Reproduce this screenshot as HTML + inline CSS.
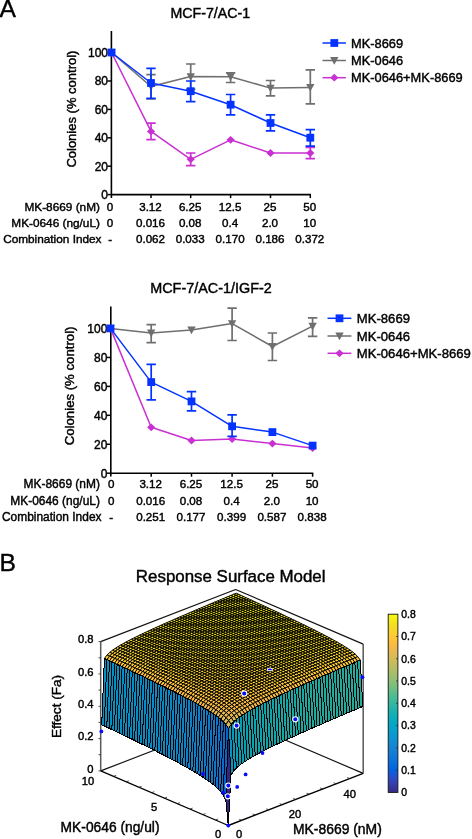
<!DOCTYPE html>
<html lang="en"><head><meta charset="utf-8"><title>Figure</title>
<style>
html,body{margin:0;padding:0;background:#fff}
svg{display:block}
text{font-family:'Liberation Sans', sans-serif;fill:#000;stroke:#000;stroke-width:0.42px}
</style></head>
<body>
<svg width="472" height="839" viewBox="0 0 472 839">
<rect width="472" height="839" fill="#fff"/>
<text x="-0.6" y="17.2" font-size="24.6">A</text>
<text x="-0.6" y="571" font-size="24.6">B</text>
<g id="chart1">
<path d="M111.4 31V198.0M110.9 194.6H311.0" fill="none" stroke="#000" stroke-width="1.6"/>
<path d="M107.4 194.60H111.4" stroke="#000" stroke-width="1.5"/>
<text x="108.0" y="198.90" text-anchor="end" font-size="12">0</text>
<path d="M107.4 166.20H111.4" stroke="#000" stroke-width="1.5"/>
<text x="108.0" y="170.50" text-anchor="end" font-size="12">20</text>
<path d="M107.4 137.80H111.4" stroke="#000" stroke-width="1.5"/>
<text x="108.0" y="142.10" text-anchor="end" font-size="12">40</text>
<path d="M107.4 109.40H111.4" stroke="#000" stroke-width="1.5"/>
<text x="108.0" y="113.70" text-anchor="end" font-size="12">60</text>
<path d="M107.4 81.00H111.4" stroke="#000" stroke-width="1.5"/>
<text x="108.0" y="85.30" text-anchor="end" font-size="12">80</text>
<path d="M107.4 52.60H111.4" stroke="#000" stroke-width="1.5"/>
<text x="108.0" y="56.90" text-anchor="end" font-size="12">100</text>
<path d="M151 194.6v3.5" stroke="#000" stroke-width="1.5"/>
<path d="M190.7 194.6v3.5" stroke="#000" stroke-width="1.5"/>
<path d="M230.6 194.6v3.5" stroke="#000" stroke-width="1.5"/>
<path d="M270.5 194.6v3.5" stroke="#000" stroke-width="1.5"/>
<path d="M310.3 194.6v3.5" stroke="#000" stroke-width="1.5"/>
<path d="M111.5 52.5 L151.0 131.4 L190.7 159.3 L230.6 139.8 L270.5 153.0 L310.3 153.0" fill="none" stroke="#c930d2" stroke-width="1.5" stroke-linejoin="round"/>
<path d="M107.4 52.5L111.5 48.6L115.6 52.5L111.5 56.4z" fill="#c930d2"/>
<path d="M151 123.2V139.7M146.3 123.2h9.4M146.3 139.7h9.4" fill="none" stroke="#c930d2" stroke-width="1.7"/>
<path d="M146.9 131.4L151.0 127.5L155.1 131.4L151.0 135.3z" fill="#c930d2"/>
<path d="M190.7 153.0V165.7M186.0 153.0h9.4M186.0 165.7h9.4" fill="none" stroke="#c930d2" stroke-width="1.7"/>
<path d="M186.6 159.3L190.7 155.4L194.8 159.3L190.7 163.2z" fill="#c930d2"/>
<path d="M226.5 139.8L230.6 135.9L234.7 139.8L230.6 143.7z" fill="#c930d2"/>
<path d="M266.4 153.0L270.5 149.1L274.6 153.0L270.5 156.9z" fill="#c930d2"/>
<path d="M310.3 147.4V158.6M305.6 147.4h9.4M305.6 158.6h9.4" fill="none" stroke="#c930d2" stroke-width="1.7"/>
<path d="M306.2 153.0L310.3 149.1L314.4 153.0L310.3 156.9z" fill="#c930d2"/>
<path d="M111.5 52.5 L151.0 86.5 L190.7 76.6 L230.6 76.7 L270.5 88.1 L310.3 87.4" fill="none" stroke="#6f6f6f" stroke-width="1.5" stroke-linejoin="round"/>
<path d="M107.3 49.1h8.4L111.5 56.7z" fill="#6f6f6f"/>
<path d="M151 74.7V99.0M146.3 74.7h9.4M146.3 99.0h9.4" fill="none" stroke="#6f6f6f" stroke-width="1.7"/>
<path d="M146.8 83.1h8.4L151.0 90.7z" fill="#6f6f6f"/>
<path d="M190.7 64.0V89.2M186.0 64.0h9.4M186.0 89.2h9.4" fill="none" stroke="#6f6f6f" stroke-width="1.7"/>
<path d="M186.5 73.2h8.4L190.7 80.8z" fill="#6f6f6f"/>
<path d="M230.6 72.8V82.5M225.9 72.8h9.4M225.9 82.5h9.4" fill="none" stroke="#6f6f6f" stroke-width="1.7"/>
<path d="M226.4 73.3h8.4L230.6 80.9z" fill="#6f6f6f"/>
<path d="M270.5 80.5V95.8M265.8 80.5h9.4M265.8 95.8h9.4" fill="none" stroke="#6f6f6f" stroke-width="1.7"/>
<path d="M266.3 84.7h8.4L270.5 92.3z" fill="#6f6f6f"/>
<path d="M310.3 69.8V103.9M305.6 69.8h9.4M305.6 103.9h9.4" fill="none" stroke="#6f6f6f" stroke-width="1.7"/>
<path d="M306.1 84.0h8.4L310.3 91.6z" fill="#6f6f6f"/>
<path d="M111.5 52.5 L151.0 83.0 L190.7 91.2 L230.6 104.7 L270.5 123.0 L310.3 137.7" fill="none" stroke="#0433ff" stroke-width="1.5" stroke-linejoin="round"/>
<rect x="107.6" y="48.6" width="7.8" height="7.8" fill="#0433ff"/>
<path d="M151 68.3V98.3M146.3 68.3h9.4M146.3 98.3h9.4" fill="none" stroke="#0433ff" stroke-width="1.7"/>
<rect x="147.1" y="79.1" width="7.8" height="7.8" fill="#0433ff"/>
<path d="M190.7 81.0V101.6M186.0 81.0h9.4M186.0 101.6h9.4" fill="none" stroke="#0433ff" stroke-width="1.7"/>
<rect x="186.8" y="87.3" width="7.8" height="7.8" fill="#0433ff"/>
<path d="M230.6 94.5V114.8M225.9 94.5h9.4M225.9 114.8h9.4" fill="none" stroke="#0433ff" stroke-width="1.7"/>
<rect x="226.7" y="100.8" width="7.8" height="7.8" fill="#0433ff"/>
<path d="M270.5 114.8V130.9M265.8 114.8h9.4M265.8 130.9h9.4" fill="none" stroke="#0433ff" stroke-width="1.7"/>
<rect x="266.6" y="119.1" width="7.8" height="7.8" fill="#0433ff"/>
<path d="M310.3 129.6V146.1M305.6 129.6h9.4M305.6 146.1h9.4" fill="none" stroke="#0433ff" stroke-width="1.7"/>
<rect x="306.4" y="133.8" width="7.8" height="7.8" fill="#0433ff"/>
<text x="210.3" y="17.8" text-anchor="middle" font-size="14.2">MCF-7/AC-1</text>
<path d="M322.5 43.0h23.4" stroke="#0433ff" stroke-width="1.5"/>
<rect x="330.4" y="39.1" width="7.8" height="7.8" fill="#0433ff"/>
<text x="351.0" y="47.6" font-size="12.85">MK-8669</text>
<path d="M322.5 60.5h23.4" stroke="#6f6f6f" stroke-width="1.5"/>
<path d="M330.1 57.1h8.4L334.3 64.7z" fill="#6f6f6f"/>
<text x="351.0" y="65.1" font-size="12.85">MK-0646</text>
<path d="M322.5 77.7h23.4" stroke="#c930d2" stroke-width="1.5"/>
<path d="M330.2 77.7L334.3 73.8L338.4 77.7L334.3 81.6z" fill="#c930d2"/>
<text x="351.0" y="82.3" font-size="12.85">MK-0646+MK-8669</text>
<text x="99.9" y="210.5" text-anchor="end" font-size="11.80">MK-8669 (nM)</text>
<text x="110.1" y="210.5" text-anchor="middle" font-size="11.6">0</text>
<text x="150.5" y="210.5" text-anchor="middle" font-size="11.6">3.12</text>
<text x="190.2" y="210.5" text-anchor="middle" font-size="11.6">6.25</text>
<text x="230.1" y="210.5" text-anchor="middle" font-size="11.6">12.5</text>
<text x="270.0" y="210.5" text-anchor="middle" font-size="11.6">25</text>
<text x="309.8" y="210.5" text-anchor="middle" font-size="11.6">50</text>
<text x="99.9" y="227" text-anchor="end" font-size="11.80">MK-0646 (ng/uL)</text>
<text x="110.1" y="227" text-anchor="middle" font-size="11.6">0</text>
<text x="150.5" y="227" text-anchor="middle" font-size="11.6">0.016</text>
<text x="190.2" y="227" text-anchor="middle" font-size="11.6">0.08</text>
<text x="230.1" y="227" text-anchor="middle" font-size="11.6">0.4</text>
<text x="270.0" y="227" text-anchor="middle" font-size="11.6">2.0</text>
<text x="309.8" y="227" text-anchor="middle" font-size="11.6">10</text>
<text x="101.5" y="242.6" text-anchor="end" font-size="11.80">Combination Index</text>
<text x="110.1" y="242.6" text-anchor="middle" font-size="11.6">-</text>
<text x="150.5" y="242.6" text-anchor="middle" font-size="11.6">0.062</text>
<text x="190.2" y="242.6" text-anchor="middle" font-size="11.6">0.033</text>
<text x="230.1" y="242.6" text-anchor="middle" font-size="11.6">0.170</text>
<text x="270.0" y="242.6" text-anchor="middle" font-size="11.6">0.186</text>
<text x="309.8" y="242.6" text-anchor="middle" font-size="11.6">0.372</text>
<text transform="translate(75.5 109.1) rotate(-90)" text-anchor="middle" font-size="13">Colonies (% control)</text>
</g>
<g id="chart2">
<path d="M110.8 306.5V476.6M110.3 473.2H313.3" fill="none" stroke="#000" stroke-width="1.6"/>
<path d="M106.8 473.20H110.8" stroke="#000" stroke-width="1.5"/>
<text x="107.4" y="477.50" text-anchor="end" font-size="12">0</text>
<path d="M106.8 444.26H110.8" stroke="#000" stroke-width="1.5"/>
<text x="107.4" y="448.56" text-anchor="end" font-size="12">20</text>
<path d="M106.8 415.32H110.8" stroke="#000" stroke-width="1.5"/>
<text x="107.4" y="419.62" text-anchor="end" font-size="12">40</text>
<path d="M106.8 386.38H110.8" stroke="#000" stroke-width="1.5"/>
<text x="107.4" y="390.68" text-anchor="end" font-size="12">60</text>
<path d="M106.8 357.44H110.8" stroke="#000" stroke-width="1.5"/>
<text x="107.4" y="361.74" text-anchor="end" font-size="12">80</text>
<path d="M106.8 328.50H110.8" stroke="#000" stroke-width="1.5"/>
<text x="107.4" y="332.80" text-anchor="end" font-size="12">100</text>
<path d="M151.2 473.2v3.5" stroke="#000" stroke-width="1.5"/>
<path d="M191.5 473.2v3.5" stroke="#000" stroke-width="1.5"/>
<path d="M232.1 473.2v3.5" stroke="#000" stroke-width="1.5"/>
<path d="M272.4 473.2v3.5" stroke="#000" stroke-width="1.5"/>
<path d="M312.6 473.2v3.5" stroke="#000" stroke-width="1.5"/>
<path d="M110.5 328.4 L151.2 333.0 L191.5 330.0 L232.1 323.6 L272.4 346.5 L312.6 326.2" fill="none" stroke="#6f6f6f" stroke-width="1.5" stroke-linejoin="round"/>
<path d="M106.3 325.0h8.4L110.5 332.6z" fill="#6f6f6f"/>
<path d="M151.2 324.7V342.7M146.5 324.7h9.4M146.5 342.7h9.4" fill="none" stroke="#6f6f6f" stroke-width="1.7"/>
<path d="M147.0 329.6h8.4L151.2 337.2z" fill="#6f6f6f"/>
<path d="M187.3 326.6h8.4L191.5 334.2z" fill="#6f6f6f"/>
<path d="M232.1 308.1V340.5M227.4 308.1h9.4M227.4 340.5h9.4" fill="none" stroke="#6f6f6f" stroke-width="1.7"/>
<path d="M227.9 320.2h8.4L232.1 327.8z" fill="#6f6f6f"/>
<path d="M272.4 333.0V360.5M267.7 333.0h9.4M267.7 360.5h9.4" fill="none" stroke="#6f6f6f" stroke-width="1.7"/>
<path d="M268.2 343.1h8.4L272.4 350.7z" fill="#6f6f6f"/>
<path d="M312.6 317.8V336.4M307.9 317.8h9.4M307.9 336.4h9.4" fill="none" stroke="#6f6f6f" stroke-width="1.7"/>
<path d="M308.4 322.8h8.4L312.6 330.4z" fill="#6f6f6f"/>
<path d="M110.5 328.4 L151.2 427.3 L191.5 440.5 L232.1 439.0 L272.4 443.6 L312.6 448.1" fill="none" stroke="#c930d2" stroke-width="1.5" stroke-linejoin="round"/>
<path d="M106.4 328.4L110.5 324.5L114.6 328.4L110.5 332.3z" fill="#c930d2"/>
<path d="M147.1 427.3L151.2 423.4L155.3 427.3L151.2 431.2z" fill="#c930d2"/>
<path d="M187.4 440.5L191.5 436.6L195.6 440.5L191.5 444.4z" fill="#c930d2"/>
<path d="M228.0 439.0L232.1 435.1L236.2 439.0L232.1 442.9z" fill="#c930d2"/>
<path d="M268.3 443.6L272.4 439.7L276.5 443.6L272.4 447.5z" fill="#c930d2"/>
<path d="M308.5 448.1L312.6 444.2L316.7 448.1L312.6 452.0z" fill="#c930d2"/>
<path d="M110.5 328.4 L151.2 382.1 L191.5 401.4 L232.1 426.3 L272.4 432.1 L312.6 445.6" fill="none" stroke="#0433ff" stroke-width="1.5" stroke-linejoin="round"/>
<rect x="106.6" y="324.5" width="7.8" height="7.8" fill="#0433ff"/>
<path d="M151.2 364.3V399.9M146.5 364.3h9.4M146.5 399.9h9.4" fill="none" stroke="#0433ff" stroke-width="1.7"/>
<rect x="147.3" y="378.2" width="7.8" height="7.8" fill="#0433ff"/>
<path d="M191.5 391.6V410.8M186.8 391.6h9.4M186.8 410.8h9.4" fill="none" stroke="#0433ff" stroke-width="1.7"/>
<rect x="187.6" y="397.5" width="7.8" height="7.8" fill="#0433ff"/>
<path d="M232.1 414.9V436.4M227.4 414.9h9.4M227.4 436.4h9.4" fill="none" stroke="#0433ff" stroke-width="1.7"/>
<rect x="228.2" y="422.4" width="7.8" height="7.8" fill="#0433ff"/>
<rect x="268.5" y="428.2" width="7.8" height="7.8" fill="#0433ff"/>
<rect x="308.7" y="441.7" width="7.8" height="7.8" fill="#0433ff"/>
<text x="211" y="292.6" text-anchor="middle" font-size="14.4">MCF-7/AC-1/IGF-2</text>
<path d="M327.5 318.3h23.9" stroke="#0433ff" stroke-width="1.5"/>
<rect x="335.6" y="314.4" width="7.8" height="7.8" fill="#0433ff"/>
<text x="356.8" y="322.9" font-size="13.11">MK-8669</text>
<path d="M327.5 336.0h23.9" stroke="#6f6f6f" stroke-width="1.5"/>
<path d="M335.3 332.6h8.4L339.5 340.2z" fill="#6f6f6f"/>
<text x="356.8" y="340.6" font-size="13.11">MK-0646</text>
<path d="M327.5 353.3h23.9" stroke="#c930d2" stroke-width="1.5"/>
<path d="M335.4 353.3L339.5 349.4L343.6 353.3L339.5 357.2z" fill="#c930d2"/>
<text x="356.8" y="357.9" font-size="13.11">MK-0646+MK-8669</text>
<text x="99.9" y="488.3" text-anchor="end" font-size="11.94">MK-8669 (nM)</text>
<text x="111.3" y="488.3" text-anchor="middle" font-size="11.6">0</text>
<text x="150.7" y="488.3" text-anchor="middle" font-size="11.6">3.12</text>
<text x="191.0" y="488.3" text-anchor="middle" font-size="11.6">6.25</text>
<text x="231.6" y="488.3" text-anchor="middle" font-size="11.6">12.5</text>
<text x="271.9" y="488.3" text-anchor="middle" font-size="11.6">25</text>
<text x="312.1" y="488.3" text-anchor="middle" font-size="11.6">50</text>
<text x="99.9" y="505" text-anchor="end" font-size="11.94">MK-0646 (ng/uL)</text>
<text x="111.3" y="505" text-anchor="middle" font-size="11.6">0</text>
<text x="150.7" y="505" text-anchor="middle" font-size="11.6">0.016</text>
<text x="191.0" y="505" text-anchor="middle" font-size="11.6">0.08</text>
<text x="231.6" y="505" text-anchor="middle" font-size="11.6">0.4</text>
<text x="271.9" y="505" text-anchor="middle" font-size="11.6">2.0</text>
<text x="312.1" y="505" text-anchor="middle" font-size="11.6">10</text>
<text x="101.5" y="520.6" text-anchor="end" font-size="11.94">Combination Index</text>
<text x="111.3" y="520.6" text-anchor="middle" font-size="11.6">-</text>
<text x="150.7" y="520.6" text-anchor="middle" font-size="11.6">0.251</text>
<text x="191.0" y="520.6" text-anchor="middle" font-size="11.6">0.177</text>
<text x="231.6" y="520.6" text-anchor="middle" font-size="11.6">0.399</text>
<text x="271.9" y="520.6" text-anchor="middle" font-size="11.6">0.587</text>
<text x="312.1" y="520.6" text-anchor="middle" font-size="11.6">0.838</text>
<text transform="translate(73.7 385.9) rotate(-90)" text-anchor="middle" font-size="13.2">Colonies (% control)</text>
</g>
<g id="panelB">
<path d="M100.7 770.9L235.6 718.8M235.6 718.8L363.2 773.4M100.7 641.6L235.6 589.5M235.6 589.5L363.2 644.1" fill="none" stroke="#111" stroke-width="1.15"/>
<path d="M100.7 770.9L100.7 641.6M363.2 773.4L363.2 644.1" fill="none" stroke="#5a5a5a" stroke-width="1.5"/>
<path d="M228.3 825.5L100.7 770.9M228.3 825.5L363.2 773.4" fill="none" stroke="#000" stroke-width="1.35"/>
<path d="M241.8 820.3l-2.6 -1.1M215.5 820.0l2.6 -1M255.3 815.1l-2.6 -1.1M202.8 814.6l2.6 -1M268.8 809.9l-2.6 -1.1M190.0 809.1l2.6 -1M282.3 804.7l-2.6 -1.1M177.3 803.7l2.6 -1M295.8 799.5l-2.6 -1.1M164.5 798.2l2.6 -1M309.2 794.2l-2.6 -1.1M151.7 792.7l2.6 -1M322.7 789.0l-2.6 -1.1M139.0 787.3l2.6 -1M336.2 783.8l-2.6 -1.1M126.2 781.8l2.6 -1M349.7 778.6l-2.6 -1.1M113.5 776.4l2.6 -1M100.7 770.9h-2.2M100.7 754.7h-2.2M100.7 738.6h-2.2M100.7 722.4h-2.2M100.7 706.3h-2.2M100.7 690.1h-2.2M100.7 673.9h-2.2M100.7 657.8h-2.2M100.7 641.6h-2.2" fill="none" stroke="#222" stroke-width="0.8"/>
<g stroke="#000" stroke-width="0.98" stroke-linejoin="round"><path d="M236.06 595.45l2.69-1.11l-2.53-1.16l-2.69 1.11z" fill="#f5ee16"/><path d="M233.37 596.57l2.69-1.11l-2.53-1.16l-2.69 1.11z" fill="#f5ee16"/><path d="M238.59 596.61l2.69-1.11l-2.53-1.16l-2.69 1.11z" fill="#f5ee16"/><path d="M230.68 597.68l2.69-1.12l-2.53-1.16l-2.69 1.12z" fill="#f5ee16"/><path d="M235.9 597.72l2.69-1.11l-2.53-1.16l-2.69 1.11z" fill="#f5ee16"/><path d="M241.12 597.77l2.69-1.11l-2.53-1.16l-2.69 1.11z" fill="#f5ee16"/><path d="M227.99 598.8l2.69-1.12l-2.53-1.16l-2.69 1.12z" fill="#f5ed17"/><path d="M233.21 598.84l2.69-1.12l-2.53-1.16l-2.69 1.12z" fill="#f5ed17"/><path d="M238.43 598.88l2.69-1.11l-2.53-1.16l-2.69 1.11z" fill="#f5ed17"/><path d="M243.65 598.93l2.69-1.11l-2.53-1.16l-2.69 1.11z" fill="#f5ed17"/><path d="M225.3 599.92l2.69-1.12l-2.53-1.16l-2.69 1.12z" fill="#f5ed17"/><path d="M230.52 599.96l2.69-1.12l-2.53-1.16l-2.69 1.12z" fill="#f5ed17"/><path d="M235.74 600l2.69-1.12l-2.53-1.16l-2.69 1.12z" fill="#f5ed17"/><path d="M240.96 600.04l2.69-1.12l-2.53-1.16l-2.69 1.11z" fill="#f5ed17"/><path d="M246.18 600.09l2.69-1.11l-2.53-1.16l-2.69 1.11z" fill="#f5ed17"/><path d="M222.61 601.04l2.69-1.12l-2.53-1.16l-2.69 1.12z" fill="#f5ed17"/><path d="M227.83 601.08l2.69-1.12l-2.53-1.16l-2.69 1.12z" fill="#f5ed17"/><path d="M233.05 601.12l2.69-1.12l-2.53-1.16l-2.69 1.12z" fill="#f5ed17"/><path d="M238.27 601.16l2.69-1.12l-2.53-1.16l-2.69 1.12z" fill="#f5ed17"/><path d="M243.49 601.2l2.69-1.12l-2.53-1.16l-2.69 1.12z" fill="#f5ed17"/><path d="M248.72 601.25l2.69-1.11l-2.53-1.16l-2.69 1.11z" fill="#f5ed17"/><path d="M219.92 602.17l2.69-1.12l-2.53-1.16l-2.69 1.12z" fill="#f5ed17"/><path d="M225.14 602.2l2.69-1.12l-2.53-1.16l-2.69 1.12z" fill="#f5ed17"/><path d="M230.36 602.24l2.69-1.12l-2.53-1.16l-2.69 1.12z" fill="#f5ed17"/><path d="M235.58 602.28l2.69-1.12l-2.53-1.16l-2.69 1.12z" fill="#f5ed17"/><path d="M240.8 602.32l2.69-1.12l-2.53-1.16l-2.69 1.12z" fill="#f5ed17"/><path d="M246.03 602.37l2.69-1.12l-2.53-1.16l-2.69 1.12z" fill="#f5ed17"/><path d="M251.25 602.42l2.69-1.11l-2.53-1.16l-2.69 1.11z" fill="#f5ed17"/><path d="M217.23 603.29l2.69-1.13l-2.53-1.16l-2.69 1.13z" fill="#f5ec17"/><path d="M222.45 603.32l2.69-1.12l-2.53-1.16l-2.69 1.12z" fill="#f5ec17"/><path d="M227.67 603.36l2.69-1.12l-2.53-1.16l-2.69 1.12z" fill="#f5ec17"/><path d="M232.89 603.4l2.69-1.12l-2.53-1.16l-2.69 1.12z" fill="#f5ec17"/><path d="M238.11 603.44l2.69-1.12l-2.53-1.16l-2.69 1.12z" fill="#f5ec17"/><path d="M243.34 603.48l2.69-1.12l-2.53-1.16l-2.69 1.12z" fill="#f5ec17"/><path d="M248.56 603.53l2.69-1.12l-2.53-1.17l-2.69 1.12z" fill="#f5ec17"/><path d="M253.78 603.58l2.69-1.11l-2.53-1.17l-2.69 1.11z" fill="#f5ec17"/><path d="M214.54 604.42l2.69-1.13l-2.53-1.16l-2.69 1.13z" fill="#f5ec18"/><path d="M219.76 604.45l2.69-1.13l-2.53-1.16l-2.69 1.13z" fill="#f5ec18"/><path d="M224.98 604.48l2.69-1.12l-2.53-1.16l-2.69 1.12z" fill="#f5ec18"/><path d="M230.2 604.52l2.69-1.12l-2.53-1.16l-2.69 1.12z" fill="#f5ec18"/><path d="M235.42 604.56l2.69-1.12l-2.53-1.16l-2.69 1.12z" fill="#f5ec18"/><path d="M240.65 604.6l2.69-1.12l-2.53-1.16l-2.69 1.12z" fill="#f5ec18"/><path d="M245.87 604.65l2.69-1.12l-2.53-1.17l-2.69 1.12z" fill="#f5ec18"/><path d="M251.09 604.7l2.69-1.12l-2.53-1.17l-2.69 1.12z" fill="#f5ec18"/><path d="M256.31 604.75l2.69-1.11l-2.53-1.17l-2.69 1.11z" fill="#f5ec18"/><path d="M211.85 605.55l2.69-1.13l-2.53-1.16l-2.69 1.13z" fill="#f5ec18"/><path d="M217.07 605.58l2.69-1.13l-2.53-1.16l-2.69 1.13z" fill="#f5ec18"/><path d="M222.29 605.61l2.69-1.13l-2.53-1.16l-2.69 1.13z" fill="#f5ec18"/><path d="M227.51 605.64l2.69-1.12l-2.53-1.16l-2.69 1.12z" fill="#f5ec18"/><path d="M232.73 605.68l2.69-1.12l-2.53-1.16l-2.69 1.12z" fill="#f5ec18"/><path d="M237.96 605.72l2.69-1.12l-2.53-1.16l-2.69 1.12z" fill="#f5ec18"/><path d="M243.18 605.77l2.69-1.12l-2.53-1.17l-2.69 1.12z" fill="#f5ec18"/><path d="M248.4 605.82l2.69-1.12l-2.53-1.17l-2.69 1.12z" fill="#f5ec18"/><path d="M253.62 605.87l2.69-1.12l-2.53-1.17l-2.69 1.12z" fill="#f5ec18"/><path d="M258.84 605.92l2.69-1.11l-2.53-1.17l-2.69 1.11z" fill="#f5ec18"/><path d="M209.16 606.68l2.69-1.13l-2.53-1.16l-2.69 1.13z" fill="#f5eb18"/><path d="M214.38 606.71l2.69-1.13l-2.53-1.16l-2.69 1.13z" fill="#f5eb18"/><path d="M219.6 606.74l2.69-1.13l-2.53-1.16l-2.69 1.13z" fill="#f5eb18"/><path d="M224.82 606.77l2.69-1.13l-2.53-1.16l-2.69 1.13z" fill="#f5eb18"/><path d="M230.04 606.8l2.69-1.12l-2.53-1.16l-2.69 1.12z" fill="#f5eb18"/><path d="M235.27 606.84l2.69-1.12l-2.53-1.16l-2.69 1.12z" fill="#f5eb18"/><path d="M240.49 606.89l2.69-1.12l-2.53-1.17l-2.69 1.12z" fill="#f5eb18"/><path d="M245.71 606.93l2.69-1.12l-2.53-1.17l-2.69 1.12z" fill="#f5eb18"/><path d="M250.93 606.99l2.69-1.12l-2.53-1.17l-2.69 1.12z" fill="#f5eb18"/><path d="M256.15 607.04l2.69-1.12l-2.53-1.17l-2.69 1.12z" fill="#f5eb18"/><path d="M261.37 607.1l2.69-1.11l-2.53-1.17l-2.69 1.11z" fill="#f5eb18"/><path d="M206.47 607.82l2.69-1.13l-2.53-1.16l-2.69 1.13z" fill="#f5eb18"/><path d="M211.69 607.84l2.69-1.13l-2.53-1.16l-2.69 1.13z" fill="#f5eb18"/><path d="M216.91 607.87l2.69-1.13l-2.53-1.16l-2.69 1.13z" fill="#f5eb18"/><path d="M222.13 607.9l2.69-1.13l-2.53-1.16l-2.69 1.13z" fill="#f5eb18"/><path d="M227.35 607.93l2.69-1.13l-2.53-1.16l-2.69 1.13z" fill="#f5eb18"/><path d="M232.58 607.97l2.69-1.12l-2.53-1.16l-2.69 1.12z" fill="#f5eb18"/><path d="M237.8 608.01l2.69-1.12l-2.53-1.17l-2.69 1.12z" fill="#f5eb18"/><path d="M243.02 608.06l2.69-1.12l-2.53-1.17l-2.69 1.12z" fill="#f5eb18"/><path d="M248.24 608.1l2.69-1.12l-2.53-1.17l-2.69 1.12z" fill="#f5eb18"/><path d="M253.46 608.16l2.69-1.12l-2.53-1.17l-2.69 1.12z" fill="#f5eb18"/><path d="M258.68 608.21l2.69-1.12l-2.53-1.17l-2.69 1.12z" fill="#f5eb18"/><path d="M263.91 608.27l2.69-1.11l-2.53-1.18l-2.69 1.11z" fill="#f5eb18"/><path d="M203.78 608.95l2.69-1.14l-2.53-1.16l-2.69 1.14z" fill="#f5eb19"/><path d="M209 608.97l2.69-1.13l-2.53-1.16l-2.69 1.13z" fill="#f5eb18"/><path d="M214.22 609l2.69-1.13l-2.53-1.16l-2.69 1.13z" fill="#f5eb18"/><path d="M219.44 609.03l2.69-1.13l-2.53-1.16l-2.69 1.13z" fill="#f5eb18"/><path d="M224.66 609.06l2.69-1.13l-2.53-1.16l-2.69 1.13z" fill="#f5eb18"/><path d="M229.89 609.09l2.69-1.13l-2.53-1.16l-2.69 1.13z" fill="#f5eb18"/><path d="M235.11 609.13l2.69-1.12l-2.53-1.17l-2.69 1.12z" fill="#f5eb18"/><path d="M240.33 609.18l2.69-1.12l-2.53-1.17l-2.69 1.12z" fill="#f5eb18"/><path d="M245.55 609.22l2.69-1.12l-2.53-1.17l-2.69 1.12z" fill="#f5eb18"/><path d="M250.77 609.28l2.69-1.12l-2.53-1.17l-2.69 1.12z" fill="#f5eb18"/><path d="M255.99 609.33l2.69-1.12l-2.53-1.17l-2.69 1.12z" fill="#f5eb18"/><path d="M261.22 609.39l2.69-1.12l-2.53-1.18l-2.69 1.12z" fill="#f5eb18"/><path d="M266.44 609.45l2.69-1.11l-2.53-1.18l-2.69 1.11z" fill="#f5eb18"/><path d="M201.09 610.09l2.69-1.14l-2.53-1.16l-2.69 1.14z" fill="#f5ea19"/><path d="M206.31 610.11l2.69-1.14l-2.53-1.16l-2.69 1.14z" fill="#f5ea19"/><path d="M211.53 610.13l2.69-1.13l-2.53-1.16l-2.69 1.13z" fill="#f5ea19"/><path d="M216.75 610.16l2.69-1.13l-2.53-1.16l-2.69 1.13z" fill="#f5ea19"/><path d="M221.97 610.19l2.69-1.13l-2.53-1.16l-2.69 1.13z" fill="#f5eb19"/><path d="M227.2 610.22l2.69-1.13l-2.53-1.16l-2.69 1.13z" fill="#f5eb19"/><path d="M232.42 610.26l2.69-1.13l-2.53-1.17l-2.69 1.13z" fill="#f5eb19"/><path d="M237.64 610.3l2.69-1.12l-2.53-1.17l-2.69 1.12z" fill="#f5eb19"/><path d="M242.86 610.35l2.69-1.12l-2.53-1.17l-2.69 1.12z" fill="#f5eb19"/><path d="M248.08 610.4l2.69-1.12l-2.53-1.17l-2.69 1.12z" fill="#f5eb19"/><path d="M253.3 610.45l2.69-1.12l-2.53-1.17l-2.69 1.12z" fill="#f5eb19"/><path d="M258.53 610.51l2.69-1.12l-2.53-1.18l-2.69 1.12z" fill="#f5ea19"/><path d="M263.75 610.57l2.69-1.12l-2.53-1.18l-2.69 1.12z" fill="#f5ea19"/><path d="M268.97 610.63l2.69-1.11l-2.53-1.18l-2.69 1.11z" fill="#f5ea19"/><path d="M198.4 611.23l2.69-1.14l-2.53-1.16l-2.69 1.14z" fill="#f5ea19"/><path d="M203.62 611.25l2.69-1.14l-2.53-1.16l-2.69 1.14z" fill="#f5ea19"/><path d="M208.84 611.27l2.69-1.14l-2.53-1.16l-2.69 1.14z" fill="#f5ea19"/><path d="M214.06 611.29l2.69-1.13l-2.53-1.16l-2.69 1.13z" fill="#f5ea19"/><path d="M219.29 611.32l2.69-1.13l-2.53-1.16l-2.69 1.13z" fill="#f5ea19"/><path d="M224.51 611.35l2.69-1.13l-2.53-1.16l-2.69 1.13z" fill="#f5ea19"/><path d="M229.73 611.39l2.69-1.13l-2.53-1.17l-2.69 1.13z" fill="#f5ea19"/><path d="M234.95 611.43l2.69-1.13l-2.53-1.17l-2.69 1.13z" fill="#f5ea19"/><path d="M240.17 611.47l2.69-1.12l-2.53-1.17l-2.69 1.12z" fill="#f5ea19"/><path d="M245.39 611.52l2.69-1.12l-2.53-1.17l-2.69 1.12z" fill="#f5ea19"/><path d="M250.61 611.57l2.69-1.12l-2.53-1.17l-2.69 1.12z" fill="#f5ea19"/><path d="M255.84 611.63l2.69-1.12l-2.53-1.18l-2.69 1.12z" fill="#f5ea19"/><path d="M261.06 611.68l2.69-1.12l-2.53-1.18l-2.69 1.12z" fill="#f5ea19"/><path d="M266.28 611.75l2.69-1.12l-2.53-1.18l-2.69 1.12z" fill="#f5ea19"/><path d="M271.5 611.82l2.69-1.11l-2.53-1.18l-2.69 1.11z" fill="#f5ea19"/><path d="M195.71 612.38l2.69-1.15l-2.53-1.16l-2.69 1.15z" fill="#f5ea19"/><path d="M200.93 612.39l2.69-1.14l-2.53-1.16l-2.69 1.14z" fill="#f5ea19"/><path d="M206.15 612.41l2.69-1.14l-2.53-1.16l-2.69 1.14z" fill="#f5ea19"/><path d="M211.37 612.43l2.69-1.14l-2.53-1.16l-2.69 1.14z" fill="#f5ea19"/><path d="M216.6 612.46l2.69-1.13l-2.53-1.16l-2.69 1.13z" fill="#f5ea19"/><path d="M221.82 612.49l2.69-1.13l-2.53-1.16l-2.69 1.13z" fill="#f5ea19"/><path d="M227.04 612.52l2.69-1.13l-2.53-1.17l-2.69 1.13z" fill="#f5ea19"/><path d="M232.26 612.56l2.69-1.13l-2.53-1.17l-2.69 1.13z" fill="#f5ea19"/><path d="M237.48 612.6l2.69-1.13l-2.53-1.17l-2.69 1.13z" fill="#f5ea19"/><path d="M242.7 612.64l2.69-1.12l-2.53-1.17l-2.69 1.12z" fill="#f5ea19"/><path d="M247.92 612.69l2.69-1.12l-2.53-1.17l-2.69 1.12z" fill="#f5ea19"/><path d="M253.15 612.75l2.69-1.12l-2.53-1.18l-2.69 1.12z" fill="#f5ea19"/><path d="M258.37 612.8l2.69-1.12l-2.53-1.18l-2.69 1.12z" fill="#f5ea19"/><path d="M263.59 612.87l2.69-1.12l-2.53-1.18l-2.69 1.12z" fill="#f5ea19"/><path d="M268.81 612.93l2.69-1.12l-2.53-1.18l-2.69 1.12z" fill="#f5ea19"/><path d="M274.03 613l2.69-1.11l-2.53-1.19l-2.69 1.11z" fill="#f5ea19"/><path d="M193.02 613.53l2.69-1.15l-2.53-1.16l-2.69 1.15z" fill="#f5e919"/><path d="M198.24 613.54l2.69-1.15l-2.53-1.16l-2.69 1.15z" fill="#f5e919"/><path d="M203.46 613.55l2.69-1.14l-2.53-1.16l-2.69 1.14z" fill="#f5e919"/><path d="M208.68 613.57l2.69-1.14l-2.53-1.16l-2.69 1.14z" fill="#f5e919"/><path d="M213.91 613.59l2.69-1.14l-2.53-1.16l-2.69 1.14z" fill="#f5ea19"/><path d="M219.13 613.62l2.69-1.14l-2.53-1.16l-2.69 1.13z" fill="#f5ea19"/><path d="M224.35 613.65l2.69-1.13l-2.53-1.17l-2.69 1.13z" fill="#f5ea19"/><path d="M229.57 613.69l2.69-1.13l-2.53-1.17l-2.69 1.13z" fill="#f5ea19"/><path d="M234.79 613.73l2.69-1.13l-2.53-1.17l-2.69 1.13z" fill="#f5ea19"/><path d="M240.01 613.77l2.69-1.13l-2.53-1.17l-2.69 1.13z" fill="#f5ea19"/><path d="M245.23 613.82l2.69-1.12l-2.53-1.17l-2.69 1.12z" fill="#f5ea19"/><path d="M250.46 613.87l2.69-1.12l-2.53-1.18l-2.69 1.12z" fill="#f5ea19"/><path d="M255.68 613.92l2.69-1.12l-2.53-1.18l-2.69 1.12z" fill="#f5ea19"/><path d="M260.9 613.98l2.69-1.12l-2.53-1.18l-2.69 1.12z" fill="#f5ea19"/><path d="M266.12 614.05l2.69-1.12l-2.53-1.18l-2.69 1.12z" fill="#f5e919"/><path d="M271.34 614.12l2.69-1.12l-2.53-1.19l-2.69 1.12z" fill="#f5e919"/><path d="M276.56 614.19l2.69-1.11l-2.53-1.19l-2.69 1.11z" fill="#f5e919"/><path d="M190.33 614.68l2.69-1.15l-2.53-1.16l-2.69 1.15z" fill="#f5e91a"/><path d="M195.55 614.69l2.69-1.15l-2.53-1.16l-2.69 1.15z" fill="#f5e91a"/><path d="M200.77 614.7l2.69-1.15l-2.53-1.16l-2.69 1.15z" fill="#f5e91a"/><path d="M205.99 614.71l2.69-1.14l-2.53-1.16l-2.69 1.14z" fill="#f5e91a"/><path d="M211.22 614.73l2.69-1.14l-2.53-1.16l-2.69 1.14z" fill="#f5e919"/><path d="M216.44 614.76l2.69-1.14l-2.53-1.16l-2.69 1.14z" fill="#f5e919"/><path d="M221.66 614.79l2.69-1.14l-2.53-1.17l-2.69 1.14z" fill="#f5e919"/><path d="M226.88 614.82l2.69-1.13l-2.53-1.17l-2.69 1.13z" fill="#f5e919"/><path d="M232.1 614.86l2.69-1.13l-2.53-1.17l-2.69 1.13z" fill="#f5e919"/><path d="M237.32 614.9l2.69-1.13l-2.53-1.17l-2.69 1.13z" fill="#f5e919"/><path d="M242.54 614.94l2.69-1.13l-2.53-1.17l-2.69 1.13z" fill="#f5e919"/><path d="M247.77 614.99l2.69-1.12l-2.53-1.18l-2.69 1.12z" fill="#f5e919"/><path d="M252.99 615.05l2.69-1.12l-2.53-1.18l-2.69 1.12z" fill="#f5e919"/><path d="M258.21 615.11l2.69-1.12l-2.53-1.18l-2.69 1.12z" fill="#f5e919"/><path d="M263.43 615.17l2.69-1.12l-2.53-1.18l-2.69 1.12z" fill="#f5e919"/><path d="M268.65 615.24l2.69-1.12l-2.53-1.19l-2.69 1.12z" fill="#f5e919"/><path d="M273.87 615.31l2.69-1.12l-2.53-1.19l-2.69 1.12z" fill="#f5e91a"/><path d="M279.09 615.38l2.69-1.12l-2.53-1.19l-2.69 1.11z" fill="#f5e91a"/><path d="M187.64 615.84l2.69-1.16l-2.53-1.16l-2.69 1.16z" fill="#f5e81a"/><path d="M192.86 615.84l2.69-1.15l-2.53-1.16l-2.69 1.15z" fill="#f5e91a"/><path d="M198.08 615.85l2.69-1.15l-2.53-1.16l-2.69 1.15z" fill="#f5e91a"/><path d="M203.3 615.86l2.69-1.15l-2.53-1.16l-2.69 1.15z" fill="#f5e91a"/><path d="M208.53 615.88l2.69-1.14l-2.53-1.16l-2.69 1.14z" fill="#f5e91a"/><path d="M213.75 615.9l2.69-1.14l-2.53-1.16l-2.69 1.14z" fill="#f5e91a"/><path d="M218.97 615.92l2.69-1.14l-2.53-1.17l-2.69 1.14z" fill="#f5e91a"/><path d="M224.19 615.95l2.69-1.14l-2.53-1.17l-2.69 1.14z" fill="#f5e91a"/><path d="M229.41 615.99l2.69-1.13l-2.53-1.17l-2.69 1.13z" fill="#f5e91a"/><path d="M234.63 616.03l2.69-1.13l-2.53-1.17l-2.69 1.13z" fill="#f5e91a"/><path d="M239.85 616.07l2.69-1.13l-2.53-1.17l-2.69 1.13z" fill="#f5e91a"/><path d="M245.08 616.12l2.69-1.13l-2.53-1.18l-2.69 1.13z" fill="#f5e91a"/><path d="M250.3 616.17l2.69-1.12l-2.53-1.18l-2.69 1.12z" fill="#f5e91a"/><path d="M255.52 616.23l2.69-1.12l-2.53-1.18l-2.69 1.12z" fill="#f5e91a"/><path d="M260.74 616.29l2.69-1.12l-2.53-1.18l-2.69 1.12z" fill="#f5e91a"/><path d="M265.96 616.36l2.69-1.12l-2.53-1.19l-2.69 1.12z" fill="#f5e91a"/><path d="M271.18 616.43l2.69-1.12l-2.53-1.19l-2.69 1.12z" fill="#f5e91a"/><path d="M276.4 616.5l2.69-1.12l-2.53-1.19l-2.69 1.12z" fill="#f5e91a"/><path d="M281.63 616.58l2.69-1.12l-2.53-1.2l-2.69 1.12z" fill="#f5e91a"/><path d="M184.95 617l2.69-1.16l-2.53-1.16l-2.69 1.16z" fill="#f5e81a"/><path d="M190.17 617l2.69-1.16l-2.53-1.16l-2.69 1.16z" fill="#f5e81a"/><path d="M195.39 617l2.69-1.15l-2.53-1.16l-2.69 1.15z" fill="#f5e81a"/><path d="M200.61 617.01l2.69-1.15l-2.53-1.16l-2.69 1.15z" fill="#f5e81a"/><path d="M205.84 617.02l2.69-1.15l-2.53-1.16l-2.69 1.15z" fill="#f5e81a"/><path d="M211.06 617.04l2.69-1.14l-2.53-1.16l-2.69 1.14z" fill="#f5e91a"/><path d="M216.28 617.06l2.69-1.14l-2.53-1.17l-2.69 1.14z" fill="#f5e91a"/><path d="M221.5 617.09l2.69-1.14l-2.53-1.17l-2.69 1.14z" fill="#f5e91a"/><path d="M226.72 617.13l2.69-1.14l-2.53-1.17l-2.69 1.14z" fill="#f5e91a"/><path d="M231.94 617.16l2.69-1.13l-2.53-1.17l-2.69 1.13z" fill="#f5e91a"/><path d="M237.16 617.2l2.69-1.13l-2.53-1.17l-2.69 1.13z" fill="#f5e91a"/><path d="M242.39 617.25l2.69-1.13l-2.53-1.18l-2.69 1.13z" fill="#f5e91a"/><path d="M247.61 617.3l2.69-1.13l-2.53-1.18l-2.69 1.13z" fill="#f5e91a"/><path d="M252.83 617.35l2.69-1.12l-2.53-1.18l-2.69 1.12z" fill="#f5e91a"/><path d="M258.05 617.41l2.69-1.12l-2.53-1.18l-2.69 1.12z" fill="#f5e91a"/><path d="M263.27 617.48l2.69-1.12l-2.53-1.19l-2.69 1.12z" fill="#f5e91a"/><path d="M268.49 617.55l2.69-1.12l-2.53-1.19l-2.69 1.12z" fill="#f5e91a"/><path d="M273.71 617.62l2.69-1.12l-2.53-1.19l-2.69 1.12z" fill="#f5e81a"/><path d="M278.94 617.7l2.69-1.12l-2.53-1.2l-2.69 1.12z" fill="#f5e81a"/><path d="M284.16 617.78l2.69-1.12l-2.53-1.2l-2.69 1.12z" fill="#f5e81a"/><path d="M182.26 618.16l2.69-1.16l-2.53-1.16l-2.69 1.16z" fill="#f5e81b"/><path d="M187.48 618.16l2.69-1.16l-2.53-1.16l-2.69 1.16z" fill="#f5e81a"/><path d="M192.7 618.16l2.69-1.16l-2.53-1.16l-2.69 1.16z" fill="#f5e81a"/><path d="M197.92 618.16l2.69-1.15l-2.53-1.16l-2.69 1.15z" fill="#f5e81a"/><path d="M203.15 618.17l2.69-1.15l-2.53-1.16l-2.69 1.15z" fill="#f5e81a"/><path d="M208.37 618.19l2.69-1.15l-2.53-1.16l-2.69 1.15z" fill="#f5e81a"/><path d="M213.59 618.21l2.69-1.14l-2.53-1.17l-2.69 1.14z" fill="#f5e81a"/><path d="M218.81 618.23l2.69-1.14l-2.53-1.17l-2.69 1.14z" fill="#f5e81a"/><path d="M224.03 618.26l2.69-1.14l-2.53-1.17l-2.69 1.14z" fill="#f5e81a"/><path d="M229.25 618.3l2.69-1.14l-2.53-1.17l-2.69 1.14z" fill="#f5e81a"/><path d="M234.47 618.34l2.69-1.13l-2.53-1.17l-2.69 1.13z" fill="#f5e81a"/><path d="M239.7 618.38l2.69-1.13l-2.53-1.18l-2.69 1.13z" fill="#f5e81a"/><path d="M244.92 618.43l2.69-1.13l-2.53-1.18l-2.69 1.13z" fill="#f5e81a"/><path d="M250.14 618.48l2.69-1.13l-2.53-1.18l-2.69 1.13z" fill="#f5e81a"/><path d="M255.36 618.54l2.69-1.13l-2.53-1.18l-2.69 1.12z" fill="#f5e81a"/><path d="M260.58 618.6l2.69-1.12l-2.53-1.19l-2.69 1.12z" fill="#f5e81a"/><path d="M265.8 618.67l2.69-1.12l-2.53-1.19l-2.69 1.12z" fill="#f5e81a"/><path d="M271.02 618.74l2.69-1.12l-2.53-1.19l-2.69 1.12z" fill="#f5e81a"/><path d="M276.25 618.82l2.69-1.12l-2.53-1.2l-2.69 1.12z" fill="#f5e81a"/><path d="M281.47 618.9l2.69-1.12l-2.53-1.2l-2.69 1.12z" fill="#f5e81a"/><path d="M286.69 618.98l2.69-1.12l-2.53-1.2l-2.69 1.12z" fill="#f5e81a"/><path d="M179.57 619.33l2.69-1.17l-2.53-1.16l-2.69 1.17z" fill="#f5e71b"/><path d="M184.79 619.32l2.69-1.16l-2.53-1.16l-2.69 1.16z" fill="#f5e71b"/><path d="M190.01 619.32l2.69-1.16l-2.53-1.16l-2.69 1.16z" fill="#f5e71b"/><path d="M195.23 619.32l2.69-1.16l-2.53-1.16l-2.69 1.16z" fill="#f5e81b"/><path d="M200.46 619.32l2.69-1.15l-2.53-1.16l-2.69 1.15z" fill="#f5e81a"/><path d="M205.68 619.34l2.69-1.15l-2.53-1.16l-2.69 1.15z" fill="#f5e81a"/><path d="M210.9 619.35l2.69-1.15l-2.53-1.17l-2.69 1.15z" fill="#f5e81a"/><path d="M216.12 619.38l2.69-1.14l-2.53-1.17l-2.69 1.14z" fill="#f5e81a"/><path d="M221.34 619.4l2.69-1.14l-2.53-1.17l-2.69 1.14z" fill="#f5e81a"/><path d="M226.56 619.44l2.69-1.14l-2.53-1.17l-2.69 1.14z" fill="#f5e81a"/><path d="M231.78 619.47l2.69-1.14l-2.53-1.17l-2.69 1.14z" fill="#f5e81a"/><path d="M237.01 619.51l2.69-1.13l-2.53-1.18l-2.69 1.13z" fill="#f5e81a"/><path d="M242.23 619.56l2.69-1.13l-2.53-1.18l-2.69 1.13z" fill="#f5e81a"/><path d="M247.45 619.61l2.69-1.13l-2.53-1.18l-2.69 1.13z" fill="#f5e81a"/><path d="M252.67 619.67l2.69-1.13l-2.53-1.18l-2.69 1.13z" fill="#f5e81a"/><path d="M257.89 619.73l2.69-1.13l-2.53-1.19l-2.69 1.13z" fill="#f5e81a"/><path d="M263.11 619.79l2.69-1.12l-2.53-1.19l-2.69 1.12z" fill="#f5e81a"/><path d="M268.34 619.86l2.69-1.12l-2.53-1.19l-2.69 1.12z" fill="#f5e81a"/><path d="M273.56 619.94l2.69-1.12l-2.53-1.2l-2.69 1.12z" fill="#f5e81a"/><path d="M278.78 620.02l2.69-1.12l-2.53-1.2l-2.69 1.12z" fill="#f5e81a"/><path d="M284 620.1l2.69-1.12l-2.53-1.2l-2.69 1.12z" fill="#f5e81b"/><path d="M289.22 620.19l2.69-1.12l-2.53-1.21l-2.69 1.12z" fill="#f5e71b"/><path d="M176.88 620.5l2.69-1.17l-2.53-1.16l-2.69 1.17z" fill="#f5e71b"/><path d="M182.1 620.49l2.69-1.17l-2.53-1.16l-2.69 1.17z" fill="#f5e71b"/><path d="M187.32 620.48l2.69-1.16l-2.53-1.16l-2.69 1.16z" fill="#f5e71b"/><path d="M192.54 620.48l2.69-1.16l-2.53-1.16l-2.69 1.16z" fill="#f5e71b"/><path d="M197.77 620.48l2.69-1.16l-2.53-1.16l-2.69 1.16z" fill="#f5e71b"/><path d="M202.99 620.49l2.69-1.15l-2.53-1.17l-2.69 1.15z" fill="#f5e71b"/><path d="M208.21 620.5l2.69-1.15l-2.53-1.17l-2.69 1.15z" fill="#f5e81b"/><path d="M213.43 620.52l2.69-1.15l-2.53-1.17l-2.69 1.15z" fill="#f5e81b"/><path d="M218.65 620.55l2.69-1.14l-2.53-1.17l-2.69 1.14z" fill="#f5e81a"/><path d="M223.87 620.58l2.69-1.14l-2.53-1.17l-2.69 1.14z" fill="#f5e81a"/><path d="M229.09 620.61l2.69-1.14l-2.53-1.17l-2.69 1.14z" fill="#f5e81a"/><path d="M234.32 620.65l2.69-1.14l-2.53-1.18l-2.69 1.14z" fill="#f5e81a"/><path d="M239.54 620.69l2.69-1.13l-2.53-1.18l-2.69 1.13z" fill="#f5e81a"/><path d="M244.76 620.74l2.69-1.13l-2.53-1.18l-2.69 1.13z" fill="#f5e81a"/><path d="M249.98 620.79l2.69-1.13l-2.53-1.18l-2.69 1.13z" fill="#f5e81a"/><path d="M255.2 620.85l2.69-1.13l-2.53-1.19l-2.69 1.13z" fill="#f5e81a"/><path d="M260.42 620.92l2.69-1.13l-2.53-1.19l-2.69 1.13z" fill="#f5e81a"/><path d="M265.65 620.98l2.69-1.12l-2.53-1.19l-2.69 1.12z" fill="#f5e81b"/><path d="M270.87 621.06l2.69-1.12l-2.53-1.2l-2.69 1.12z" fill="#f5e81b"/><path d="M276.09 621.14l2.69-1.12l-2.53-1.2l-2.69 1.12z" fill="#f5e71b"/><path d="M281.31 621.22l2.69-1.12l-2.53-1.2l-2.69 1.12z" fill="#f5e71b"/><path d="M286.53 621.31l2.69-1.12l-2.53-1.21l-2.69 1.12z" fill="#f5e71b"/><path d="M291.75 621.4l2.69-1.12l-2.53-1.21l-2.69 1.12z" fill="#f5e71b"/><path d="M174.19 621.68l2.69-1.18l-2.53-1.16l-2.69 1.18z" fill="#f5e61b"/><path d="M179.41 621.66l2.69-1.17l-2.53-1.16l-2.69 1.17z" fill="#f5e61b"/><path d="M184.63 621.65l2.69-1.17l-2.53-1.16l-2.69 1.17z" fill="#f5e71b"/><path d="M189.85 621.64l2.69-1.16l-2.53-1.16l-2.69 1.16z" fill="#f5e71b"/><path d="M195.08 621.64l2.69-1.16l-2.53-1.16l-2.69 1.16z" fill="#f5e71b"/><path d="M200.3 621.65l2.69-1.16l-2.53-1.17l-2.69 1.16z" fill="#f5e71b"/><path d="M205.52 621.66l2.69-1.15l-2.53-1.17l-2.69 1.15z" fill="#f5e71b"/><path d="M210.74 621.67l2.69-1.15l-2.53-1.17l-2.69 1.15z" fill="#f5e71b"/><path d="M215.96 621.69l2.69-1.15l-2.53-1.17l-2.69 1.15z" fill="#f5e71b"/><path d="M221.18 621.72l2.69-1.14l-2.53-1.17l-2.69 1.14z" fill="#f5e71b"/><path d="M226.4 621.75l2.69-1.14l-2.53-1.17l-2.69 1.14z" fill="#f5e71b"/><path d="M231.63 621.79l2.69-1.14l-2.53-1.18l-2.69 1.14z" fill="#f5e71b"/><path d="M236.85 621.83l2.69-1.14l-2.53-1.18l-2.69 1.14z" fill="#f5e81b"/><path d="M242.07 621.88l2.69-1.13l-2.53-1.18l-2.69 1.13z" fill="#f5e71b"/><path d="M247.29 621.93l2.69-1.13l-2.53-1.18l-2.69 1.13z" fill="#f5e71b"/><path d="M252.51 621.98l2.69-1.13l-2.53-1.19l-2.69 1.13z" fill="#f5e71b"/><path d="M257.73 622.04l2.69-1.13l-2.53-1.19l-2.69 1.13z" fill="#f5e71b"/><path d="M262.96 622.11l2.69-1.13l-2.53-1.19l-2.69 1.13z" fill="#f5e71b"/><path d="M268.18 622.18l2.69-1.12l-2.53-1.2l-2.69 1.12z" fill="#f5e71b"/><path d="M273.4 622.26l2.69-1.12l-2.53-1.2l-2.69 1.12z" fill="#f5e71b"/><path d="M278.62 622.34l2.69-1.12l-2.53-1.2l-2.69 1.12z" fill="#f5e71b"/><path d="M283.84 622.43l2.69-1.12l-2.53-1.21l-2.69 1.12z" fill="#f5e71b"/><path d="M289.06 622.52l2.69-1.12l-2.53-1.21l-2.69 1.12z" fill="#f5e71b"/><path d="M294.28 622.62l2.69-1.12l-2.53-1.22l-2.69 1.12z" fill="#f5e61b"/><path d="M171.5 622.86l2.69-1.18l-2.53-1.16l-2.69 1.18z" fill="#f5e61c"/><path d="M176.72 622.84l2.69-1.18l-2.53-1.16l-2.69 1.18z" fill="#f5e61c"/><path d="M181.94 622.82l2.69-1.17l-2.53-1.16l-2.69 1.17z" fill="#f5e61c"/><path d="M187.16 622.81l2.69-1.17l-2.53-1.16l-2.69 1.17z" fill="#f5e61b"/><path d="M192.39 622.81l2.69-1.16l-2.53-1.16l-2.69 1.16z" fill="#f5e71b"/><path d="M197.61 622.81l2.69-1.16l-2.53-1.17l-2.69 1.16z" fill="#f5e71b"/><path d="M202.83 622.81l2.69-1.16l-2.53-1.17l-2.69 1.16z" fill="#f5e71b"/><path d="M208.05 622.83l2.69-1.15l-2.53-1.17l-2.69 1.15z" fill="#f5e71b"/><path d="M213.27 622.84l2.69-1.15l-2.53-1.17l-2.69 1.15z" fill="#f5e71b"/><path d="M218.49 622.87l2.69-1.15l-2.53-1.17l-2.69 1.15z" fill="#f5e71b"/><path d="M223.71 622.9l2.69-1.14l-2.53-1.18l-2.69 1.14z" fill="#f5e71b"/><path d="M228.94 622.93l2.69-1.14l-2.53-1.18l-2.69 1.14z" fill="#f5e71b"/><path d="M234.16 622.97l2.69-1.14l-2.53-1.18l-2.69 1.14z" fill="#f5e71b"/><path d="M239.38 623.01l2.69-1.14l-2.53-1.18l-2.69 1.14z" fill="#f5e71b"/><path d="M244.6 623.06l2.69-1.13l-2.53-1.18l-2.69 1.13z" fill="#f5e71b"/><path d="M249.82 623.11l2.69-1.13l-2.53-1.19l-2.69 1.13z" fill="#f5e71b"/><path d="M255.04 623.17l2.69-1.13l-2.53-1.19l-2.69 1.13z" fill="#f5e71b"/><path d="M260.27 623.24l2.69-1.13l-2.53-1.19l-2.69 1.13z" fill="#f5e71b"/><path d="M265.49 623.31l2.69-1.13l-2.53-1.2l-2.69 1.13z" fill="#f5e71b"/><path d="M270.71 623.38l2.69-1.12l-2.53-1.2l-2.69 1.12z" fill="#f5e71b"/><path d="M275.93 623.46l2.69-1.12l-2.53-1.2l-2.69 1.12z" fill="#f5e71b"/><path d="M281.15 623.55l2.69-1.12l-2.53-1.21l-2.69 1.12z" fill="#f5e71b"/><path d="M286.37 623.64l2.69-1.12l-2.53-1.21l-2.69 1.12z" fill="#f5e61b"/><path d="M291.59 623.74l2.69-1.12l-2.53-1.22l-2.69 1.12z" fill="#f5e61b"/><path d="M296.82 623.85l2.69-1.12l-2.53-1.22l-2.69 1.12z" fill="#f5e61c"/><path d="M168.81 624.05l2.69-1.19l-2.53-1.16l-2.69 1.19z" fill="#f5e51c"/><path d="M174.03 624.02l2.69-1.18l-2.53-1.16l-2.69 1.18z" fill="#f5e51c"/><path d="M179.25 624l2.69-1.18l-2.53-1.16l-2.69 1.18z" fill="#f5e61c"/><path d="M184.47 623.98l2.69-1.17l-2.53-1.16l-2.69 1.17z" fill="#f5e61c"/><path d="M189.7 623.97l2.69-1.17l-2.53-1.16l-2.69 1.17z" fill="#f5e61c"/><path d="M194.92 623.97l2.69-1.16l-2.53-1.17l-2.69 1.16z" fill="#f5e61b"/><path d="M200.14 623.97l2.69-1.16l-2.53-1.17l-2.69 1.16z" fill="#f5e61b"/><path d="M205.36 623.98l2.69-1.16l-2.53-1.17l-2.69 1.16z" fill="#f5e71b"/><path d="M210.58 624l2.69-1.15l-2.53-1.17l-2.69 1.15z" fill="#f5e71b"/><path d="M215.8 624.02l2.69-1.15l-2.53-1.17l-2.69 1.15z" fill="#f5e71b"/><path d="M221.03 624.04l2.69-1.15l-2.53-1.18l-2.69 1.15z" fill="#f5e71b"/><path d="M226.25 624.07l2.69-1.14l-2.53-1.18l-2.69 1.14z" fill="#f5e71b"/><path d="M231.47 624.11l2.69-1.14l-2.53-1.18l-2.69 1.14z" fill="#f5e71b"/><path d="M236.69 624.15l2.69-1.14l-2.53-1.18l-2.69 1.14z" fill="#f5e71b"/><path d="M241.91 624.2l2.69-1.14l-2.53-1.18l-2.69 1.14z" fill="#f5e71b"/><path d="M247.13 624.25l2.69-1.13l-2.53-1.19l-2.69 1.13z" fill="#f5e71b"/><path d="M252.35 624.3l2.69-1.13l-2.53-1.19l-2.69 1.13z" fill="#f5e71b"/><path d="M257.58 624.37l2.69-1.13l-2.53-1.19l-2.69 1.13z" fill="#f5e71b"/><path d="M262.8 624.43l2.69-1.13l-2.53-1.2l-2.69 1.13z" fill="#f5e71b"/><path d="M268.02 624.51l2.69-1.13l-2.53-1.2l-2.69 1.13z" fill="#f5e71b"/><path d="M273.24 624.59l2.69-1.12l-2.53-1.2l-2.69 1.12z" fill="#f5e61b"/><path d="M278.46 624.67l2.69-1.12l-2.53-1.21l-2.69 1.12z" fill="#f5e61b"/><path d="M283.68 624.76l2.69-1.12l-2.53-1.21l-2.69 1.12z" fill="#f5e61c"/><path d="M288.9 624.86l2.69-1.12l-2.53-1.22l-2.69 1.12z" fill="#f5e61c"/><path d="M294.13 624.96l2.69-1.12l-2.53-1.22l-2.69 1.12z" fill="#f5e61c"/><path d="M299.35 625.07l2.69-1.12l-2.53-1.23l-2.69 1.12z" fill="#f5e61c"/><path d="M166.12 625.25l2.69-1.2l-2.53-1.16l-2.69 1.2z" fill="#f5e51d"/><path d="M171.34 625.21l2.69-1.19l-2.53-1.16l-2.69 1.19z" fill="#f5e51c"/><path d="M176.56 625.18l2.69-1.18l-2.53-1.16l-2.69 1.18z" fill="#f5e51c"/><path d="M181.78 625.16l2.69-1.18l-2.53-1.16l-2.69 1.18z" fill="#f5e51c"/><path d="M187.01 625.15l2.69-1.17l-2.53-1.16l-2.69 1.17z" fill="#f5e61c"/><path d="M192.23 625.14l2.69-1.17l-2.53-1.17l-2.69 1.17z" fill="#f5e61c"/><path d="M197.45 625.14l2.69-1.16l-2.53-1.17l-2.69 1.16z" fill="#f5e61c"/><path d="M202.67 625.14l2.69-1.16l-2.53-1.17l-2.69 1.16z" fill="#f5e61c"/><path d="M207.89 625.15l2.69-1.16l-2.53-1.17l-2.69 1.16z" fill="#f5e61b"/><path d="M213.11 625.17l2.69-1.15l-2.53-1.17l-2.69 1.15z" fill="#f5e61b"/><path d="M218.34 625.19l2.69-1.15l-2.53-1.18l-2.69 1.15z" fill="#f5e61b"/><path d="M223.56 625.22l2.69-1.15l-2.53-1.18l-2.69 1.15z" fill="#f5e61b"/><path d="M228.78 625.25l2.69-1.14l-2.53-1.18l-2.69 1.14z" fill="#f5e61b"/><path d="M234 625.29l2.69-1.14l-2.53-1.18l-2.69 1.14z" fill="#f5e61b"/><path d="M239.22 625.34l2.69-1.14l-2.53-1.19l-2.69 1.14z" fill="#f5e61b"/><path d="M244.44 625.38l2.69-1.14l-2.53-1.19l-2.69 1.14z" fill="#f5e61b"/><path d="M249.66 625.44l2.69-1.13l-2.53-1.19l-2.69 1.13z" fill="#f5e61b"/><path d="M254.89 625.5l2.69-1.13l-2.53-1.19l-2.69 1.13z" fill="#f5e61b"/><path d="M260.11 625.56l2.69-1.13l-2.53-1.2l-2.69 1.13z" fill="#f5e61b"/><path d="M265.33 625.64l2.69-1.13l-2.53-1.2l-2.69 1.13z" fill="#f5e61b"/><path d="M270.55 625.71l2.69-1.13l-2.53-1.2l-2.69 1.13z" fill="#f5e61c"/><path d="M275.77 625.8l2.69-1.12l-2.53-1.21l-2.69 1.12z" fill="#f5e61c"/><path d="M280.99 625.88l2.69-1.12l-2.53-1.21l-2.69 1.12z" fill="#f5e61c"/><path d="M286.21 625.98l2.69-1.12l-2.53-1.22l-2.69 1.12z" fill="#f5e61c"/><path d="M291.44 626.08l2.69-1.12l-2.53-1.22l-2.69 1.12z" fill="#f5e51c"/><path d="M296.66 626.19l2.69-1.12l-2.53-1.23l-2.69 1.12z" fill="#f5e51c"/><path d="M301.88 626.31l2.69-1.12l-2.53-1.23l-2.69 1.12z" fill="#f5e51c"/><path d="M163.43 626.45l2.69-1.2l-2.53-1.16l-2.69 1.2z" fill="#f5e41d"/><path d="M168.65 626.41l2.69-1.2l-2.53-1.16l-2.69 1.2z" fill="#f5e41d"/><path d="M173.87 626.37l2.69-1.19l-2.53-1.16l-2.69 1.19z" fill="#f5e51d"/><path d="M179.09 626.35l2.69-1.18l-2.53-1.16l-2.69 1.18z" fill="#f5e51c"/><path d="M184.32 626.33l2.69-1.18l-2.53-1.16l-2.69 1.18z" fill="#f5e51c"/><path d="M189.54 626.31l2.69-1.17l-2.53-1.17l-2.69 1.17z" fill="#f5e51c"/><path d="M194.76 626.31l2.69-1.17l-2.53-1.17l-2.69 1.17z" fill="#f5e61c"/><path d="M199.98 626.31l2.69-1.16l-2.53-1.17l-2.69 1.16z" fill="#f5e61c"/><path d="M205.2 626.32l2.69-1.16l-2.53-1.17l-2.69 1.16z" fill="#f5e61c"/><path d="M210.42 626.33l2.69-1.16l-2.53-1.17l-2.69 1.16z" fill="#f5e61c"/><path d="M215.65 626.35l2.69-1.15l-2.53-1.18l-2.69 1.15z" fill="#f5e61c"/><path d="M220.87 626.37l2.69-1.15l-2.53-1.18l-2.69 1.15z" fill="#f5e61c"/><path d="M226.09 626.4l2.69-1.15l-2.53-1.18l-2.69 1.15z" fill="#f5e61c"/><path d="M231.31 626.44l2.69-1.14l-2.53-1.18l-2.69 1.14z" fill="#f5e61c"/><path d="M236.53 626.48l2.69-1.14l-2.53-1.19l-2.69 1.14z" fill="#f5e61c"/><path d="M241.75 626.52l2.69-1.14l-2.53-1.19l-2.69 1.14z" fill="#f5e61c"/><path d="M246.97 626.58l2.69-1.14l-2.53-1.19l-2.69 1.14z" fill="#f5e61c"/><path d="M252.2 626.63l2.69-1.13l-2.53-1.19l-2.69 1.13z" fill="#f5e61c"/><path d="M257.42 626.7l2.69-1.13l-2.53-1.2l-2.69 1.13z" fill="#f5e61c"/><path d="M262.64 626.77l2.69-1.13l-2.53-1.2l-2.69 1.13z" fill="#f5e61c"/><path d="M267.86 626.84l2.69-1.13l-2.53-1.2l-2.69 1.13z" fill="#f5e61c"/><path d="M273.08 626.92l2.69-1.13l-2.53-1.21l-2.69 1.13z" fill="#f5e61c"/><path d="M278.3 627.01l2.69-1.12l-2.53-1.21l-2.69 1.12z" fill="#f5e61c"/><path d="M283.52 627.1l2.69-1.12l-2.53-1.22l-2.69 1.12z" fill="#f5e51c"/><path d="M288.75 627.2l2.69-1.12l-2.53-1.22l-2.69 1.12z" fill="#f5e51c"/><path d="M293.97 627.31l2.69-1.12l-2.53-1.23l-2.69 1.12z" fill="#f5e51c"/><path d="M299.19 627.43l2.69-1.12l-2.53-1.23l-2.69 1.12z" fill="#f5e51c"/><path d="M304.41 627.55l2.69-1.12l-2.53-1.24l-2.69 1.12z" fill="#f5e41d"/><path d="M160.74 627.66l2.69-1.21l-2.53-1.16l-2.69 1.21z" fill="#f5e41d"/><path d="M165.96 627.61l2.69-1.2l-2.53-1.16l-2.69 1.2z" fill="#f5e41d"/><path d="M171.18 627.57l2.69-1.2l-2.53-1.16l-2.69 1.2z" fill="#f5e41d"/><path d="M176.4 627.53l2.69-1.19l-2.53-1.16l-2.69 1.19z" fill="#f5e41d"/><path d="M181.63 627.51l2.69-1.18l-2.53-1.16l-2.69 1.18z" fill="#f5e51d"/><path d="M186.85 627.49l2.69-1.18l-2.53-1.17l-2.69 1.18z" fill="#f5e51c"/><path d="M192.07 627.48l2.69-1.17l-2.53-1.17l-2.69 1.17z" fill="#f5e51c"/><path d="M197.29 627.48l2.69-1.17l-2.53-1.17l-2.69 1.17z" fill="#f5e51c"/><path d="M202.51 627.48l2.69-1.16l-2.53-1.17l-2.69 1.16z" fill="#f5e51c"/><path d="M207.73 627.49l2.69-1.16l-2.53-1.17l-2.69 1.16z" fill="#f5e61c"/><path d="M212.96 627.5l2.69-1.16l-2.53-1.18l-2.69 1.16z" fill="#f5e61c"/><path d="M218.18 627.52l2.69-1.15l-2.53-1.18l-2.69 1.15z" fill="#f5e61c"/><path d="M223.4 627.55l2.69-1.15l-2.53-1.18l-2.69 1.15z" fill="#f5e61c"/><path d="M228.62 627.58l2.69-1.15l-2.53-1.18l-2.69 1.15z" fill="#f5e61c"/><path d="M233.84 627.62l2.69-1.14l-2.53-1.19l-2.69 1.14z" fill="#f5e61c"/><path d="M239.06 627.67l2.69-1.14l-2.53-1.19l-2.69 1.14z" fill="#f5e61c"/><path d="M244.28 627.71l2.69-1.14l-2.53-1.19l-2.69 1.14z" fill="#f5e61c"/><path d="M249.51 627.77l2.69-1.14l-2.53-1.19l-2.69 1.14z" fill="#f5e61c"/><path d="M254.73 627.83l2.69-1.13l-2.53-1.2l-2.69 1.13z" fill="#f5e61c"/><path d="M259.95 627.9l2.69-1.13l-2.53-1.2l-2.69 1.13z" fill="#f5e61c"/><path d="M265.17 627.97l2.69-1.13l-2.53-1.21l-2.69 1.13z" fill="#f5e61c"/><path d="M270.39 628.05l2.69-1.13l-2.53-1.21l-2.69 1.13z" fill="#f5e51c"/><path d="M275.61 628.14l2.69-1.13l-2.53-1.21l-2.69 1.13z" fill="#f5e51c"/><path d="M280.83 628.23l2.69-1.12l-2.53-1.22l-2.69 1.12z" fill="#f5e51c"/><path d="M286.06 628.33l2.69-1.12l-2.53-1.22l-2.69 1.12z" fill="#f5e51c"/><path d="M291.28 628.43l2.69-1.12l-2.53-1.23l-2.69 1.12z" fill="#f5e51d"/><path d="M296.5 628.55l2.69-1.12l-2.53-1.23l-2.69 1.12z" fill="#f5e41d"/><path d="M301.72 628.67l2.69-1.12l-2.53-1.24l-2.69 1.12z" fill="#f5e41d"/><path d="M306.94 628.8l2.69-1.12l-2.53-1.25l-2.69 1.12z" fill="#f5e41d"/><path d="M158.05 628.88l2.69-1.22l-2.53-1.16l-2.69 1.22z" fill="#f5e31e"/><path d="M163.27 628.82l2.69-1.21l-2.53-1.16l-2.69 1.21z" fill="#f5e31d"/><path d="M168.49 628.77l2.69-1.2l-2.53-1.16l-2.69 1.2z" fill="#f5e41d"/><path d="M173.71 628.73l2.69-1.2l-2.53-1.16l-2.69 1.2z" fill="#f5e41d"/><path d="M178.94 628.7l2.69-1.19l-2.53-1.16l-2.69 1.19z" fill="#f5e41d"/><path d="M184.16 628.68l2.69-1.18l-2.53-1.17l-2.69 1.18z" fill="#f5e41d"/><path d="M189.38 628.66l2.69-1.18l-2.53-1.17l-2.69 1.18z" fill="#f5e51d"/><path d="M194.6 628.65l2.69-1.17l-2.53-1.17l-2.69 1.17z" fill="#f5e51c"/><path d="M199.82 628.65l2.69-1.17l-2.53-1.17l-2.69 1.17z" fill="#f5e51c"/><path d="M205.04 628.65l2.69-1.17l-2.53-1.17l-2.69 1.16z" fill="#f5e51c"/><path d="M210.27 628.66l2.69-1.16l-2.53-1.18l-2.69 1.16z" fill="#f5e51c"/><path d="M215.49 628.68l2.69-1.16l-2.53-1.18l-2.69 1.16z" fill="#f5e51c"/><path d="M220.71 628.71l2.69-1.15l-2.53-1.18l-2.69 1.15z" fill="#f5e51c"/><path d="M225.93 628.73l2.69-1.15l-2.53-1.18l-2.69 1.15z" fill="#f5e51c"/><path d="M231.15 628.77l2.69-1.15l-2.53-1.19l-2.69 1.15z" fill="#f5e51c"/><path d="M236.37 628.81l2.69-1.14l-2.53-1.19l-2.69 1.14z" fill="#f5e51c"/><path d="M241.59 628.86l2.69-1.14l-2.53-1.19l-2.69 1.14z" fill="#f5e51c"/><path d="M246.82 628.91l2.69-1.14l-2.53-1.19l-2.69 1.14z" fill="#f5e51c"/><path d="M252.04 628.97l2.69-1.14l-2.53-1.2l-2.69 1.14z" fill="#f5e51c"/><path d="M257.26 629.03l2.69-1.13l-2.53-1.2l-2.69 1.13z" fill="#f5e51c"/><path d="M262.48 629.1l2.69-1.13l-2.53-1.21l-2.69 1.13z" fill="#f5e51c"/><path d="M267.7 629.18l2.69-1.13l-2.53-1.21l-2.69 1.13z" fill="#f5e51c"/><path d="M272.92 629.26l2.69-1.13l-2.53-1.21l-2.69 1.13z" fill="#f5e51c"/><path d="M278.14 629.35l2.69-1.13l-2.53-1.22l-2.69 1.13z" fill="#f5e51c"/><path d="M283.37 629.45l2.69-1.12l-2.53-1.22l-2.69 1.12z" fill="#f5e51d"/><path d="M288.59 629.56l2.69-1.12l-2.53-1.23l-2.69 1.12z" fill="#f5e41d"/><path d="M293.81 629.67l2.69-1.12l-2.53-1.24l-2.69 1.12z" fill="#f5e41d"/><path d="M299.03 629.79l2.69-1.12l-2.53-1.24l-2.69 1.12z" fill="#f5e41d"/><path d="M304.25 629.92l2.69-1.12l-2.53-1.25l-2.69 1.12z" fill="#f5e41d"/><path d="M309.47 630.06l2.69-1.12l-2.53-1.26l-2.69 1.12z" fill="#f5e31d"/><path d="M155.36 630.11l2.69-1.23l-2.53-1.16l-2.69 1.23z" fill="#f5e31e"/><path d="M160.58 630.04l2.69-1.22l-2.53-1.16l-2.69 1.22z" fill="#f5e31e"/><path d="M165.8 629.98l2.69-1.21l-2.53-1.16l-2.69 1.21z" fill="#f5e31e"/><path d="M171.03 629.93l2.69-1.2l-2.53-1.16l-2.69 1.2z" fill="#f5e31d"/><path d="M176.25 629.9l2.69-1.2l-2.53-1.16l-2.69 1.2z" fill="#f5e41d"/><path d="M181.47 629.87l2.69-1.19l-2.53-1.17l-2.69 1.19z" fill="#f5e41d"/><path d="M186.69 629.84l2.69-1.18l-2.53-1.17l-2.69 1.18z" fill="#f5e41d"/><path d="M191.91 629.83l2.69-1.18l-2.53-1.17l-2.69 1.18z" fill="#f5e41d"/><path d="M197.13 629.82l2.69-1.17l-2.53-1.17l-2.69 1.17z" fill="#f5e41d"/><path d="M202.35 629.82l2.69-1.17l-2.53-1.17l-2.69 1.17z" fill="#f5e51d"/><path d="M207.58 629.83l2.69-1.17l-2.53-1.18l-2.69 1.17z" fill="#f5e51c"/><path d="M212.8 629.84l2.69-1.16l-2.53-1.18l-2.69 1.16z" fill="#f5e51c"/><path d="M218.02 629.86l2.69-1.16l-2.53-1.18l-2.69 1.16z" fill="#f5e51c"/><path d="M223.24 629.89l2.69-1.15l-2.53-1.18l-2.69 1.15z" fill="#f5e51c"/><path d="M228.46 629.92l2.69-1.15l-2.53-1.19l-2.69 1.15z" fill="#f5e51c"/><path d="M233.68 629.96l2.69-1.15l-2.53-1.19l-2.69 1.15z" fill="#f5e51c"/><path d="M238.9 630l2.69-1.14l-2.53-1.19l-2.69 1.14z" fill="#f5e51c"/><path d="M244.13 630.05l2.69-1.14l-2.53-1.19l-2.69 1.14z" fill="#f5e51c"/><path d="M249.35 630.11l2.69-1.14l-2.53-1.2l-2.69 1.14z" fill="#f5e51c"/><path d="M254.57 630.17l2.69-1.14l-2.53-1.2l-2.69 1.14z" fill="#f5e51c"/><path d="M259.79 630.24l2.69-1.13l-2.53-1.21l-2.69 1.13z" fill="#f5e51c"/><path d="M265.01 630.31l2.69-1.13l-2.53-1.21l-2.69 1.13z" fill="#f5e51c"/><path d="M270.23 630.39l2.69-1.13l-2.53-1.21l-2.69 1.13z" fill="#f5e51d"/><path d="M275.45 630.48l2.69-1.13l-2.53-1.22l-2.69 1.13z" fill="#f5e51d"/><path d="M280.68 630.58l2.69-1.13l-2.53-1.22l-2.69 1.13z" fill="#f5e41d"/><path d="M285.9 630.68l2.69-1.12l-2.53-1.23l-2.69 1.12z" fill="#f5e41d"/><path d="M291.12 630.79l2.69-1.12l-2.53-1.24l-2.69 1.12z" fill="#f5e41d"/><path d="M296.34 630.91l2.69-1.12l-2.53-1.24l-2.69 1.12z" fill="#f5e41d"/><path d="M301.56 631.04l2.69-1.12l-2.53-1.25l-2.69 1.12z" fill="#f5e31d"/><path d="M306.78 631.17l2.69-1.12l-2.53-1.26l-2.69 1.12z" fill="#f5e31e"/><path d="M312.01 631.32l2.69-1.12l-2.53-1.27l-2.69 1.12z" fill="#f5e31e"/><path d="M152.67 631.34l2.69-1.24l-2.53-1.16l-2.69 1.24z" fill="#f5e21f"/><path d="M157.89 631.27l2.69-1.23l-2.53-1.16l-2.69 1.23z" fill="#f5e21e"/><path d="M163.11 631.2l2.69-1.22l-2.53-1.16l-2.69 1.22z" fill="#f5e31e"/><path d="M168.34 631.14l2.69-1.21l-2.53-1.16l-2.69 1.21z" fill="#f5e31e"/><path d="M173.56 631.1l2.69-1.2l-2.53-1.16l-2.69 1.2z" fill="#f5e31e"/><path d="M178.78 631.06l2.69-1.2l-2.53-1.17l-2.69 1.2z" fill="#f5e31d"/><path d="M184 631.03l2.69-1.19l-2.53-1.17l-2.69 1.19z" fill="#f5e41d"/><path d="M189.22 631.01l2.69-1.18l-2.53-1.17l-2.69 1.18z" fill="#f5e41d"/><path d="M194.44 631l2.69-1.18l-2.53-1.17l-2.69 1.18z" fill="#f5e41d"/><path d="M199.66 631l2.69-1.17l-2.53-1.17l-2.69 1.17z" fill="#f5e41d"/><path d="M204.89 631l2.69-1.17l-2.53-1.18l-2.69 1.17z" fill="#f5e41d"/><path d="M210.11 631.01l2.69-1.17l-2.53-1.18l-2.69 1.17z" fill="#f5e41d"/><path d="M215.33 631.02l2.69-1.16l-2.53-1.18l-2.69 1.16z" fill="#f5e51d"/><path d="M220.55 631.05l2.69-1.16l-2.53-1.18l-2.69 1.16z" fill="#f5e51d"/><path d="M225.77 631.07l2.69-1.15l-2.53-1.19l-2.69 1.15z" fill="#f5e51d"/><path d="M230.99 631.11l2.69-1.15l-2.53-1.19l-2.69 1.15z" fill="#f5e51d"/><path d="M236.21 631.15l2.69-1.15l-2.53-1.19l-2.69 1.15z" fill="#f5e51d"/><path d="M241.44 631.2l2.69-1.15l-2.53-1.19l-2.69 1.14z" fill="#f5e51d"/><path d="M246.66 631.25l2.69-1.14l-2.53-1.2l-2.69 1.14z" fill="#f5e51d"/><path d="M251.88 631.31l2.69-1.14l-2.53-1.2l-2.69 1.14z" fill="#f5e51d"/><path d="M257.1 631.38l2.69-1.14l-2.53-1.21l-2.69 1.14z" fill="#f5e51d"/><path d="M262.32 631.45l2.69-1.14l-2.53-1.21l-2.69 1.13z" fill="#f5e41d"/><path d="M267.54 631.53l2.69-1.13l-2.53-1.21l-2.69 1.13z" fill="#f5e41d"/><path d="M272.76 631.61l2.69-1.13l-2.53-1.22l-2.69 1.13z" fill="#f5e41d"/><path d="M277.99 631.71l2.69-1.13l-2.53-1.22l-2.69 1.13z" fill="#f5e41d"/><path d="M283.21 631.81l2.69-1.13l-2.53-1.23l-2.69 1.13z" fill="#f5e41d"/><path d="M288.43 631.92l2.69-1.13l-2.53-1.24l-2.69 1.12z" fill="#f5e41d"/><path d="M293.65 632.03l2.69-1.12l-2.53-1.24l-2.69 1.12z" fill="#f5e31d"/><path d="M298.87 632.16l2.69-1.12l-2.53-1.25l-2.69 1.12z" fill="#f5e31e"/><path d="M304.09 632.3l2.69-1.12l-2.53-1.26l-2.69 1.12z" fill="#f5e31e"/><path d="M309.32 632.44l2.69-1.12l-2.53-1.27l-2.69 1.12z" fill="#f5e31e"/><path d="M314.54 632.6l2.69-1.12l-2.53-1.28l-2.69 1.12z" fill="#f5e21e"/><path d="M149.98 632.59l2.69-1.25l-2.53-1.16l-2.69 1.25z" fill="#f5e11f"/><path d="M155.2 632.5l2.69-1.24l-2.53-1.16l-2.69 1.24z" fill="#f5e21f"/><path d="M160.42 632.43l2.69-1.23l-2.53-1.16l-2.69 1.23z" fill="#f5e21e"/><path d="M165.65 632.36l2.69-1.22l-2.53-1.16l-2.69 1.22z" fill="#f5e21e"/><path d="M170.87 632.31l2.69-1.21l-2.53-1.17l-2.69 1.21z" fill="#f5e31e"/><path d="M176.09 632.27l2.69-1.2l-2.53-1.17l-2.69 1.2z" fill="#f5e31e"/><path d="M181.31 632.23l2.69-1.2l-2.53-1.17l-2.69 1.2z" fill="#f5e31e"/><path d="M186.53 632.21l2.69-1.19l-2.53-1.17l-2.69 1.19z" fill="#f5e31d"/><path d="M191.75 632.19l2.69-1.18l-2.53-1.17l-2.69 1.18z" fill="#f5e41d"/><path d="M196.97 632.18l2.69-1.18l-2.53-1.17l-2.69 1.18z" fill="#f5e41d"/><path d="M202.2 632.17l2.69-1.17l-2.53-1.18l-2.69 1.17z" fill="#f5e41d"/><path d="M207.42 632.18l2.69-1.17l-2.53-1.18l-2.69 1.17z" fill="#f5e41d"/><path d="M212.64 632.19l2.69-1.17l-2.53-1.18l-2.69 1.17z" fill="#f5e41d"/><path d="M217.86 632.21l2.69-1.16l-2.53-1.18l-2.69 1.16z" fill="#f5e41d"/><path d="M223.08 632.23l2.69-1.16l-2.53-1.19l-2.69 1.16z" fill="#f5e41d"/><path d="M228.3 632.26l2.69-1.15l-2.53-1.19l-2.69 1.15z" fill="#f5e41d"/><path d="M233.52 632.3l2.69-1.15l-2.53-1.19l-2.69 1.15z" fill="#f5e41d"/><path d="M238.75 632.34l2.69-1.15l-2.53-1.19l-2.69 1.15z" fill="#f5e41d"/><path d="M243.97 632.4l2.69-1.15l-2.53-1.2l-2.69 1.15z" fill="#f5e41d"/><path d="M249.19 632.45l2.69-1.14l-2.53-1.2l-2.69 1.14z" fill="#f5e41d"/><path d="M254.41 632.52l2.69-1.14l-2.53-1.21l-2.69 1.14z" fill="#f5e41d"/><path d="M259.63 632.59l2.69-1.14l-2.53-1.21l-2.69 1.14z" fill="#f5e41d"/><path d="M264.85 632.66l2.69-1.14l-2.53-1.21l-2.69 1.14z" fill="#f5e41d"/><path d="M270.08 632.75l2.69-1.13l-2.53-1.22l-2.69 1.13z" fill="#f5e41d"/><path d="M275.3 632.84l2.69-1.13l-2.53-1.22l-2.69 1.13z" fill="#f5e41d"/><path d="M280.52 632.94l2.69-1.13l-2.53-1.23l-2.69 1.13z" fill="#f5e41d"/><path d="M285.74 633.04l2.69-1.13l-2.53-1.24l-2.69 1.13z" fill="#f5e31d"/><path d="M290.96 633.16l2.69-1.13l-2.53-1.24l-2.69 1.13z" fill="#f5e31e"/><path d="M296.18 633.28l2.69-1.12l-2.53-1.25l-2.69 1.12z" fill="#f5e31e"/><path d="M301.4 633.42l2.69-1.12l-2.53-1.26l-2.69 1.12z" fill="#f5e31e"/><path d="M306.63 633.56l2.69-1.12l-2.53-1.27l-2.69 1.12z" fill="#f5e21e"/><path d="M311.85 633.72l2.69-1.12l-2.53-1.28l-2.69 1.12z" fill="#f5e21e"/><path d="M317.07 633.88l2.69-1.12l-2.53-1.29l-2.69 1.12z" fill="#f5e21f"/><path d="M147.29 633.85l2.69-1.26l-2.53-1.16l-2.69 1.26z" fill="#f5e11f"/><path d="M152.51 633.75l2.69-1.25l-2.53-1.16l-2.69 1.25z" fill="#f5e11f"/><path d="M157.73 633.67l2.69-1.24l-2.53-1.16l-2.69 1.24z" fill="#f5e11f"/><path d="M162.96 633.59l2.69-1.23l-2.53-1.16l-2.69 1.23z" fill="#f5e21f"/><path d="M168.18 633.53l2.69-1.22l-2.53-1.17l-2.69 1.22z" fill="#f5e21e"/><path d="M173.4 633.48l2.69-1.21l-2.53-1.17l-2.69 1.21z" fill="#f5e21e"/><path d="M178.62 633.44l2.69-1.2l-2.53-1.17l-2.69 1.2z" fill="#f5e31e"/><path d="M183.84 633.4l2.69-1.2l-2.53-1.17l-2.69 1.2z" fill="#f5e31e"/><path d="M189.06 633.38l2.69-1.19l-2.53-1.17l-2.69 1.19z" fill="#f5e31e"/><path d="M194.28 633.36l2.69-1.18l-2.53-1.17l-2.69 1.18z" fill="#f5e31e"/><path d="M199.51 633.35l2.69-1.18l-2.53-1.18l-2.69 1.18z" fill="#f5e31d"/><path d="M204.73 633.35l2.69-1.17l-2.53-1.18l-2.69 1.17z" fill="#f5e41d"/><path d="M209.95 633.36l2.69-1.17l-2.53-1.18l-2.69 1.17z" fill="#f5e41d"/><path d="M215.17 633.37l2.69-1.17l-2.53-1.18l-2.69 1.17z" fill="#f5e41d"/><path d="M220.39 633.39l2.69-1.16l-2.53-1.19l-2.69 1.16z" fill="#f5e41d"/><path d="M225.61 633.42l2.69-1.16l-2.53-1.19l-2.69 1.16z" fill="#f5e41d"/><path d="M230.83 633.46l2.69-1.15l-2.53-1.19l-2.69 1.15z" fill="#f5e41d"/><path d="M236.06 633.5l2.69-1.15l-2.53-1.2l-2.69 1.15z" fill="#f5e41d"/><path d="M241.28 633.54l2.69-1.15l-2.53-1.2l-2.69 1.15z" fill="#f5e41d"/><path d="M246.5 633.6l2.69-1.15l-2.53-1.2l-2.69 1.15z" fill="#f5e41d"/><path d="M251.72 633.66l2.69-1.14l-2.53-1.21l-2.69 1.14z" fill="#f5e41d"/><path d="M256.94 633.73l2.69-1.14l-2.53-1.21l-2.69 1.14z" fill="#f5e41d"/><path d="M262.16 633.8l2.69-1.14l-2.53-1.21l-2.69 1.14z" fill="#f5e41d"/><path d="M267.39 633.88l2.69-1.14l-2.53-1.22l-2.69 1.14z" fill="#f5e41d"/><path d="M272.61 633.97l2.69-1.13l-2.53-1.22l-2.69 1.13z" fill="#f5e31d"/><path d="M277.83 634.07l2.69-1.13l-2.53-1.23l-2.69 1.13z" fill="#f5e31d"/><path d="M283.05 634.17l2.69-1.13l-2.53-1.24l-2.69 1.13z" fill="#f5e31e"/><path d="M288.27 634.29l2.69-1.13l-2.53-1.24l-2.69 1.13z" fill="#f5e31e"/><path d="M293.49 634.41l2.69-1.13l-2.53-1.25l-2.69 1.13z" fill="#f5e31e"/><path d="M298.71 634.54l2.69-1.12l-2.53-1.26l-2.69 1.12z" fill="#f5e21e"/><path d="M303.94 634.68l2.69-1.12l-2.53-1.27l-2.69 1.12z" fill="#f5e21e"/><path d="M309.16 634.84l2.69-1.12l-2.53-1.28l-2.69 1.12z" fill="#f5e21f"/><path d="M314.38 635l2.69-1.12l-2.53-1.29l-2.69 1.12z" fill="#f5e11f"/><path d="M319.6 635.18l2.69-1.12l-2.53-1.3l-2.69 1.12z" fill="#f5e11f"/><path d="M144.6 635.13l2.69-1.28l-2.53-1.16l-2.69 1.28z" fill="#f5e020"/><path d="M149.82 635.02l2.69-1.26l-2.53-1.16l-2.69 1.26z" fill="#f5e020"/><path d="M155.04 634.92l2.69-1.25l-2.53-1.16l-2.69 1.25z" fill="#f5e11f"/><path d="M160.27 634.83l2.69-1.24l-2.53-1.16l-2.69 1.24z" fill="#f5e11f"/><path d="M165.49 634.76l2.69-1.23l-2.53-1.17l-2.69 1.23z" fill="#f5e21f"/><path d="M170.71 634.7l2.69-1.22l-2.53-1.17l-2.69 1.22z" fill="#f5e21f"/><path d="M175.93 634.65l2.69-1.21l-2.53-1.17l-2.69 1.21z" fill="#f5e21e"/><path d="M181.15 634.61l2.69-1.2l-2.53-1.17l-2.69 1.2z" fill="#f5e21e"/><path d="M186.37 634.58l2.69-1.2l-2.53-1.17l-2.69 1.2z" fill="#f5e31e"/><path d="M191.59 634.55l2.69-1.19l-2.53-1.17l-2.69 1.19z" fill="#f5e31e"/><path d="M196.82 634.54l2.69-1.19l-2.53-1.18l-2.69 1.18z" fill="#f5e31e"/><path d="M202.04 634.53l2.69-1.18l-2.53-1.18l-2.69 1.18z" fill="#f5e31e"/><path d="M207.26 634.53l2.69-1.17l-2.53-1.18l-2.69 1.17z" fill="#f5e31e"/><path d="M212.48 634.54l2.69-1.17l-2.53-1.18l-2.69 1.17z" fill="#f5e31d"/><path d="M217.7 634.56l2.69-1.17l-2.53-1.19l-2.69 1.17z" fill="#f5e41d"/><path d="M222.92 634.58l2.69-1.16l-2.53-1.19l-2.69 1.16z" fill="#f5e41d"/><path d="M228.14 634.61l2.69-1.16l-2.53-1.19l-2.69 1.16z" fill="#f5e41d"/><path d="M233.37 634.65l2.69-1.15l-2.53-1.2l-2.69 1.15z" fill="#f5e41d"/><path d="M238.59 634.7l2.69-1.15l-2.53-1.2l-2.69 1.15z" fill="#f5e41d"/><path d="M243.81 634.75l2.69-1.15l-2.53-1.2l-2.69 1.15z" fill="#f5e41d"/><path d="M249.03 634.8l2.69-1.15l-2.53-1.21l-2.69 1.15z" fill="#f5e41d"/><path d="M254.25 634.87l2.69-1.14l-2.53-1.21l-2.69 1.14z" fill="#f5e41d"/><path d="M259.47 634.94l2.69-1.14l-2.53-1.21l-2.69 1.14z" fill="#f5e31d"/><path d="M264.7 635.02l2.69-1.14l-2.53-1.22l-2.69 1.14z" fill="#f5e31d"/><path d="M269.92 635.11l2.69-1.14l-2.53-1.22l-2.69 1.14z" fill="#f5e31e"/><path d="M275.14 635.2l2.69-1.13l-2.53-1.23l-2.69 1.13z" fill="#f5e31e"/><path d="M280.36 635.3l2.69-1.13l-2.53-1.24l-2.69 1.13z" fill="#f5e31e"/><path d="M285.58 635.42l2.69-1.13l-2.53-1.24l-2.69 1.13z" fill="#f5e31e"/><path d="M290.8 635.54l2.69-1.13l-2.53-1.25l-2.69 1.13z" fill="#f5e21e"/><path d="M296.02 635.67l2.69-1.13l-2.53-1.26l-2.69 1.13z" fill="#f5e21e"/><path d="M301.25 635.81l2.69-1.12l-2.53-1.27l-2.69 1.12z" fill="#f5e21f"/><path d="M306.47 635.96l2.69-1.12l-2.53-1.28l-2.69 1.12z" fill="#f5e21f"/><path d="M311.69 636.12l2.69-1.12l-2.53-1.29l-2.69 1.12z" fill="#f5e11f"/><path d="M316.91 636.3l2.69-1.12l-2.53-1.3l-2.69 1.12z" fill="#f5e11f"/><path d="M322.13 636.5l2.69-1.12l-2.53-1.31l-2.69 1.12z" fill="#f5e020"/><path d="M141.91 636.42l2.69-1.29l-2.53-1.16l-2.69 1.29z" fill="#f5df21"/><path d="M147.13 636.29l2.69-1.28l-2.53-1.16l-2.69 1.28z" fill="#f5e020"/><path d="M152.35 636.18l2.69-1.26l-2.53-1.16l-2.69 1.26z" fill="#f5e020"/><path d="M157.58 636.08l2.69-1.25l-2.53-1.16l-2.69 1.25z" fill="#f5e11f"/><path d="M162.8 636l2.69-1.24l-2.53-1.17l-2.69 1.24z" fill="#f5e11f"/><path d="M168.02 635.93l2.69-1.23l-2.53-1.17l-2.69 1.23z" fill="#f5e11f"/><path d="M173.24 635.87l2.69-1.22l-2.53-1.17l-2.69 1.22z" fill="#f5e21f"/><path d="M178.46 635.82l2.69-1.21l-2.53-1.17l-2.69 1.21z" fill="#f5e21f"/><path d="M183.68 635.78l2.69-1.2l-2.53-1.17l-2.69 1.2z" fill="#f5e21e"/><path d="M188.9 635.75l2.69-1.2l-2.53-1.17l-2.69 1.2z" fill="#f5e21e"/><path d="M194.13 635.73l2.69-1.19l-2.53-1.18l-2.69 1.19z" fill="#f5e31e"/><path d="M199.35 635.72l2.69-1.19l-2.53-1.18l-2.69 1.19z" fill="#f5e31e"/><path d="M204.57 635.71l2.69-1.18l-2.53-1.18l-2.69 1.18z" fill="#f5e31e"/><path d="M209.79 635.72l2.69-1.18l-2.53-1.18l-2.69 1.17z" fill="#f5e31e"/><path d="M215.01 635.73l2.69-1.17l-2.53-1.19l-2.69 1.17z" fill="#f5e31e"/><path d="M220.23 635.75l2.69-1.17l-2.53-1.19l-2.69 1.17z" fill="#f5e31e"/><path d="M225.45 635.78l2.69-1.16l-2.53-1.19l-2.69 1.16z" fill="#f5e31e"/><path d="M230.68 635.81l2.69-1.16l-2.53-1.2l-2.69 1.16z" fill="#f5e31e"/><path d="M235.9 635.85l2.69-1.16l-2.53-1.2l-2.69 1.15z" fill="#f5e31e"/><path d="M241.12 635.9l2.69-1.15l-2.53-1.2l-2.69 1.15z" fill="#f5e31e"/><path d="M246.34 635.95l2.69-1.15l-2.53-1.21l-2.69 1.15z" fill="#f5e31e"/><path d="M251.56 636.01l2.69-1.15l-2.53-1.21l-2.69 1.15z" fill="#f5e31e"/><path d="M256.78 636.08l2.69-1.14l-2.53-1.21l-2.69 1.14z" fill="#f5e31e"/><path d="M262.01 636.16l2.69-1.14l-2.53-1.22l-2.69 1.14z" fill="#f5e31e"/><path d="M267.23 636.24l2.69-1.14l-2.53-1.22l-2.69 1.14z" fill="#f5e31e"/><path d="M272.45 636.34l2.69-1.14l-2.53-1.23l-2.69 1.14z" fill="#f5e31e"/><path d="M277.67 636.44l2.69-1.13l-2.53-1.24l-2.69 1.13z" fill="#f5e31e"/><path d="M282.89 636.55l2.69-1.13l-2.53-1.24l-2.69 1.13z" fill="#f5e21e"/><path d="M288.11 636.67l2.69-1.13l-2.53-1.25l-2.69 1.13z" fill="#f5e21e"/><path d="M293.33 636.79l2.69-1.13l-2.53-1.26l-2.69 1.13z" fill="#f5e21f"/><path d="M298.56 636.93l2.69-1.13l-2.53-1.27l-2.69 1.13z" fill="#f5e21f"/><path d="M303.78 637.08l2.69-1.12l-2.53-1.28l-2.69 1.12z" fill="#f5e11f"/><path d="M309 637.25l2.69-1.12l-2.53-1.29l-2.69 1.12z" fill="#f5e11f"/><path d="M314.22 637.42l2.69-1.12l-2.53-1.3l-2.69 1.12z" fill="#f5e120"/><path d="M319.44 637.62l2.69-1.12l-2.53-1.31l-2.69 1.12z" fill="#f5e020"/><path d="M324.66 637.83l2.69-1.12l-2.53-1.33l-2.69 1.12z" fill="#f5e020"/><path d="M139.22 637.74l2.69-1.31l-2.53-1.16l-2.69 1.31z" fill="#f5de21"/><path d="M144.44 637.59l2.69-1.29l-2.53-1.16l-2.69 1.29z" fill="#f5df21"/><path d="M149.66 637.46l2.69-1.28l-2.53-1.16l-2.69 1.28z" fill="#f5df20"/><path d="M154.89 637.34l2.69-1.26l-2.53-1.16l-2.69 1.26z" fill="#f5e020"/><path d="M160.11 637.25l2.69-1.25l-2.53-1.17l-2.69 1.25z" fill="#f5e020"/><path d="M165.33 637.16l2.69-1.24l-2.53-1.17l-2.69 1.24z" fill="#f5e11f"/><path d="M170.55 637.1l2.69-1.23l-2.53-1.17l-2.69 1.23z" fill="#f5e11f"/><path d="M175.77 637.04l2.69-1.22l-2.53-1.17l-2.69 1.22z" fill="#f5e11f"/><path d="M180.99 636.99l2.69-1.21l-2.53-1.17l-2.69 1.21z" fill="#f5e21f"/><path d="M186.21 636.95l2.69-1.2l-2.53-1.18l-2.69 1.2z" fill="#f5e21f"/><path d="M191.44 636.93l2.69-1.2l-2.53-1.18l-2.69 1.2z" fill="#f5e21e"/><path d="M196.66 636.91l2.69-1.19l-2.53-1.18l-2.69 1.19z" fill="#f5e21e"/><path d="M201.88 636.9l2.69-1.19l-2.53-1.18l-2.69 1.19z" fill="#f5e21e"/><path d="M207.1 636.9l2.69-1.18l-2.53-1.18l-2.69 1.18z" fill="#f5e31e"/><path d="M212.32 636.91l2.69-1.18l-2.53-1.19l-2.69 1.18z" fill="#f5e31e"/><path d="M217.54 636.92l2.69-1.17l-2.53-1.19l-2.69 1.17z" fill="#f5e31e"/><path d="M222.77 636.94l2.69-1.17l-2.53-1.19l-2.69 1.17z" fill="#f5e31e"/><path d="M227.99 636.97l2.69-1.16l-2.53-1.2l-2.69 1.16z" fill="#f5e31e"/><path d="M233.21 637.01l2.69-1.16l-2.53-1.2l-2.69 1.16z" fill="#f5e31e"/><path d="M238.43 637.05l2.69-1.16l-2.53-1.2l-2.69 1.16z" fill="#f5e31e"/><path d="M243.65 637.1l2.69-1.15l-2.53-1.21l-2.69 1.15z" fill="#f5e31e"/><path d="M248.87 637.16l2.69-1.15l-2.53-1.21l-2.69 1.15z" fill="#f5e31e"/><path d="M254.09 637.23l2.69-1.15l-2.53-1.22l-2.69 1.15z" fill="#f5e31e"/><path d="M259.32 637.3l2.69-1.14l-2.53-1.22l-2.69 1.14z" fill="#f5e31e"/><path d="M264.54 637.39l2.69-1.14l-2.53-1.22l-2.69 1.14z" fill="#f5e31e"/><path d="M269.76 637.48l2.69-1.14l-2.53-1.23l-2.69 1.14z" fill="#f5e21e"/><path d="M274.98 637.57l2.69-1.14l-2.53-1.24l-2.69 1.14z" fill="#f5e21e"/><path d="M280.2 637.68l2.69-1.13l-2.53-1.24l-2.69 1.13z" fill="#f5e21e"/><path d="M285.42 637.8l2.69-1.13l-2.53-1.25l-2.69 1.13z" fill="#f5e21f"/><path d="M290.64 637.92l2.69-1.13l-2.53-1.26l-2.69 1.13z" fill="#f5e21f"/><path d="M295.87 638.06l2.69-1.13l-2.53-1.27l-2.69 1.13z" fill="#f5e11f"/><path d="M301.09 638.21l2.69-1.13l-2.53-1.28l-2.69 1.13z" fill="#f5e11f"/><path d="M306.31 638.37l2.69-1.12l-2.53-1.29l-2.69 1.12z" fill="#f5e11f"/><path d="M311.53 638.55l2.69-1.12l-2.53-1.3l-2.69 1.12z" fill="#f5e020"/><path d="M316.75 638.74l2.69-1.12l-2.53-1.31l-2.69 1.12z" fill="#f5e020"/><path d="M321.97 638.95l2.69-1.12l-2.53-1.33l-2.69 1.12z" fill="#f5df20"/><path d="M327.19 639.17l2.69-1.12l-2.53-1.35l-2.69 1.12z" fill="#f5df21"/><path d="M136.53 639.07l2.69-1.33l-2.53-1.16l-2.69 1.33z" fill="#f6dd22"/><path d="M141.75 638.9l2.69-1.31l-2.53-1.16l-2.69 1.31z" fill="#f5de21"/><path d="M146.97 638.75l2.69-1.29l-2.53-1.16l-2.69 1.29z" fill="#f5df21"/><path d="M152.2 638.62l2.69-1.28l-2.53-1.16l-2.69 1.28z" fill="#f5df21"/><path d="M157.42 638.51l2.69-1.26l-2.53-1.17l-2.69 1.26z" fill="#f5e020"/><path d="M162.64 638.42l2.69-1.25l-2.53-1.17l-2.69 1.25z" fill="#f5e020"/><path d="M167.86 638.33l2.69-1.24l-2.53-1.17l-2.69 1.24z" fill="#f5e020"/><path d="M173.08 638.27l2.69-1.23l-2.53-1.17l-2.69 1.23z" fill="#f5e11f"/><path d="M178.3 638.21l2.69-1.22l-2.53-1.17l-2.69 1.22z" fill="#f5e11f"/><path d="M183.52 638.17l2.69-1.21l-2.53-1.18l-2.69 1.21z" fill="#f5e11f"/><path d="M188.75 638.13l2.69-1.2l-2.53-1.18l-2.69 1.2z" fill="#f5e21f"/><path d="M193.97 638.11l2.69-1.2l-2.53-1.18l-2.69 1.2z" fill="#f5e21f"/><path d="M199.19 638.09l2.69-1.19l-2.53-1.18l-2.69 1.19z" fill="#f5e21e"/><path d="M204.41 638.09l2.69-1.19l-2.53-1.18l-2.69 1.19z" fill="#f5e21e"/><path d="M209.63 638.09l2.69-1.18l-2.53-1.19l-2.69 1.18z" fill="#f5e21e"/><path d="M214.85 638.1l2.69-1.18l-2.53-1.19l-2.69 1.18z" fill="#f5e21e"/><path d="M220.08 638.11l2.69-1.17l-2.53-1.19l-2.69 1.17z" fill="#f5e21e"/><path d="M225.3 638.14l2.69-1.17l-2.53-1.2l-2.69 1.17z" fill="#f5e31e"/><path d="M230.52 638.17l2.69-1.16l-2.53-1.2l-2.69 1.16z" fill="#f5e31e"/><path d="M235.74 638.21l2.69-1.16l-2.53-1.2l-2.69 1.16z" fill="#f5e31e"/><path d="M240.96 638.26l2.69-1.16l-2.53-1.21l-2.69 1.16z" fill="#f5e31e"/><path d="M246.18 638.32l2.69-1.15l-2.53-1.21l-2.69 1.15z" fill="#f5e31e"/><path d="M251.4 638.38l2.69-1.15l-2.53-1.22l-2.69 1.15z" fill="#f5e21e"/><path d="M256.63 638.45l2.69-1.15l-2.53-1.22l-2.69 1.15z" fill="#f5e21e"/><path d="M261.85 638.53l2.69-1.14l-2.53-1.23l-2.69 1.14z" fill="#f5e21e"/><path d="M267.07 638.62l2.69-1.14l-2.53-1.23l-2.69 1.14z" fill="#f5e21e"/><path d="M272.29 638.71l2.69-1.14l-2.53-1.24l-2.69 1.14z" fill="#f5e21e"/><path d="M277.51 638.82l2.69-1.14l-2.53-1.24l-2.69 1.14z" fill="#f5e21f"/><path d="M282.73 638.93l2.69-1.13l-2.53-1.25l-2.69 1.13z" fill="#f5e21f"/><path d="M287.95 639.06l2.69-1.13l-2.53-1.26l-2.69 1.13z" fill="#f5e11f"/><path d="M293.18 639.19l2.69-1.13l-2.53-1.27l-2.69 1.13z" fill="#f5e11f"/><path d="M298.4 639.34l2.69-1.13l-2.53-1.28l-2.69 1.13z" fill="#f5e11f"/><path d="M303.62 639.5l2.69-1.13l-2.53-1.29l-2.69 1.13z" fill="#f5e020"/><path d="M308.84 639.67l2.69-1.12l-2.53-1.3l-2.69 1.12z" fill="#f5e020"/><path d="M314.06 639.86l2.69-1.12l-2.53-1.31l-2.69 1.12z" fill="#f5e020"/><path d="M319.28 640.07l2.69-1.12l-2.53-1.33l-2.69 1.12z" fill="#f5df21"/><path d="M324.5 640.29l2.69-1.12l-2.53-1.35l-2.69 1.12z" fill="#f5df21"/><path d="M329.73 640.54l2.69-1.12l-2.53-1.37l-2.69 1.12z" fill="#f5de21"/><path d="M133.84 640.43l2.69-1.36l-2.53-1.16l-2.69 1.36z" fill="#f6dd22"/><path d="M139.06 640.23l2.69-1.33l-2.53-1.16l-2.69 1.33z" fill="#f6dd22"/><path d="M144.28 640.06l2.69-1.31l-2.53-1.16l-2.69 1.31z" fill="#f6de21"/><path d="M149.51 639.91l2.69-1.29l-2.53-1.17l-2.69 1.29z" fill="#f5de21"/><path d="M154.73 639.79l2.69-1.28l-2.53-1.17l-2.69 1.28z" fill="#f5df21"/><path d="M159.95 639.68l2.69-1.26l-2.53-1.17l-2.69 1.26z" fill="#f5df20"/><path d="M165.17 639.59l2.69-1.25l-2.53-1.17l-2.69 1.25z" fill="#f5e020"/><path d="M170.39 639.51l2.69-1.24l-2.53-1.17l-2.69 1.24z" fill="#f5e020"/><path d="M175.61 639.44l2.69-1.23l-2.53-1.17l-2.69 1.23z" fill="#f5e120"/><path d="M180.83 639.39l2.69-1.22l-2.53-1.18l-2.69 1.22z" fill="#f5e11f"/><path d="M186.06 639.34l2.69-1.21l-2.53-1.18l-2.69 1.21z" fill="#f5e11f"/><path d="M191.28 639.31l2.69-1.2l-2.53-1.18l-2.69 1.2z" fill="#f5e11f"/><path d="M196.5 639.29l2.69-1.2l-2.53-1.18l-2.69 1.2z" fill="#f5e21f"/><path d="M201.72 639.28l2.69-1.19l-2.53-1.18l-2.69 1.19z" fill="#f5e21f"/><path d="M206.94 639.27l2.69-1.19l-2.53-1.19l-2.69 1.19z" fill="#f5e21f"/><path d="M212.16 639.28l2.69-1.18l-2.53-1.19l-2.69 1.18z" fill="#f5e21e"/><path d="M217.39 639.29l2.69-1.18l-2.53-1.19l-2.69 1.18z" fill="#f5e21e"/><path d="M222.61 639.31l2.69-1.17l-2.53-1.2l-2.69 1.17z" fill="#f5e21e"/><path d="M227.83 639.34l2.69-1.17l-2.53-1.2l-2.69 1.17z" fill="#f5e21e"/><path d="M233.05 639.38l2.69-1.16l-2.53-1.2l-2.69 1.16z" fill="#f5e21e"/><path d="M238.27 639.42l2.69-1.16l-2.53-1.21l-2.69 1.16z" fill="#f5e21e"/><path d="M243.49 639.47l2.69-1.16l-2.53-1.21l-2.69 1.16z" fill="#f5e21e"/><path d="M248.71 639.53l2.69-1.15l-2.53-1.22l-2.69 1.15z" fill="#f5e21e"/><path d="M253.94 639.6l2.69-1.15l-2.53-1.22l-2.69 1.15z" fill="#f5e21e"/><path d="M259.16 639.68l2.69-1.15l-2.53-1.23l-2.69 1.15z" fill="#f5e21e"/><path d="M264.38 639.76l2.69-1.14l-2.53-1.23l-2.69 1.14z" fill="#f5e21f"/><path d="M269.6 639.85l2.69-1.14l-2.53-1.24l-2.69 1.14z" fill="#f5e21f"/><path d="M274.82 639.96l2.69-1.14l-2.53-1.24l-2.69 1.14z" fill="#f5e21f"/><path d="M280.04 640.07l2.69-1.14l-2.53-1.25l-2.69 1.14z" fill="#f5e11f"/><path d="M285.26 640.19l2.69-1.13l-2.53-1.26l-2.69 1.13z" fill="#f5e11f"/><path d="M290.49 640.32l2.69-1.13l-2.53-1.27l-2.69 1.13z" fill="#f5e11f"/><path d="M295.71 640.47l2.69-1.13l-2.53-1.28l-2.69 1.13z" fill="#f5e020"/><path d="M300.93 640.63l2.69-1.13l-2.53-1.29l-2.69 1.13z" fill="#f5e020"/><path d="M306.15 640.8l2.69-1.13l-2.53-1.3l-2.69 1.13z" fill="#f5e020"/><path d="M311.37 640.99l2.69-1.13l-2.53-1.31l-2.69 1.12z" fill="#f5df20"/><path d="M316.59 641.19l2.69-1.12l-2.53-1.33l-2.69 1.12z" fill="#f5df21"/><path d="M321.81 641.41l2.69-1.12l-2.53-1.35l-2.69 1.12z" fill="#f5de21"/><path d="M327.04 641.66l2.69-1.12l-2.53-1.37l-2.69 1.12z" fill="#f6de22"/><path d="M332.26 641.93l2.69-1.12l-2.53-1.39l-2.69 1.12z" fill="#f6dd22"/><path d="M131.15 641.82l2.69-1.39l-2.53-1.16l-2.69 1.39z" fill="#f6dc23"/><path d="M136.37 641.59l2.69-1.36l-2.53-1.16l-2.69 1.36z" fill="#f6dc23"/><path d="M141.59 641.4l2.69-1.33l-2.53-1.16l-2.69 1.33z" fill="#f6dd22"/><path d="M146.82 641.23l2.69-1.31l-2.53-1.17l-2.69 1.31z" fill="#f6de22"/><path d="M152.04 641.08l2.69-1.29l-2.53-1.17l-2.69 1.29z" fill="#f5de21"/><path d="M157.26 640.96l2.69-1.28l-2.53-1.17l-2.69 1.28z" fill="#f5df21"/><path d="M162.48 640.85l2.69-1.26l-2.53-1.17l-2.69 1.26z" fill="#f5df21"/><path d="M167.7 640.76l2.69-1.25l-2.53-1.17l-2.69 1.25z" fill="#f5e020"/><path d="M172.92 640.68l2.69-1.24l-2.53-1.17l-2.69 1.24z" fill="#f5e020"/><path d="M178.14 640.62l2.69-1.23l-2.53-1.18l-2.69 1.23z" fill="#f5e020"/><path d="M183.37 640.57l2.69-1.22l-2.53-1.18l-2.69 1.22z" fill="#f5e120"/><path d="M188.59 640.52l2.69-1.21l-2.53-1.18l-2.69 1.21z" fill="#f5e11f"/><path d="M193.81 640.5l2.69-1.21l-2.53-1.18l-2.69 1.2z" fill="#f5e11f"/><path d="M199.03 640.48l2.69-1.2l-2.53-1.18l-2.69 1.2z" fill="#f5e11f"/><path d="M204.25 640.46l2.69-1.19l-2.53-1.19l-2.69 1.19z" fill="#f5e11f"/><path d="M209.47 640.46l2.69-1.19l-2.53-1.19l-2.69 1.19z" fill="#f5e21f"/><path d="M214.7 640.47l2.69-1.18l-2.53-1.19l-2.69 1.18z" fill="#f5e21f"/><path d="M219.92 640.49l2.69-1.18l-2.53-1.2l-2.69 1.18z" fill="#f5e21f"/><path d="M225.14 640.51l2.69-1.17l-2.53-1.2l-2.69 1.17z" fill="#f5e21f"/><path d="M230.36 640.54l2.69-1.17l-2.53-1.2l-2.69 1.17z" fill="#f5e21f"/><path d="M235.58 640.58l2.69-1.16l-2.53-1.21l-2.69 1.16z" fill="#f5e21f"/><path d="M240.8 640.63l2.69-1.16l-2.53-1.21l-2.69 1.16z" fill="#f5e21f"/><path d="M246.02 640.69l2.69-1.16l-2.53-1.22l-2.69 1.16z" fill="#f5e21f"/><path d="M251.25 640.75l2.69-1.15l-2.53-1.22l-2.69 1.15z" fill="#f5e21f"/><path d="M256.47 640.83l2.69-1.15l-2.53-1.23l-2.69 1.15z" fill="#f5e21f"/><path d="M261.69 640.91l2.69-1.15l-2.53-1.23l-2.69 1.15z" fill="#f5e21f"/><path d="M266.91 641l2.69-1.14l-2.53-1.24l-2.69 1.14z" fill="#f5e11f"/><path d="M272.13 641.1l2.69-1.14l-2.53-1.24l-2.69 1.14z" fill="#f5e11f"/><path d="M277.35 641.21l2.69-1.14l-2.53-1.25l-2.69 1.14z" fill="#f5e11f"/><path d="M282.57 641.33l2.69-1.14l-2.53-1.26l-2.69 1.14z" fill="#f5e11f"/><path d="M287.8 641.46l2.69-1.13l-2.53-1.27l-2.69 1.13z" fill="#f5e120"/><path d="M293.02 641.6l2.69-1.13l-2.53-1.28l-2.69 1.13z" fill="#f5e020"/><path d="M298.24 641.76l2.69-1.13l-2.53-1.29l-2.69 1.13z" fill="#f5e020"/><path d="M303.46 641.93l2.69-1.13l-2.53-1.3l-2.69 1.13z" fill="#f5df20"/><path d="M308.68 642.11l2.69-1.13l-2.53-1.31l-2.69 1.13z" fill="#f5df21"/><path d="M313.9 642.32l2.69-1.13l-2.53-1.33l-2.69 1.13z" fill="#f5df21"/><path d="M319.13 642.54l2.69-1.12l-2.53-1.35l-2.69 1.12z" fill="#f5de21"/><path d="M324.35 642.78l2.69-1.12l-2.53-1.37l-2.69 1.12z" fill="#f6dd22"/><path d="M329.57 643.05l2.69-1.12l-2.53-1.39l-2.69 1.12z" fill="#f6dd22"/><path d="M334.79 643.36l2.69-1.12l-2.53-1.42l-2.69 1.12z" fill="#f6dc23"/><path d="M128.46 643.24l2.69-1.43l-2.53-1.16l-2.69 1.43z" fill="#f7db24"/><path d="M133.68 642.98l2.69-1.39l-2.53-1.16l-2.69 1.39z" fill="#f6db23"/><path d="M138.9 642.76l2.69-1.36l-2.53-1.16l-2.69 1.36z" fill="#f6dc23"/><path d="M144.13 642.56l2.69-1.33l-2.53-1.17l-2.69 1.33z" fill="#f6dd22"/><path d="M149.35 642.39l2.69-1.31l-2.53-1.17l-2.69 1.31z" fill="#f6dd22"/><path d="M154.57 642.25l2.69-1.29l-2.53-1.17l-2.69 1.29z" fill="#f5de21"/><path d="M159.79 642.13l2.69-1.28l-2.53-1.17l-2.69 1.28z" fill="#f5de21"/><path d="M165.01 642.02l2.69-1.26l-2.53-1.17l-2.69 1.26z" fill="#f5df21"/><path d="M170.23 641.93l2.69-1.25l-2.53-1.17l-2.69 1.25z" fill="#f5df20"/><path d="M175.45 641.86l2.69-1.24l-2.53-1.18l-2.69 1.24z" fill="#f5e020"/><path d="M180.68 641.8l2.69-1.23l-2.53-1.18l-2.69 1.23z" fill="#f5e020"/><path d="M185.9 641.75l2.69-1.22l-2.53-1.18l-2.69 1.22z" fill="#f5e020"/><path d="M191.12 641.71l2.69-1.21l-2.53-1.18l-2.69 1.21z" fill="#f5e020"/><path d="M196.34 641.68l2.69-1.21l-2.53-1.19l-2.69 1.21z" fill="#f5e11f"/><path d="M201.56 641.66l2.69-1.2l-2.53-1.19l-2.69 1.2z" fill="#f5e11f"/><path d="M206.78 641.66l2.69-1.19l-2.53-1.19l-2.69 1.19z" fill="#f5e11f"/><path d="M212.01 641.66l2.69-1.19l-2.53-1.19l-2.69 1.19z" fill="#f5e11f"/><path d="M217.23 641.67l2.69-1.18l-2.53-1.2l-2.69 1.18z" fill="#f5e11f"/><path d="M222.45 641.69l2.69-1.18l-2.53-1.2l-2.69 1.18z" fill="#f5e11f"/><path d="M227.67 641.71l2.69-1.17l-2.53-1.2l-2.69 1.17z" fill="#f5e11f"/><path d="M232.89 641.75l2.69-1.17l-2.53-1.21l-2.69 1.17z" fill="#f5e11f"/><path d="M238.11 641.79l2.69-1.16l-2.53-1.21l-2.69 1.16z" fill="#f5e11f"/><path d="M243.33 641.85l2.69-1.16l-2.53-1.22l-2.69 1.16z" fill="#f5e11f"/><path d="M248.56 641.91l2.69-1.16l-2.53-1.22l-2.69 1.16z" fill="#f5e11f"/><path d="M253.78 641.98l2.69-1.15l-2.53-1.23l-2.69 1.15z" fill="#f5e11f"/><path d="M259 642.06l2.69-1.15l-2.53-1.23l-2.69 1.15z" fill="#f5e11f"/><path d="M264.22 642.14l2.69-1.15l-2.53-1.24l-2.69 1.15z" fill="#f5e11f"/><path d="M269.44 642.24l2.69-1.14l-2.53-1.24l-2.69 1.14z" fill="#f5e11f"/><path d="M274.66 642.35l2.69-1.14l-2.53-1.25l-2.69 1.14z" fill="#f5e11f"/><path d="M279.88 642.47l2.69-1.14l-2.53-1.26l-2.69 1.14z" fill="#f5e020"/><path d="M285.11 642.6l2.69-1.14l-2.53-1.27l-2.69 1.14z" fill="#f5e020"/><path d="M290.33 642.74l2.69-1.13l-2.53-1.28l-2.69 1.13z" fill="#f5e020"/><path d="M295.55 642.89l2.69-1.13l-2.53-1.29l-2.69 1.13z" fill="#f5e020"/><path d="M300.77 643.06l2.69-1.13l-2.53-1.3l-2.69 1.13z" fill="#f5df20"/><path d="M305.99 643.24l2.69-1.13l-2.53-1.31l-2.69 1.13z" fill="#f5df21"/><path d="M311.21 643.44l2.69-1.13l-2.53-1.33l-2.69 1.13z" fill="#f5de21"/><path d="M316.44 643.66l2.69-1.13l-2.53-1.35l-2.69 1.13z" fill="#f6de22"/><path d="M321.66 643.91l2.69-1.12l-2.53-1.37l-2.69 1.12z" fill="#f6dd22"/><path d="M326.88 644.18l2.69-1.12l-2.53-1.39l-2.69 1.12z" fill="#f6dd22"/><path d="M332.1 644.48l2.69-1.12l-2.53-1.42l-2.69 1.12z" fill="#f6dc23"/><path d="M337.32 644.81l2.69-1.12l-2.53-1.46l-2.69 1.12z" fill="#f6db24"/><path d="M125.77 644.72l2.69-1.47l-2.53-1.16l-2.69 1.47z" fill="#f7d925"/><path d="M130.99 644.41l2.69-1.43l-2.53-1.16l-2.69 1.43z" fill="#f7da24"/><path d="M136.21 644.15l2.69-1.39l-2.53-1.16l-2.69 1.39z" fill="#f6db23"/><path d="M141.44 643.92l2.69-1.36l-2.53-1.17l-2.69 1.36z" fill="#f6dc23"/><path d="M146.66 643.73l2.69-1.33l-2.53-1.17l-2.69 1.33z" fill="#f6dd22"/><path d="M151.88 643.56l2.69-1.31l-2.53-1.17l-2.69 1.31z" fill="#f6dd22"/><path d="M157.1 643.42l2.69-1.29l-2.53-1.17l-2.69 1.29z" fill="#f6de22"/><path d="M162.32 643.3l2.69-1.28l-2.53-1.17l-2.69 1.28z" fill="#f5de21"/><path d="M167.54 643.2l2.69-1.26l-2.53-1.17l-2.69 1.26z" fill="#f5df21"/><path d="M172.77 643.11l2.69-1.25l-2.53-1.18l-2.69 1.25z" fill="#f5df21"/><path d="M177.99 643.04l2.69-1.24l-2.53-1.18l-2.69 1.24z" fill="#f5df20"/><path d="M183.21 642.98l2.69-1.23l-2.53-1.18l-2.69 1.23z" fill="#f5e020"/><path d="M188.43 642.93l2.69-1.22l-2.53-1.18l-2.69 1.22z" fill="#f5e020"/><path d="M193.65 642.89l2.69-1.21l-2.53-1.19l-2.69 1.21z" fill="#f5e020"/><path d="M198.87 642.87l2.69-1.21l-2.53-1.19l-2.69 1.21z" fill="#f5e020"/><path d="M204.09 642.85l2.69-1.2l-2.53-1.19l-2.69 1.2z" fill="#f5e120"/><path d="M209.32 642.85l2.69-1.19l-2.53-1.19l-2.69 1.19z" fill="#f5e11f"/><path d="M214.54 642.85l2.69-1.19l-2.53-1.2l-2.69 1.19z" fill="#f5e11f"/><path d="M219.76 642.87l2.69-1.18l-2.53-1.2l-2.69 1.18z" fill="#f5e11f"/><path d="M224.98 642.89l2.69-1.18l-2.53-1.2l-2.69 1.18z" fill="#f5e11f"/><path d="M230.2 642.92l2.69-1.17l-2.53-1.21l-2.69 1.17z" fill="#f5e11f"/><path d="M235.42 642.96l2.69-1.17l-2.53-1.21l-2.69 1.17z" fill="#f5e11f"/><path d="M240.64 643.01l2.69-1.16l-2.53-1.22l-2.69 1.16z" fill="#f5e11f"/><path d="M245.87 643.07l2.69-1.16l-2.53-1.22l-2.69 1.16z" fill="#f5e11f"/><path d="M251.09 643.13l2.69-1.16l-2.53-1.23l-2.69 1.16z" fill="#f5e11f"/><path d="M256.31 643.21l2.69-1.15l-2.53-1.23l-2.69 1.15z" fill="#f5e11f"/><path d="M261.53 643.3l2.69-1.15l-2.53-1.24l-2.69 1.15z" fill="#f5e11f"/><path d="M266.75 643.39l2.69-1.15l-2.53-1.24l-2.69 1.15z" fill="#f5e120"/><path d="M271.97 643.49l2.69-1.14l-2.53-1.25l-2.69 1.14z" fill="#f5e020"/><path d="M277.19 643.61l2.69-1.14l-2.53-1.26l-2.69 1.14z" fill="#f5e020"/><path d="M282.42 643.74l2.69-1.14l-2.53-1.27l-2.69 1.14z" fill="#f5e020"/><path d="M287.64 643.87l2.69-1.14l-2.53-1.28l-2.69 1.14z" fill="#f5e020"/><path d="M292.86 644.03l2.69-1.14l-2.53-1.29l-2.69 1.13z" fill="#f5df20"/><path d="M298.08 644.19l2.69-1.13l-2.53-1.3l-2.69 1.13z" fill="#f5df21"/><path d="M303.3 644.37l2.69-1.13l-2.53-1.31l-2.69 1.13z" fill="#f5df21"/><path d="M308.52 644.57l2.69-1.13l-2.53-1.33l-2.69 1.13z" fill="#f5de21"/><path d="M313.75 644.79l2.69-1.13l-2.53-1.35l-2.69 1.13z" fill="#f6de22"/><path d="M318.97 645.03l2.69-1.13l-2.53-1.37l-2.69 1.13z" fill="#f6dd22"/><path d="M324.19 645.3l2.69-1.12l-2.53-1.39l-2.69 1.12z" fill="#f6dc23"/><path d="M329.41 645.6l2.69-1.12l-2.53-1.42l-2.69 1.12z" fill="#f6dc23"/><path d="M334.63 645.94l2.69-1.12l-2.53-1.46l-2.69 1.12z" fill="#f6db24"/><path d="M339.85 646.32l2.69-1.12l-2.53-1.5l-2.69 1.12z" fill="#f7da24"/><path d="M123.08 646.25l2.69-1.53l-2.53-1.16l-2.69 1.53z" fill="#f7d826"/><path d="M128.3 645.88l2.69-1.47l-2.53-1.16l-2.69 1.47z" fill="#f7d925"/><path d="M133.52 645.57l2.69-1.43l-2.53-1.17l-2.69 1.43z" fill="#f7da24"/><path d="M138.75 645.31l2.69-1.39l-2.53-1.17l-2.69 1.39z" fill="#f6db24"/><path d="M143.97 645.09l2.69-1.36l-2.53-1.17l-2.69 1.36z" fill="#f6dc23"/><path d="M149.19 644.9l2.69-1.34l-2.53-1.17l-2.69 1.33z" fill="#f6dc23"/><path d="M154.41 644.74l2.69-1.31l-2.53-1.17l-2.69 1.31z" fill="#f6dd22"/><path d="M159.63 644.6l2.69-1.3l-2.53-1.17l-2.69 1.29z" fill="#f6dd22"/><path d="M164.85 644.48l2.69-1.28l-2.53-1.17l-2.69 1.28z" fill="#f6de21"/><path d="M170.08 644.37l2.69-1.26l-2.53-1.18l-2.69 1.26z" fill="#f5de21"/><path d="M175.3 644.29l2.69-1.25l-2.53-1.18l-2.69 1.25z" fill="#f5df21"/><path d="M180.52 644.22l2.69-1.24l-2.53-1.18l-2.69 1.24z" fill="#f5df21"/><path d="M185.74 644.16l2.69-1.23l-2.53-1.18l-2.69 1.23z" fill="#f5df20"/><path d="M190.96 644.12l2.69-1.22l-2.53-1.19l-2.69 1.22z" fill="#f5e020"/><path d="M196.18 644.08l2.69-1.21l-2.53-1.19l-2.69 1.21z" fill="#f5e020"/><path d="M201.4 644.06l2.69-1.21l-2.53-1.19l-2.69 1.21z" fill="#f5e020"/><path d="M206.63 644.05l2.69-1.2l-2.53-1.19l-2.69 1.2z" fill="#f5e020"/><path d="M211.85 644.05l2.69-1.19l-2.53-1.2l-2.69 1.19z" fill="#f5e020"/><path d="M217.07 644.05l2.69-1.19l-2.53-1.2l-2.69 1.19z" fill="#f5e020"/><path d="M222.29 644.07l2.69-1.18l-2.53-1.2l-2.69 1.18z" fill="#f5e120"/><path d="M227.51 644.1l2.69-1.18l-2.53-1.21l-2.69 1.18z" fill="#f5e11f"/><path d="M232.73 644.13l2.69-1.17l-2.53-1.21l-2.69 1.17z" fill="#f5e11f"/><path d="M237.95 644.18l2.69-1.17l-2.53-1.22l-2.69 1.17z" fill="#f5e11f"/><path d="M243.18 644.23l2.69-1.16l-2.53-1.22l-2.69 1.16z" fill="#f5e11f"/><path d="M248.4 644.3l2.69-1.16l-2.53-1.23l-2.69 1.16z" fill="#f5e120"/><path d="M253.62 644.37l2.69-1.16l-2.53-1.23l-2.69 1.16z" fill="#f5e020"/><path d="M258.84 644.45l2.69-1.15l-2.53-1.24l-2.69 1.15z" fill="#f5e020"/><path d="M264.06 644.54l2.69-1.15l-2.53-1.24l-2.69 1.15z" fill="#f5e020"/><path d="M269.28 644.64l2.69-1.15l-2.53-1.25l-2.69 1.15z" fill="#f5e020"/><path d="M274.5 644.75l2.69-1.14l-2.53-1.26l-2.69 1.14z" fill="#f5e020"/><path d="M279.73 644.88l2.69-1.14l-2.53-1.27l-2.69 1.14z" fill="#f5e020"/><path d="M284.95 645.01l2.69-1.14l-2.53-1.28l-2.69 1.14z" fill="#f5df20"/><path d="M290.17 645.16l2.69-1.14l-2.53-1.29l-2.69 1.14z" fill="#f5df21"/><path d="M295.39 645.33l2.69-1.14l-2.53-1.3l-2.69 1.14z" fill="#f5df21"/><path d="M300.61 645.51l2.69-1.13l-2.53-1.32l-2.69 1.13z" fill="#f5de21"/><path d="M305.83 645.71l2.69-1.13l-2.53-1.33l-2.69 1.13z" fill="#f6de22"/><path d="M311.06 645.92l2.69-1.13l-2.53-1.35l-2.69 1.13z" fill="#f6dd22"/><path d="M316.28 646.16l2.69-1.13l-2.53-1.37l-2.69 1.13z" fill="#f6dd22"/><path d="M321.5 646.43l2.69-1.13l-2.53-1.39l-2.69 1.13z" fill="#f6dc23"/><path d="M326.72 646.73l2.69-1.13l-2.53-1.42l-2.69 1.12z" fill="#f6db23"/><path d="M331.94 647.06l2.69-1.12l-2.53-1.46l-2.69 1.12z" fill="#f7db24"/><path d="M337.16 647.44l2.69-1.12l-2.53-1.5l-2.69 1.12z" fill="#f7da25"/><path d="M342.38 647.88l2.69-1.12l-2.53-1.56l-2.69 1.12z" fill="#f7d925"/><path d="M120.39 647.85l2.69-1.61l-2.53-1.16l-2.69 1.61z" fill="#f8d627"/><path d="M125.61 647.41l2.69-1.53l-2.53-1.16l-2.69 1.53z" fill="#f8d826"/><path d="M130.83 647.05l2.69-1.47l-2.53-1.17l-2.69 1.47z" fill="#f7d925"/><path d="M136.06 646.74l2.69-1.43l-2.53-1.17l-2.69 1.43z" fill="#f7da24"/><path d="M141.28 646.48l2.69-1.39l-2.53-1.17l-2.69 1.39z" fill="#f7db24"/><path d="M146.5 646.26l2.69-1.36l-2.53-1.17l-2.69 1.36z" fill="#f6db23"/><path d="M151.72 646.07l2.69-1.34l-2.53-1.17l-2.69 1.34z" fill="#f6dc23"/><path d="M156.94 645.91l2.69-1.31l-2.53-1.17l-2.69 1.31z" fill="#f6dd22"/><path d="M162.16 645.77l2.69-1.3l-2.53-1.18l-2.69 1.3z" fill="#f6dd22"/><path d="M167.39 645.65l2.69-1.28l-2.53-1.18l-2.69 1.28z" fill="#f6de22"/><path d="M172.61 645.55l2.69-1.26l-2.53-1.18l-2.69 1.26z" fill="#f5de21"/><path d="M177.83 645.47l2.69-1.25l-2.53-1.18l-2.69 1.25z" fill="#f5de21"/><path d="M183.05 645.4l2.69-1.24l-2.53-1.18l-2.69 1.24z" fill="#f5df21"/><path d="M188.27 645.35l2.69-1.23l-2.53-1.19l-2.69 1.23z" fill="#f5df21"/><path d="M193.49 645.3l2.69-1.22l-2.53-1.19l-2.69 1.22z" fill="#f5df20"/><path d="M198.71 645.27l2.69-1.21l-2.53-1.19l-2.69 1.21z" fill="#f5e020"/><path d="M203.94 645.25l2.69-1.21l-2.53-1.19l-2.69 1.21z" fill="#f5e020"/><path d="M209.16 645.25l2.69-1.2l-2.53-1.2l-2.69 1.2z" fill="#f5e020"/><path d="M214.38 645.25l2.69-1.19l-2.53-1.2l-2.69 1.19z" fill="#f5e020"/><path d="M219.6 645.26l2.69-1.19l-2.53-1.2l-2.69 1.19z" fill="#f5e020"/><path d="M224.82 645.28l2.69-1.18l-2.53-1.21l-2.69 1.18z" fill="#f5e020"/><path d="M230.04 645.31l2.69-1.18l-2.53-1.21l-2.69 1.18z" fill="#f5e020"/><path d="M235.26 645.35l2.69-1.17l-2.53-1.22l-2.69 1.17z" fill="#f5e020"/><path d="M240.49 645.4l2.69-1.17l-2.53-1.22l-2.69 1.17z" fill="#f5e020"/><path d="M245.71 645.46l2.69-1.16l-2.53-1.23l-2.69 1.16z" fill="#f5e020"/><path d="M250.93 645.53l2.69-1.16l-2.53-1.23l-2.69 1.16z" fill="#f5e020"/><path d="M256.15 645.61l2.69-1.16l-2.53-1.24l-2.69 1.16z" fill="#f5e020"/><path d="M261.37 645.69l2.69-1.15l-2.53-1.24l-2.69 1.15z" fill="#f5e020"/><path d="M266.59 645.79l2.69-1.15l-2.53-1.25l-2.69 1.15z" fill="#f5e020"/><path d="M271.82 645.9l2.69-1.15l-2.53-1.26l-2.69 1.15z" fill="#f5df20"/><path d="M277.04 646.02l2.69-1.15l-2.53-1.27l-2.69 1.14z" fill="#f5df20"/><path d="M282.26 646.16l2.69-1.14l-2.53-1.28l-2.69 1.14z" fill="#f5df21"/><path d="M287.48 646.3l2.69-1.14l-2.53-1.29l-2.69 1.14z" fill="#f5df21"/><path d="M292.7 646.47l2.69-1.14l-2.53-1.3l-2.69 1.14z" fill="#f5de21"/><path d="M297.92 646.64l2.69-1.14l-2.53-1.32l-2.69 1.14z" fill="#f5de21"/><path d="M303.14 646.84l2.69-1.13l-2.53-1.33l-2.69 1.13z" fill="#f6de22"/><path d="M308.37 647.05l2.69-1.13l-2.53-1.35l-2.69 1.13z" fill="#f6dd22"/><path d="M313.59 647.29l2.69-1.13l-2.53-1.37l-2.69 1.13z" fill="#f6dc22"/><path d="M318.81 647.56l2.69-1.13l-2.53-1.39l-2.69 1.13z" fill="#f6dc23"/><path d="M324.03 647.85l2.69-1.13l-2.53-1.42l-2.69 1.13z" fill="#f6db23"/><path d="M329.25 648.19l2.69-1.13l-2.53-1.46l-2.69 1.13z" fill="#f7da24"/><path d="M334.47 648.56l2.69-1.12l-2.53-1.5l-2.69 1.12z" fill="#f7d925"/><path d="M339.69 649l2.69-1.12l-2.53-1.56l-2.69 1.12z" fill="#f7d826"/><path d="M344.92 649.51l2.69-1.12l-2.53-1.63l-2.69 1.12z" fill="#f8d726"/><path d="M117.7 649.56l2.69-1.71l-2.53-1.16l-2.69 1.71z" fill="#f9d528"/><path d="M122.92 649.02l2.69-1.61l-2.53-1.17l-2.69 1.61z" fill="#f8d627"/><path d="M128.14 648.58l2.69-1.53l-2.53-1.17l-2.69 1.53z" fill="#f8d826"/><path d="M133.37 648.22l2.69-1.47l-2.53-1.17l-2.69 1.47z" fill="#f7d925"/><path d="M138.59 647.91l2.69-1.43l-2.53-1.17l-2.69 1.43z" fill="#f7da25"/><path d="M143.81 647.65l2.69-1.39l-2.53-1.17l-2.69 1.39z" fill="#f7da24"/><path d="M149.03 647.43l2.69-1.36l-2.53-1.17l-2.69 1.36z" fill="#f6db23"/><path d="M154.25 647.25l2.69-1.34l-2.53-1.17l-2.69 1.34z" fill="#f6dc23"/><path d="M159.47 647.09l2.69-1.31l-2.53-1.18l-2.69 1.31z" fill="#f6dc23"/><path d="M164.7 646.95l2.69-1.3l-2.53-1.18l-2.69 1.3z" fill="#f6dd22"/><path d="M169.92 646.83l2.69-1.28l-2.53-1.18l-2.69 1.28z" fill="#f6dd22"/><path d="M175.14 646.73l2.69-1.27l-2.53-1.18l-2.69 1.26z" fill="#f6de22"/><path d="M180.36 646.65l2.69-1.25l-2.53-1.18l-2.69 1.25z" fill="#f5de21"/><path d="M185.58 646.59l2.69-1.24l-2.53-1.19l-2.69 1.24z" fill="#f5de21"/><path d="M190.8 646.54l2.69-1.23l-2.53-1.19l-2.69 1.23z" fill="#f5df21"/><path d="M196.02 646.5l2.69-1.22l-2.53-1.19l-2.69 1.22z" fill="#f5df21"/><path d="M201.25 646.47l2.69-1.21l-2.53-1.19l-2.69 1.21z" fill="#f5df21"/><path d="M206.47 646.45l2.69-1.21l-2.53-1.2l-2.69 1.21z" fill="#f5df20"/><path d="M211.69 646.45l2.69-1.2l-2.53-1.2l-2.69 1.2z" fill="#f5e020"/><path d="M216.91 646.45l2.69-1.19l-2.53-1.2l-2.69 1.19z" fill="#f5e020"/><path d="M222.13 646.47l2.69-1.19l-2.53-1.21l-2.69 1.19z" fill="#f5e020"/><path d="M227.35 646.49l2.69-1.18l-2.53-1.21l-2.69 1.18z" fill="#f5e020"/><path d="M232.57 646.53l2.69-1.18l-2.53-1.22l-2.69 1.18z" fill="#f5e020"/><path d="M237.8 646.57l2.69-1.17l-2.53-1.22l-2.69 1.17z" fill="#f5e020"/><path d="M243.02 646.63l2.69-1.17l-2.53-1.23l-2.69 1.17z" fill="#f5e020"/><path d="M248.24 646.69l2.69-1.16l-2.53-1.23l-2.69 1.16z" fill="#f5e020"/><path d="M253.46 646.77l2.69-1.16l-2.53-1.24l-2.69 1.16z" fill="#f5e020"/><path d="M258.68 646.85l2.69-1.16l-2.53-1.25l-2.69 1.16z" fill="#f5df20"/><path d="M263.9 646.95l2.69-1.15l-2.53-1.25l-2.69 1.15z" fill="#f5df20"/><path d="M269.13 647.05l2.69-1.15l-2.53-1.26l-2.69 1.15z" fill="#f5df21"/><path d="M274.35 647.17l2.69-1.15l-2.53-1.27l-2.69 1.15z" fill="#f5df21"/><path d="M279.57 647.3l2.69-1.15l-2.53-1.28l-2.69 1.15z" fill="#f5df21"/><path d="M284.79 647.45l2.69-1.14l-2.53-1.29l-2.69 1.14z" fill="#f5de21"/><path d="M290.01 647.61l2.69-1.14l-2.53-1.3l-2.69 1.14z" fill="#f5de21"/><path d="M295.23 647.78l2.69-1.14l-2.53-1.32l-2.69 1.14z" fill="#f6de22"/><path d="M300.45 647.98l2.69-1.14l-2.53-1.33l-2.69 1.14z" fill="#f6dd22"/><path d="M305.68 648.19l2.69-1.13l-2.53-1.35l-2.69 1.13z" fill="#f6dd22"/><path d="M310.9 648.43l2.69-1.13l-2.53-1.37l-2.69 1.13z" fill="#f6dc23"/><path d="M316.12 648.69l2.69-1.13l-2.53-1.39l-2.69 1.13z" fill="#f6dc23"/><path d="M321.34 648.98l2.69-1.13l-2.53-1.42l-2.69 1.13z" fill="#f6db24"/><path d="M326.56 649.31l2.69-1.13l-2.53-1.46l-2.69 1.13z" fill="#f7da24"/><path d="M331.78 649.69l2.69-1.13l-2.53-1.5l-2.69 1.13z" fill="#f7d925"/><path d="M337 650.12l2.69-1.12l-2.53-1.56l-2.69 1.12z" fill="#f7d826"/><path d="M342.23 650.63l2.69-1.12l-2.53-1.63l-2.69 1.12z" fill="#f8d727"/><path d="M347.45 651.24l2.69-1.12l-2.53-1.73l-2.69 1.12z" fill="#f9d528"/><path d="M115.01 651.42l2.69-1.86l-2.53-1.16l-2.69 1.86z" fill="#fad32a"/><path d="M120.23 650.73l2.69-1.71l-2.53-1.17l-2.69 1.71z" fill="#f9d528"/><path d="M125.45 650.19l2.69-1.61l-2.53-1.17l-2.69 1.61z" fill="#f8d627"/><path d="M130.68 649.75l2.69-1.53l-2.53-1.17l-2.69 1.53z" fill="#f8d726"/><path d="M135.9 649.38l2.69-1.47l-2.53-1.17l-2.69 1.47z" fill="#f7d826"/><path d="M141.12 649.08l2.69-1.43l-2.53-1.17l-2.69 1.43z" fill="#f7d925"/><path d="M146.34 648.83l2.69-1.39l-2.53-1.17l-2.69 1.39z" fill="#f7da24"/><path d="M151.56 648.61l2.69-1.36l-2.53-1.17l-2.69 1.36z" fill="#f6db24"/><path d="M156.78 648.42l2.69-1.34l-2.53-1.18l-2.69 1.34z" fill="#f6dc23"/><path d="M162.01 648.26l2.69-1.31l-2.53-1.18l-2.69 1.31z" fill="#f6dc23"/><path d="M167.23 648.13l2.69-1.3l-2.53-1.18l-2.69 1.3z" fill="#f6dd22"/><path d="M172.45 648.01l2.69-1.28l-2.53-1.18l-2.69 1.28z" fill="#f6dd22"/><path d="M177.67 647.92l2.69-1.27l-2.53-1.18l-2.69 1.27z" fill="#f6dd22"/><path d="M182.89 647.84l2.69-1.25l-2.53-1.19l-2.69 1.25z" fill="#f6de22"/><path d="M188.11 647.78l2.69-1.24l-2.53-1.19l-2.69 1.24z" fill="#f5de21"/><path d="M193.33 647.73l2.69-1.23l-2.53-1.19l-2.69 1.23z" fill="#f5de21"/><path d="M198.56 647.69l2.69-1.22l-2.53-1.19l-2.69 1.22z" fill="#f5df21"/><path d="M203.78 647.67l2.69-1.21l-2.53-1.2l-2.69 1.21z" fill="#f5df21"/><path d="M209 647.65l2.69-1.21l-2.53-1.2l-2.69 1.21z" fill="#f5df21"/><path d="M214.22 647.65l2.69-1.2l-2.53-1.2l-2.69 1.2z" fill="#f5df21"/><path d="M219.44 647.66l2.69-1.19l-2.53-1.21l-2.69 1.19z" fill="#f5df20"/><path d="M224.66 647.68l2.69-1.19l-2.53-1.21l-2.69 1.19z" fill="#f5df20"/><path d="M229.88 647.71l2.69-1.18l-2.53-1.22l-2.69 1.18z" fill="#f5df20"/><path d="M235.11 647.75l2.69-1.18l-2.53-1.22l-2.69 1.18z" fill="#f5df20"/><path d="M240.33 647.8l2.69-1.17l-2.53-1.23l-2.69 1.17z" fill="#f5df20"/><path d="M245.55 647.86l2.69-1.17l-2.53-1.23l-2.69 1.17z" fill="#f5df20"/><path d="M250.77 647.93l2.69-1.16l-2.53-1.24l-2.69 1.16z" fill="#f5df20"/><path d="M255.99 648.01l2.69-1.16l-2.53-1.25l-2.69 1.16z" fill="#f5df21"/><path d="M261.21 648.1l2.69-1.16l-2.53-1.25l-2.69 1.16z" fill="#f5df21"/><path d="M266.44 648.21l2.69-1.15l-2.53-1.26l-2.69 1.15z" fill="#f5df21"/><path d="M271.66 648.32l2.69-1.15l-2.53-1.27l-2.69 1.15z" fill="#f5df21"/><path d="M276.88 648.45l2.69-1.15l-2.53-1.28l-2.69 1.15z" fill="#f5de21"/><path d="M282.1 648.59l2.69-1.15l-2.53-1.29l-2.69 1.15z" fill="#f5de21"/><path d="M287.32 648.75l2.69-1.14l-2.53-1.3l-2.69 1.14z" fill="#f6de22"/><path d="M292.54 648.92l2.69-1.14l-2.53-1.32l-2.69 1.14z" fill="#f6dd22"/><path d="M297.76 649.11l2.69-1.14l-2.53-1.33l-2.69 1.14z" fill="#f6dd22"/><path d="M302.99 649.33l2.69-1.14l-2.53-1.35l-2.69 1.14z" fill="#f6dc22"/><path d="M308.21 649.56l2.69-1.13l-2.53-1.37l-2.69 1.13z" fill="#f6dc23"/><path d="M313.43 649.82l2.69-1.13l-2.53-1.4l-2.69 1.13z" fill="#f6db23"/><path d="M318.65 650.11l2.69-1.13l-2.53-1.42l-2.69 1.13z" fill="#f7db24"/><path d="M323.87 650.44l2.69-1.13l-2.53-1.46l-2.69 1.13z" fill="#f7da24"/><path d="M329.09 650.82l2.69-1.13l-2.53-1.5l-2.69 1.13z" fill="#f7d925"/><path d="M334.31 651.25l2.69-1.13l-2.53-1.56l-2.69 1.13z" fill="#f7d826"/><path d="M339.54 651.76l2.69-1.13l-2.53-1.63l-2.69 1.12z" fill="#f8d727"/><path d="M344.76 652.36l2.69-1.12l-2.53-1.73l-2.69 1.12z" fill="#f9d528"/><path d="M349.98 653.12l2.69-1.12l-2.53-1.88l-2.69 1.12z" fill="#f9d329"/><path d="M112.32 653.52l2.69-2.1l-2.53-1.17l-2.69 2.1z" fill="#fbd02c"/><path d="M117.54 652.59l2.69-1.86l-2.53-1.17l-2.69 1.86z" fill="#fad22a"/><path d="M122.77 651.9l2.69-1.71l-2.53-1.17l-2.69 1.71z" fill="#f9d429"/><path d="M127.99 651.36l2.69-1.61l-2.53-1.17l-2.69 1.61z" fill="#f8d627"/><path d="M133.21 650.92l2.69-1.53l-2.53-1.17l-2.69 1.53z" fill="#f8d727"/><path d="M138.43 650.56l2.69-1.48l-2.53-1.17l-2.69 1.47z" fill="#f7d826"/><path d="M143.65 650.26l2.69-1.43l-2.53-1.17l-2.69 1.43z" fill="#f7d925"/><path d="M148.87 650l2.69-1.39l-2.53-1.17l-2.69 1.39z" fill="#f7da24"/><path d="M154.09 649.78l2.69-1.36l-2.53-1.18l-2.69 1.36z" fill="#f7db24"/><path d="M159.32 649.6l2.69-1.34l-2.53-1.18l-2.69 1.34z" fill="#f6db23"/><path d="M164.54 649.44l2.69-1.32l-2.53-1.18l-2.69 1.31z" fill="#f6dc23"/><path d="M169.76 649.31l2.69-1.3l-2.53-1.18l-2.69 1.3z" fill="#f6dc23"/><path d="M174.98 649.2l2.69-1.28l-2.53-1.18l-2.69 1.28z" fill="#f6dd22"/><path d="M180.2 649.11l2.69-1.27l-2.53-1.19l-2.69 1.27z" fill="#f6dd22"/><path d="M185.42 649.03l2.69-1.25l-2.53-1.19l-2.69 1.25z" fill="#f6dd22"/><path d="M190.64 648.97l2.69-1.24l-2.53-1.19l-2.69 1.24z" fill="#f6de22"/><path d="M195.87 648.92l2.69-1.23l-2.53-1.2l-2.69 1.23z" fill="#f5de21"/><path d="M201.09 648.89l2.69-1.22l-2.53-1.2l-2.69 1.22z" fill="#f5de21"/><path d="M206.31 648.87l2.69-1.21l-2.53-1.2l-2.69 1.21z" fill="#f5de21"/><path d="M211.53 648.86l2.69-1.21l-2.53-1.21l-2.69 1.21z" fill="#f5df21"/><path d="M216.75 648.86l2.69-1.2l-2.53-1.21l-2.69 1.2z" fill="#f5df21"/><path d="M221.97 648.88l2.69-1.19l-2.53-1.21l-2.69 1.19z" fill="#f5df21"/><path d="M227.19 648.9l2.69-1.19l-2.53-1.22l-2.69 1.19z" fill="#f5df21"/><path d="M232.42 648.93l2.69-1.18l-2.53-1.22l-2.69 1.18z" fill="#f5df21"/><path d="M237.64 648.98l2.69-1.18l-2.53-1.23l-2.69 1.18z" fill="#f5df21"/><path d="M242.86 649.03l2.69-1.17l-2.53-1.23l-2.69 1.17z" fill="#f5df21"/><path d="M248.08 649.1l2.69-1.17l-2.53-1.24l-2.69 1.17z" fill="#f5df21"/><path d="M253.3 649.18l2.69-1.17l-2.53-1.25l-2.69 1.16z" fill="#f5df21"/><path d="M258.52 649.27l2.69-1.16l-2.53-1.25l-2.69 1.16z" fill="#f5df21"/><path d="M263.75 649.37l2.69-1.16l-2.53-1.26l-2.69 1.16z" fill="#f5de21"/><path d="M268.97 649.48l2.69-1.15l-2.53-1.27l-2.69 1.15z" fill="#f5de21"/><path d="M274.19 649.6l2.69-1.15l-2.53-1.28l-2.69 1.15z" fill="#f5de21"/><path d="M279.41 649.74l2.69-1.15l-2.53-1.29l-2.69 1.15z" fill="#f6de22"/><path d="M284.63 649.9l2.69-1.15l-2.53-1.3l-2.69 1.15z" fill="#f6dd22"/><path d="M289.85 650.07l2.69-1.14l-2.53-1.32l-2.69 1.14z" fill="#f6dd22"/><path d="M295.07 650.26l2.69-1.14l-2.53-1.33l-2.69 1.14z" fill="#f6dd22"/><path d="M300.3 650.46l2.69-1.14l-2.53-1.35l-2.69 1.14z" fill="#f6dc23"/><path d="M305.52 650.7l2.69-1.14l-2.53-1.37l-2.69 1.14z" fill="#f6dc23"/><path d="M310.74 650.96l2.69-1.14l-2.53-1.4l-2.69 1.13z" fill="#f6db24"/><path d="M315.96 651.25l2.69-1.13l-2.53-1.43l-2.69 1.13z" fill="#f7da24"/><path d="M321.18 651.57l2.69-1.13l-2.53-1.46l-2.69 1.13z" fill="#f7da25"/><path d="M326.4 651.95l2.69-1.13l-2.53-1.5l-2.69 1.13z" fill="#f7d925"/><path d="M331.62 652.38l2.69-1.13l-2.53-1.56l-2.69 1.13z" fill="#f8d826"/><path d="M336.85 652.88l2.69-1.13l-2.53-1.63l-2.69 1.13z" fill="#f8d627"/><path d="M342.07 653.49l2.69-1.13l-2.53-1.73l-2.69 1.13z" fill="#f9d528"/><path d="M347.29 654.24l2.69-1.13l-2.53-1.88l-2.69 1.12z" fill="#fad329"/><path d="M352.51 655.22l2.69-1.13l-2.53-2.11l-2.69 1.12z" fill="#fbd12b"/><path d="M109.63 656.05l2.69-2.53l-2.53-1.17l-2.69 2.53z" fill="#fdcc2f"/><path d="M114.85 654.69l2.69-2.1l-2.53-1.17l-2.69 2.1z" fill="#fbd02c"/><path d="M120.08 653.76l2.69-1.86l-2.53-1.17l-2.69 1.86z" fill="#fad22a"/><path d="M125.3 653.07l2.69-1.71l-2.53-1.17l-2.69 1.71z" fill="#f9d429"/><path d="M130.52 652.53l2.69-1.61l-2.53-1.17l-2.69 1.61z" fill="#f8d628"/><path d="M135.74 652.09l2.69-1.53l-2.53-1.17l-2.69 1.53z" fill="#f8d727"/><path d="M140.96 651.73l2.69-1.48l-2.53-1.17l-2.69 1.48z" fill="#f7d826"/><path d="M146.18 651.43l2.69-1.43l-2.53-1.17l-2.69 1.43z" fill="#f7d925"/><path d="M151.4 651.18l2.69-1.39l-2.53-1.18l-2.69 1.39z" fill="#f7da25"/><path d="M156.63 650.96l2.69-1.36l-2.53-1.18l-2.69 1.36z" fill="#f7da24"/><path d="M161.85 650.78l2.69-1.34l-2.53-1.18l-2.69 1.34z" fill="#f6db24"/><path d="M167.07 650.63l2.69-1.32l-2.53-1.18l-2.69 1.32z" fill="#f6dc23"/><path d="M172.29 650.5l2.69-1.3l-2.53-1.18l-2.69 1.3z" fill="#f6dc23"/><path d="M177.51 650.39l2.69-1.28l-2.53-1.19l-2.69 1.28z" fill="#f6dc22"/><path d="M182.73 650.3l2.69-1.27l-2.53-1.19l-2.69 1.27z" fill="#f6dd22"/><path d="M187.95 650.22l2.69-1.25l-2.53-1.19l-2.69 1.25z" fill="#f6dd22"/><path d="M193.18 650.17l2.69-1.24l-2.53-1.2l-2.69 1.24z" fill="#f6dd22"/><path d="M198.4 650.12l2.69-1.23l-2.53-1.2l-2.69 1.23z" fill="#f6de22"/><path d="M203.62 650.09l2.69-1.22l-2.53-1.2l-2.69 1.22z" fill="#f5de21"/><path d="M208.84 650.07l2.69-1.21l-2.53-1.21l-2.69 1.21z" fill="#f5de21"/><path d="M214.06 650.07l2.69-1.21l-2.53-1.21l-2.69 1.21z" fill="#f5de21"/><path d="M219.28 650.08l2.69-1.2l-2.53-1.21l-2.69 1.2z" fill="#f5de21"/><path d="M224.5 650.09l2.69-1.19l-2.53-1.22l-2.69 1.19z" fill="#f5de21"/><path d="M229.73 650.12l2.69-1.19l-2.53-1.22l-2.69 1.19z" fill="#f5de21"/><path d="M234.95 650.16l2.69-1.18l-2.53-1.23l-2.69 1.18z" fill="#f5df21"/><path d="M240.17 650.21l2.69-1.18l-2.53-1.23l-2.69 1.18z" fill="#f5de21"/><path d="M245.39 650.27l2.69-1.17l-2.53-1.24l-2.69 1.17z" fill="#f5de21"/><path d="M250.61 650.35l2.69-1.17l-2.53-1.25l-2.69 1.17z" fill="#f5de21"/><path d="M255.83 650.43l2.69-1.17l-2.53-1.25l-2.69 1.17z" fill="#f5de21"/><path d="M261.06 650.53l2.69-1.16l-2.53-1.26l-2.69 1.16z" fill="#f5de21"/><path d="M266.28 650.64l2.69-1.16l-2.53-1.27l-2.69 1.16z" fill="#f5de21"/><path d="M271.5 650.76l2.69-1.16l-2.53-1.28l-2.69 1.15z" fill="#f6de22"/><path d="M276.72 650.89l2.69-1.15l-2.53-1.29l-2.69 1.15z" fill="#f6dd22"/><path d="M281.94 651.05l2.69-1.15l-2.53-1.3l-2.69 1.15z" fill="#f6dd22"/><path d="M287.16 651.21l2.69-1.15l-2.53-1.32l-2.69 1.15z" fill="#f6dd22"/><path d="M292.38 651.4l2.69-1.14l-2.53-1.33l-2.69 1.14z" fill="#f6dc23"/><path d="M297.61 651.61l2.69-1.14l-2.53-1.35l-2.69 1.14z" fill="#f6dc23"/><path d="M302.83 651.84l2.69-1.14l-2.53-1.37l-2.69 1.14z" fill="#f6db23"/><path d="M308.05 652.09l2.69-1.14l-2.53-1.4l-2.69 1.14z" fill="#f6db24"/><path d="M313.27 652.38l2.69-1.14l-2.53-1.43l-2.69 1.14z" fill="#f7da24"/><path d="M318.49 652.71l2.69-1.13l-2.53-1.46l-2.69 1.13z" fill="#f7d925"/><path d="M323.71 653.08l2.69-1.13l-2.53-1.51l-2.69 1.13z" fill="#f7d825"/><path d="M328.93 653.51l2.69-1.13l-2.53-1.56l-2.69 1.13z" fill="#f8d726"/><path d="M334.16 654.01l2.69-1.13l-2.53-1.63l-2.69 1.13z" fill="#f8d627"/><path d="M339.38 654.62l2.69-1.13l-2.53-1.73l-2.69 1.13z" fill="#f9d528"/><path d="M344.6 655.37l2.69-1.13l-2.53-1.88l-2.69 1.13z" fill="#fad32a"/><path d="M349.82 656.35l2.69-1.13l-2.53-2.11l-2.69 1.13z" fill="#fbd12c"/><path d="M355.04 657.75l2.69-1.13l-2.53-2.52l-2.69 1.13z" fill="#fccd2e"/><path d="M106.94 659.64l2.69-3.59l-2.53-1.17l-2.69 3.59z" fill="#fec635"/><path d="M112.16 657.22l2.69-2.53l-2.53-1.17l-2.69 2.53z" fill="#fdcc2f"/><path d="M117.39 655.86l2.69-2.1l-2.53-1.17l-2.69 2.1z" fill="#fbcf2c"/><path d="M122.61 654.93l2.69-1.86l-2.53-1.17l-2.69 1.86z" fill="#fad22a"/><path d="M127.83 654.24l2.69-1.71l-2.53-1.17l-2.69 1.71z" fill="#f9d429"/><path d="M133.05 653.7l2.69-1.61l-2.53-1.17l-2.69 1.61z" fill="#f9d528"/><path d="M138.27 653.26l2.69-1.53l-2.53-1.17l-2.69 1.53z" fill="#f8d727"/><path d="M143.49 652.91l2.69-1.48l-2.53-1.18l-2.69 1.48z" fill="#f8d826"/><path d="M148.71 652.61l2.69-1.43l-2.53-1.18l-2.69 1.43z" fill="#f7d925"/><path d="M153.94 652.36l2.69-1.39l-2.53-1.18l-2.69 1.39z" fill="#f7d925"/><path d="M159.16 652.14l2.69-1.36l-2.53-1.18l-2.69 1.36z" fill="#f7da24"/><path d="M164.38 651.96l2.69-1.34l-2.53-1.18l-2.69 1.34z" fill="#f6db24"/><path d="M169.6 651.81l2.69-1.32l-2.53-1.19l-2.69 1.32z" fill="#f6db23"/><path d="M174.82 651.68l2.69-1.3l-2.53-1.19l-2.69 1.3z" fill="#f6dc23"/><path d="M180.04 651.58l2.69-1.28l-2.53-1.19l-2.69 1.28z" fill="#f6dc23"/><path d="M185.26 651.49l2.69-1.27l-2.53-1.19l-2.69 1.27z" fill="#f6dd22"/><path d="M190.49 651.42l2.69-1.25l-2.53-1.2l-2.69 1.25z" fill="#f6dd22"/><path d="M195.71 651.36l2.69-1.24l-2.53-1.2l-2.69 1.24z" fill="#f6dd22"/><path d="M200.93 651.32l2.69-1.23l-2.53-1.2l-2.69 1.23z" fill="#f6dd22"/><path d="M206.15 651.3l2.69-1.22l-2.53-1.21l-2.69 1.22z" fill="#f6de22"/><path d="M211.37 651.28l2.69-1.22l-2.53-1.21l-2.69 1.21z" fill="#f6de22"/><path d="M216.59 651.28l2.69-1.21l-2.53-1.21l-2.69 1.21z" fill="#f5de21"/><path d="M221.82 651.29l2.69-1.2l-2.53-1.22l-2.69 1.2z" fill="#f5de21"/><path d="M227.04 651.32l2.69-1.19l-2.53-1.22l-2.69 1.19z" fill="#f5de21"/><path d="M232.26 651.35l2.69-1.19l-2.53-1.23l-2.69 1.19z" fill="#f5de21"/><path d="M237.48 651.4l2.69-1.18l-2.53-1.23l-2.69 1.18z" fill="#f5de21"/><path d="M242.7 651.45l2.69-1.18l-2.53-1.24l-2.69 1.18z" fill="#f5de21"/><path d="M247.92 651.52l2.69-1.17l-2.53-1.25l-2.69 1.17z" fill="#f5de21"/><path d="M253.14 651.6l2.69-1.17l-2.53-1.25l-2.69 1.17z" fill="#f6de21"/><path d="M258.37 651.69l2.69-1.17l-2.53-1.26l-2.69 1.17z" fill="#f6de22"/><path d="M263.59 651.8l2.69-1.16l-2.53-1.27l-2.69 1.16z" fill="#f6de22"/><path d="M268.81 651.92l2.69-1.16l-2.53-1.28l-2.69 1.16z" fill="#f6dd22"/><path d="M274.03 652.05l2.69-1.16l-2.53-1.29l-2.69 1.16z" fill="#f6dd22"/><path d="M279.25 652.2l2.69-1.15l-2.53-1.3l-2.69 1.15z" fill="#f6dd22"/><path d="M284.47 652.36l2.69-1.15l-2.53-1.32l-2.69 1.15z" fill="#f6dc23"/><path d="M289.69 652.55l2.69-1.15l-2.53-1.33l-2.69 1.15z" fill="#f6dc23"/><path d="M294.92 652.75l2.69-1.14l-2.53-1.35l-2.69 1.14z" fill="#f6dc23"/><path d="M300.14 652.98l2.69-1.14l-2.53-1.37l-2.69 1.14z" fill="#f6db23"/><path d="M305.36 653.23l2.69-1.14l-2.53-1.4l-2.69 1.14z" fill="#f7db24"/><path d="M310.58 653.52l2.69-1.14l-2.53-1.43l-2.69 1.14z" fill="#f7da24"/><path d="M315.8 653.84l2.69-1.14l-2.53-1.46l-2.69 1.14z" fill="#f7d925"/><path d="M321.02 654.21l2.69-1.13l-2.53-1.51l-2.69 1.13z" fill="#f7d826"/><path d="M326.24 654.64l2.69-1.13l-2.53-1.56l-2.69 1.13z" fill="#f8d726"/><path d="M331.47 655.15l2.69-1.13l-2.53-1.63l-2.69 1.13z" fill="#f8d627"/><path d="M336.69 655.75l2.69-1.13l-2.53-1.73l-2.69 1.13z" fill="#f9d528"/><path d="M341.91 656.5l2.69-1.13l-2.53-1.88l-2.69 1.13z" fill="#fad32a"/><path d="M347.13 657.48l2.69-1.13l-2.53-2.11l-2.69 1.13z" fill="#fbd02c"/><path d="M352.35 658.88l2.69-1.13l-2.53-2.53l-2.69 1.13z" fill="#fccd2e"/><path d="M357.57 661.3l2.69-1.13l-2.53-3.55l-2.69 1.13z" fill="#fec734"/><path d="M109.47 660.82l2.69-3.59l-2.53-1.17l-2.69 3.59z" fill="#fec535"/><path d="M114.7 658.39l2.69-2.53l-2.53-1.17l-2.69 2.53z" fill="#fdcc2f"/><path d="M119.92 657.03l2.69-2.1l-2.53-1.17l-2.69 2.1z" fill="#fbcf2d"/><path d="M125.14 656.1l2.69-1.86l-2.53-1.17l-2.69 1.86z" fill="#fad22b"/><path d="M130.36 655.41l2.69-1.71l-2.53-1.17l-2.69 1.71z" fill="#f9d429"/><path d="M135.58 654.88l2.69-1.61l-2.53-1.17l-2.69 1.61z" fill="#f9d528"/><path d="M140.8 654.44l2.69-1.53l-2.53-1.18l-2.69 1.53z" fill="#f8d627"/><path d="M146.02 654.08l2.69-1.48l-2.53-1.18l-2.69 1.48z" fill="#f8d726"/><path d="M151.25 653.79l2.69-1.43l-2.53-1.18l-2.69 1.43z" fill="#f7d826"/><path d="M156.47 653.54l2.69-1.39l-2.53-1.18l-2.69 1.39z" fill="#f7d925"/><path d="M161.69 653.33l2.69-1.36l-2.53-1.18l-2.69 1.36z" fill="#f7da24"/><path d="M166.91 653.15l2.69-1.34l-2.53-1.19l-2.69 1.34z" fill="#f7da24"/><path d="M172.13 653l2.69-1.32l-2.53-1.19l-2.69 1.32z" fill="#f6db24"/><path d="M177.35 652.88l2.69-1.3l-2.53-1.19l-2.69 1.3z" fill="#f6db23"/><path d="M182.57 652.77l2.69-1.28l-2.53-1.19l-2.69 1.28z" fill="#f6dc23"/><path d="M187.8 652.69l2.69-1.27l-2.53-1.2l-2.69 1.27z" fill="#f6dc23"/><path d="M193.02 652.62l2.69-1.25l-2.53-1.2l-2.69 1.25z" fill="#f6dd22"/><path d="M198.24 652.57l2.69-1.24l-2.53-1.2l-2.69 1.24z" fill="#f6dd22"/><path d="M203.46 652.53l2.69-1.23l-2.53-1.21l-2.69 1.23z" fill="#f6dd22"/><path d="M208.68 652.51l2.69-1.22l-2.53-1.21l-2.69 1.22z" fill="#f6dd22"/><path d="M213.9 652.5l2.69-1.22l-2.53-1.21l-2.69 1.22z" fill="#f6dd22"/><path d="M219.13 652.5l2.69-1.21l-2.53-1.22l-2.69 1.21z" fill="#f6dd22"/><path d="M224.35 652.52l2.69-1.2l-2.53-1.22l-2.69 1.2z" fill="#f6de22"/><path d="M229.57 652.55l2.69-1.19l-2.53-1.23l-2.69 1.19z" fill="#f6de22"/><path d="M234.79 652.58l2.69-1.19l-2.53-1.23l-2.69 1.19z" fill="#f6de22"/><path d="M240.01 652.64l2.69-1.18l-2.53-1.24l-2.69 1.18z" fill="#f6de22"/><path d="M245.23 652.7l2.69-1.18l-2.53-1.25l-2.69 1.18z" fill="#f6de22"/><path d="M250.45 652.77l2.69-1.17l-2.53-1.25l-2.69 1.17z" fill="#f6dd22"/><path d="M255.68 652.86l2.69-1.17l-2.53-1.26l-2.69 1.17z" fill="#f6dd22"/><path d="M260.9 652.96l2.69-1.17l-2.53-1.27l-2.69 1.17z" fill="#f6dd22"/><path d="M266.12 653.08l2.69-1.16l-2.53-1.28l-2.69 1.16z" fill="#f6dd22"/><path d="M271.34 653.21l2.69-1.16l-2.53-1.29l-2.69 1.16z" fill="#f6dd22"/><path d="M276.56 653.35l2.69-1.16l-2.53-1.3l-2.69 1.16z" fill="#f6dc22"/><path d="M281.78 653.52l2.69-1.15l-2.53-1.32l-2.69 1.15z" fill="#f6dc23"/><path d="M287 653.7l2.69-1.15l-2.53-1.33l-2.69 1.15z" fill="#f6dc23"/><path d="M292.23 653.9l2.69-1.15l-2.53-1.35l-2.69 1.15z" fill="#f6db23"/><path d="M297.45 654.12l2.69-1.14l-2.53-1.37l-2.69 1.14z" fill="#f6db24"/><path d="M302.67 654.38l2.69-1.14l-2.53-1.4l-2.69 1.14z" fill="#f7da24"/><path d="M307.89 654.66l2.69-1.14l-2.53-1.43l-2.69 1.14z" fill="#f7da25"/><path d="M313.11 654.98l2.69-1.14l-2.53-1.46l-2.69 1.14z" fill="#f7d925"/><path d="M318.33 655.35l2.69-1.14l-2.53-1.51l-2.69 1.14z" fill="#f7d826"/><path d="M323.55 655.78l2.69-1.14l-2.53-1.56l-2.69 1.13z" fill="#f8d727"/><path d="M328.78 656.28l2.69-1.13l-2.53-1.64l-2.69 1.13z" fill="#f8d628"/><path d="M334 656.88l2.69-1.13l-2.53-1.74l-2.69 1.13z" fill="#f9d429"/><path d="M339.22 657.63l2.69-1.13l-2.53-1.88l-2.69 1.13z" fill="#fad22a"/><path d="M344.44 658.61l2.69-1.13l-2.53-2.11l-2.69 1.13z" fill="#fbd02c"/><path d="M349.66 660.01l2.69-1.13l-2.53-2.53l-2.69 1.13z" fill="#fccd2f"/><path d="M354.88 662.43l2.69-1.13l-2.53-3.55l-2.69 1.13z" fill="#fec734"/><path d="M112.01 661.99l2.69-3.6l-2.53-1.17l-2.69 3.59z" fill="#fec535"/><path d="M117.23 659.57l2.69-2.54l-2.53-1.17l-2.69 2.53z" fill="#fdcb30"/><path d="M122.45 658.21l2.69-2.1l-2.53-1.17l-2.69 2.1z" fill="#fbcf2d"/><path d="M127.67 657.28l2.69-1.87l-2.53-1.17l-2.69 1.86z" fill="#fad12b"/><path d="M132.89 656.59l2.69-1.71l-2.53-1.18l-2.69 1.71z" fill="#f9d329"/><path d="M138.11 656.05l2.69-1.61l-2.53-1.18l-2.69 1.61z" fill="#f9d528"/><path d="M143.33 655.62l2.69-1.54l-2.53-1.18l-2.69 1.53z" fill="#f8d627"/><path d="M148.56 655.27l2.69-1.48l-2.53-1.18l-2.69 1.48z" fill="#f8d726"/><path d="M153.78 654.97l2.69-1.43l-2.53-1.18l-2.69 1.43z" fill="#f7d826"/><path d="M159 654.72l2.69-1.39l-2.53-1.18l-2.69 1.39z" fill="#f7d925"/><path d="M164.22 654.51l2.69-1.36l-2.53-1.19l-2.69 1.36z" fill="#f7da25"/><path d="M169.44 654.34l2.69-1.34l-2.53-1.19l-2.69 1.34z" fill="#f7da24"/><path d="M174.66 654.19l2.69-1.32l-2.53-1.19l-2.69 1.32z" fill="#f7db24"/><path d="M179.88 654.07l2.69-1.3l-2.53-1.19l-2.69 1.3z" fill="#f6db23"/><path d="M185.11 653.97l2.69-1.28l-2.53-1.2l-2.69 1.28z" fill="#f6dc23"/><path d="M190.33 653.89l2.69-1.27l-2.53-1.2l-2.69 1.27z" fill="#f6dc23"/><path d="M195.55 653.82l2.69-1.25l-2.53-1.2l-2.69 1.25z" fill="#f6dc23"/><path d="M200.77 653.77l2.69-1.24l-2.53-1.21l-2.69 1.24z" fill="#f6dc23"/><path d="M205.99 653.74l2.69-1.23l-2.53-1.21l-2.69 1.23z" fill="#f6dd22"/><path d="M211.21 653.72l2.69-1.22l-2.53-1.21l-2.69 1.22z" fill="#f6dd22"/><path d="M216.44 653.72l2.69-1.22l-2.53-1.22l-2.69 1.22z" fill="#f6dd22"/><path d="M221.66 653.73l2.69-1.21l-2.53-1.22l-2.69 1.21z" fill="#f6dd22"/><path d="M226.88 653.75l2.69-1.2l-2.53-1.23l-2.69 1.2z" fill="#f6dd22"/><path d="M232.1 653.78l2.69-1.2l-2.53-1.23l-2.69 1.19z" fill="#f6dd22"/><path d="M237.32 653.83l2.69-1.19l-2.53-1.24l-2.69 1.19z" fill="#f6dd22"/><path d="M242.54 653.88l2.69-1.18l-2.53-1.25l-2.69 1.18z" fill="#f6dd22"/><path d="M247.76 653.95l2.69-1.18l-2.53-1.25l-2.69 1.18z" fill="#f6dd22"/><path d="M252.99 654.04l2.69-1.17l-2.53-1.26l-2.69 1.17z" fill="#f6dd22"/><path d="M258.21 654.13l2.69-1.17l-2.53-1.27l-2.69 1.17z" fill="#f6dd22"/><path d="M263.43 654.25l2.69-1.17l-2.53-1.28l-2.69 1.17z" fill="#f6dd22"/><path d="M268.65 654.37l2.69-1.16l-2.53-1.29l-2.69 1.16z" fill="#f6dc23"/><path d="M273.87 654.51l2.69-1.16l-2.53-1.3l-2.69 1.16z" fill="#f6dc23"/><path d="M279.09 654.67l2.69-1.16l-2.53-1.32l-2.69 1.16z" fill="#f6dc23"/><path d="M284.31 654.85l2.69-1.15l-2.53-1.33l-2.69 1.15z" fill="#f6db23"/><path d="M289.54 655.05l2.69-1.15l-2.53-1.35l-2.69 1.15z" fill="#f6db24"/><path d="M294.76 655.27l2.69-1.15l-2.53-1.37l-2.69 1.15z" fill="#f7db24"/><path d="M299.98 655.52l2.69-1.15l-2.53-1.4l-2.69 1.14z" fill="#f7da24"/><path d="M305.2 655.8l2.69-1.14l-2.53-1.43l-2.69 1.14z" fill="#f7d925"/><path d="M310.42 656.12l2.69-1.14l-2.53-1.46l-2.69 1.14z" fill="#f7d925"/><path d="M315.64 656.49l2.69-1.14l-2.53-1.51l-2.69 1.14z" fill="#f8d826"/><path d="M320.87 656.92l2.69-1.14l-2.53-1.56l-2.69 1.14z" fill="#f8d727"/><path d="M326.09 657.41l2.69-1.14l-2.53-1.64l-2.69 1.14z" fill="#f8d528"/><path d="M331.31 658.02l2.69-1.13l-2.53-1.74l-2.69 1.13z" fill="#f9d429"/><path d="M336.53 658.76l2.69-1.13l-2.53-1.88l-2.69 1.13z" fill="#fad22a"/><path d="M341.75 659.74l2.69-1.13l-2.53-2.11l-2.69 1.13z" fill="#fbd02c"/><path d="M346.97 661.14l2.69-1.13l-2.53-2.53l-2.69 1.13z" fill="#fccc2f"/><path d="M352.19 663.57l2.69-1.13l-2.53-3.55l-2.69 1.13z" fill="#fec634"/><path d="M114.54 663.17l2.69-3.6l-2.53-1.17l-2.69 3.6z" fill="#fec536"/><path d="M119.76 660.75l2.69-2.54l-2.53-1.17l-2.69 2.54z" fill="#fdcb30"/><path d="M124.98 659.38l2.69-2.1l-2.53-1.18l-2.69 2.1z" fill="#fbcf2d"/><path d="M130.2 658.46l2.69-1.87l-2.53-1.18l-2.69 1.87z" fill="#fad12b"/><path d="M135.42 657.77l2.69-1.72l-2.53-1.18l-2.69 1.71z" fill="#fad329"/><path d="M140.64 657.23l2.69-1.61l-2.53-1.18l-2.69 1.61z" fill="#f9d528"/><path d="M145.87 656.8l2.69-1.54l-2.53-1.18l-2.69 1.54z" fill="#f8d627"/><path d="M151.09 656.45l2.69-1.48l-2.53-1.18l-2.69 1.48z" fill="#f8d727"/><path d="M156.31 656.16l2.69-1.43l-2.53-1.18l-2.69 1.43z" fill="#f7d826"/><path d="M161.53 655.91l2.69-1.4l-2.53-1.19l-2.69 1.39z" fill="#f7d925"/><path d="M166.75 655.7l2.69-1.36l-2.53-1.19l-2.69 1.36z" fill="#f7d925"/><path d="M171.97 655.53l2.69-1.34l-2.53-1.19l-2.69 1.34z" fill="#f7da24"/><path d="M177.19 655.39l2.69-1.32l-2.53-1.19l-2.69 1.32z" fill="#f7da24"/><path d="M182.42 655.27l2.69-1.3l-2.53-1.2l-2.69 1.3z" fill="#f6db24"/><path d="M187.64 655.17l2.69-1.28l-2.53-1.2l-2.69 1.28z" fill="#f6db23"/><path d="M192.86 655.09l2.69-1.27l-2.53-1.2l-2.69 1.27z" fill="#f6dc23"/><path d="M198.08 655.03l2.69-1.26l-2.53-1.21l-2.69 1.25z" fill="#f6dc23"/><path d="M203.3 654.99l2.69-1.24l-2.53-1.21l-2.69 1.24z" fill="#f6dc23"/><path d="M208.52 654.96l2.69-1.23l-2.53-1.21l-2.69 1.23z" fill="#f6dc23"/><path d="M213.75 654.94l2.69-1.22l-2.53-1.22l-2.69 1.22z" fill="#f6dc22"/><path d="M218.97 654.94l2.69-1.22l-2.53-1.22l-2.69 1.22z" fill="#f6dd22"/><path d="M224.19 654.96l2.69-1.21l-2.53-1.23l-2.69 1.21z" fill="#f6dd22"/><path d="M229.41 654.98l2.69-1.2l-2.53-1.23l-2.69 1.2z" fill="#f6dd22"/><path d="M234.63 655.02l2.69-1.2l-2.53-1.24l-2.69 1.2z" fill="#f6dd22"/><path d="M239.85 655.07l2.69-1.19l-2.53-1.25l-2.69 1.19z" fill="#f6dd22"/><path d="M245.07 655.14l2.69-1.18l-2.53-1.25l-2.69 1.18z" fill="#f6dd22"/><path d="M250.3 655.22l2.69-1.18l-2.53-1.26l-2.69 1.18z" fill="#f6dd22"/><path d="M255.52 655.31l2.69-1.18l-2.53-1.27l-2.69 1.17z" fill="#f6dc23"/><path d="M260.74 655.42l2.69-1.17l-2.53-1.28l-2.69 1.17z" fill="#f6dc23"/><path d="M265.96 655.54l2.69-1.17l-2.53-1.29l-2.69 1.17z" fill="#f6dc23"/><path d="M271.18 655.68l2.69-1.16l-2.53-1.3l-2.69 1.16z" fill="#f6dc23"/><path d="M276.4 655.83l2.69-1.16l-2.53-1.32l-2.69 1.16z" fill="#f6db23"/><path d="M281.62 656.01l2.69-1.16l-2.53-1.33l-2.69 1.16z" fill="#f6db23"/><path d="M286.85 656.2l2.69-1.15l-2.53-1.35l-2.69 1.15z" fill="#f7db24"/><path d="M292.07 656.42l2.69-1.15l-2.53-1.37l-2.69 1.15z" fill="#f7da24"/><path d="M297.29 656.67l2.69-1.15l-2.53-1.4l-2.69 1.15z" fill="#f7da25"/><path d="M302.51 656.95l2.69-1.15l-2.53-1.43l-2.69 1.15z" fill="#f7d925"/><path d="M307.73 657.27l2.69-1.14l-2.53-1.46l-2.69 1.14z" fill="#f7d826"/><path d="M312.95 657.63l2.69-1.14l-2.53-1.51l-2.69 1.14z" fill="#f8d726"/><path d="M318.18 658.06l2.69-1.14l-2.53-1.56l-2.69 1.14z" fill="#f8d627"/><path d="M323.4 658.55l2.69-1.14l-2.53-1.64l-2.69 1.14z" fill="#f9d528"/><path d="M328.62 659.15l2.69-1.14l-2.53-1.74l-2.69 1.14z" fill="#f9d429"/><path d="M333.84 659.9l2.69-1.14l-2.53-1.88l-2.69 1.13z" fill="#fad22a"/><path d="M339.06 660.88l2.69-1.13l-2.53-2.11l-2.69 1.13z" fill="#fbd02c"/><path d="M344.28 662.28l2.69-1.13l-2.53-2.53l-2.69 1.13z" fill="#fdcc2f"/><path d="M349.5 664.7l2.69-1.14l-2.53-3.56l-2.69 1.13z" fill="#fec634"/><path d="M117.07 664.35l2.69-3.6l-2.53-1.18l-2.69 3.6z" fill="#ffc536"/><path d="M122.29 661.92l2.69-2.54l-2.53-1.18l-2.69 2.54z" fill="#fdcb30"/><path d="M127.51 660.56l2.69-2.11l-2.53-1.18l-2.69 2.1z" fill="#fccf2d"/><path d="M132.73 659.64l2.69-1.87l-2.53-1.18l-2.69 1.87z" fill="#fad12b"/><path d="M137.95 658.95l2.69-1.72l-2.53-1.18l-2.69 1.72z" fill="#fad32a"/><path d="M143.18 658.41l2.69-1.61l-2.53-1.18l-2.69 1.61z" fill="#f9d429"/><path d="M148.4 657.99l2.69-1.54l-2.53-1.18l-2.69 1.54z" fill="#f8d628"/><path d="M153.62 657.63l2.69-1.48l-2.53-1.18l-2.69 1.48z" fill="#f8d727"/><path d="M158.84 657.34l2.69-1.43l-2.53-1.19l-2.69 1.43z" fill="#f8d826"/><path d="M164.06 657.1l2.69-1.4l-2.53-1.19l-2.69 1.4z" fill="#f7d826"/><path d="M169.28 656.9l2.69-1.37l-2.53-1.19l-2.69 1.36z" fill="#f7d925"/><path d="M174.51 656.73l2.69-1.34l-2.53-1.19l-2.69 1.34z" fill="#f7da25"/><path d="M179.73 656.58l2.69-1.32l-2.53-1.2l-2.69 1.32z" fill="#f7da24"/><path d="M184.95 656.47l2.69-1.3l-2.53-1.2l-2.69 1.3z" fill="#f7db24"/><path d="M190.17 656.37l2.69-1.28l-2.53-1.2l-2.69 1.28z" fill="#f6db24"/><path d="M195.39 656.3l2.69-1.27l-2.53-1.21l-2.69 1.27z" fill="#f6db23"/><path d="M200.61 656.24l2.69-1.26l-2.53-1.21l-2.69 1.26z" fill="#f6dc23"/><path d="M205.83 656.2l2.69-1.24l-2.53-1.22l-2.69 1.24z" fill="#f6dc23"/><path d="M211.06 656.18l2.69-1.23l-2.53-1.22l-2.69 1.23z" fill="#f6dc23"/><path d="M216.28 656.17l2.69-1.22l-2.53-1.22l-2.69 1.22z" fill="#f6dc23"/><path d="M221.5 656.17l2.69-1.22l-2.53-1.23l-2.69 1.22z" fill="#f6dc23"/><path d="M226.72 656.19l2.69-1.21l-2.53-1.24l-2.69 1.21z" fill="#f6dc23"/><path d="M231.94 656.22l2.69-1.2l-2.53-1.24l-2.69 1.2z" fill="#f6dc23"/><path d="M237.16 656.27l2.69-1.2l-2.53-1.25l-2.69 1.2z" fill="#f6dc23"/><path d="M242.38 656.33l2.69-1.19l-2.53-1.26l-2.69 1.19z" fill="#f6dc23"/><path d="M247.61 656.4l2.69-1.18l-2.53-1.26l-2.69 1.18z" fill="#f6dc23"/><path d="M252.83 656.49l2.69-1.18l-2.53-1.27l-2.69 1.18z" fill="#f6dc23"/><path d="M258.05 656.59l2.69-1.18l-2.53-1.28l-2.69 1.18z" fill="#f6dc23"/><path d="M263.27 656.71l2.69-1.17l-2.53-1.29l-2.69 1.17z" fill="#f6dc23"/><path d="M268.49 656.84l2.69-1.17l-2.53-1.3l-2.69 1.17z" fill="#f6db23"/><path d="M273.71 657l2.69-1.16l-2.53-1.32l-2.69 1.16z" fill="#f6db23"/><path d="M278.93 657.17l2.69-1.16l-2.53-1.33l-2.69 1.16z" fill="#f6db24"/><path d="M284.16 657.36l2.69-1.16l-2.53-1.35l-2.69 1.16z" fill="#f7da24"/><path d="M289.38 657.58l2.69-1.15l-2.53-1.37l-2.69 1.15z" fill="#f7da24"/><path d="M294.6 657.82l2.69-1.15l-2.53-1.4l-2.69 1.15z" fill="#f7d925"/><path d="M299.82 658.1l2.69-1.15l-2.53-1.43l-2.69 1.15z" fill="#f7d925"/><path d="M305.04 658.41l2.69-1.15l-2.53-1.46l-2.69 1.15z" fill="#f7d826"/><path d="M310.26 658.78l2.69-1.14l-2.53-1.51l-2.69 1.14z" fill="#f8d726"/><path d="M315.49 659.2l2.69-1.14l-2.53-1.56l-2.69 1.14z" fill="#f8d627"/><path d="M320.71 659.69l2.69-1.14l-2.53-1.64l-2.69 1.14z" fill="#f9d528"/><path d="M325.93 660.29l2.69-1.14l-2.53-1.74l-2.69 1.14z" fill="#f9d429"/><path d="M331.15 661.04l2.69-1.14l-2.53-1.88l-2.69 1.14z" fill="#fad22b"/><path d="M336.37 662.01l2.69-1.14l-2.53-2.11l-2.69 1.14z" fill="#fbcf2c"/><path d="M341.59 663.41l2.69-1.14l-2.53-2.53l-2.69 1.13z" fill="#fdcc2f"/><path d="M346.81 665.84l2.69-1.14l-2.53-3.56l-2.69 1.13z" fill="#fec635"/><path d="M119.6 665.53l2.69-3.61l-2.53-1.18l-2.69 3.6z" fill="#ffc436"/><path d="M124.82 663.1l2.69-2.54l-2.53-1.18l-2.69 2.54z" fill="#fdcb30"/><path d="M130.04 661.74l2.69-2.11l-2.53-1.18l-2.69 2.11z" fill="#fcce2d"/><path d="M135.26 660.82l2.69-1.87l-2.53-1.18l-2.69 1.87z" fill="#fbd12b"/><path d="M140.49 660.13l2.69-1.72l-2.53-1.18l-2.69 1.72z" fill="#fad32a"/><path d="M145.71 659.6l2.69-1.61l-2.53-1.18l-2.69 1.61z" fill="#f9d429"/><path d="M150.93 659.17l2.69-1.54l-2.53-1.19l-2.69 1.54z" fill="#f9d528"/><path d="M156.15 658.82l2.69-1.48l-2.53-1.19l-2.69 1.48z" fill="#f8d627"/><path d="M161.37 658.53l2.69-1.43l-2.53-1.19l-2.69 1.43z" fill="#f8d726"/><path d="M166.59 658.29l2.69-1.4l-2.53-1.19l-2.69 1.4z" fill="#f7d826"/><path d="M171.82 658.09l2.69-1.37l-2.53-1.2l-2.69 1.37z" fill="#f7d925"/><path d="M177.04 657.92l2.69-1.34l-2.53-1.2l-2.69 1.34z" fill="#f7d925"/><path d="M182.26 657.79l2.69-1.32l-2.53-1.2l-2.69 1.32z" fill="#f7da25"/><path d="M187.48 657.67l2.69-1.3l-2.53-1.2l-2.69 1.3z" fill="#f7da24"/><path d="M192.7 657.58l2.69-1.28l-2.53-1.21l-2.69 1.28z" fill="#f7db24"/><path d="M197.92 657.51l2.69-1.27l-2.53-1.21l-2.69 1.27z" fill="#f6db24"/><path d="M203.14 657.46l2.69-1.26l-2.53-1.22l-2.69 1.26z" fill="#f6db23"/><path d="M208.37 657.42l2.69-1.24l-2.53-1.22l-2.69 1.24z" fill="#f6db23"/><path d="M213.59 657.4l2.69-1.23l-2.53-1.22l-2.69 1.23z" fill="#f6dc23"/><path d="M218.81 657.4l2.69-1.23l-2.53-1.23l-2.69 1.22z" fill="#f6dc23"/><path d="M224.03 657.41l2.69-1.22l-2.53-1.24l-2.69 1.22z" fill="#f6dc23"/><path d="M229.25 657.43l2.69-1.21l-2.53-1.24l-2.69 1.21z" fill="#f6dc23"/><path d="M234.47 657.47l2.69-1.2l-2.53-1.25l-2.69 1.2z" fill="#f6dc23"/><path d="M239.69 657.53l2.69-1.2l-2.53-1.26l-2.69 1.2z" fill="#f6dc23"/><path d="M244.92 657.59l2.69-1.19l-2.53-1.26l-2.69 1.19z" fill="#f6dc23"/><path d="M250.14 657.67l2.69-1.19l-2.53-1.27l-2.69 1.18z" fill="#f6dc23"/><path d="M255.36 657.77l2.69-1.18l-2.53-1.28l-2.69 1.18z" fill="#f6db23"/><path d="M260.58 657.88l2.69-1.18l-2.53-1.29l-2.69 1.18z" fill="#f6db23"/><path d="M265.8 658.01l2.69-1.17l-2.53-1.31l-2.69 1.17z" fill="#f6db24"/><path d="M271.02 658.16l2.69-1.17l-2.53-1.32l-2.69 1.17z" fill="#f6db24"/><path d="M276.24 658.33l2.69-1.16l-2.53-1.34l-2.69 1.16z" fill="#f7da24"/><path d="M281.47 658.52l2.69-1.16l-2.53-1.35l-2.69 1.16z" fill="#f7da24"/><path d="M286.69 658.73l2.69-1.16l-2.53-1.37l-2.69 1.16z" fill="#f7da25"/><path d="M291.91 658.98l2.69-1.15l-2.53-1.4l-2.69 1.15z" fill="#f7d925"/><path d="M297.13 659.25l2.69-1.15l-2.53-1.43l-2.69 1.15z" fill="#f7d826"/><path d="M302.35 659.56l2.69-1.15l-2.53-1.46l-2.69 1.15z" fill="#f8d826"/><path d="M307.57 659.92l2.69-1.15l-2.53-1.51l-2.69 1.15z" fill="#f8d727"/><path d="M312.8 660.34l2.69-1.15l-2.53-1.56l-2.69 1.14z" fill="#f8d627"/><path d="M318.02 660.84l2.69-1.14l-2.53-1.64l-2.69 1.14z" fill="#f9d528"/><path d="M323.24 661.43l2.69-1.14l-2.53-1.74l-2.69 1.14z" fill="#f9d329"/><path d="M328.46 662.18l2.69-1.14l-2.53-1.88l-2.69 1.14z" fill="#fad12b"/><path d="M333.68 663.15l2.69-1.14l-2.53-2.12l-2.69 1.14z" fill="#fbcf2d"/><path d="M338.9 664.55l2.69-1.14l-2.53-2.54l-2.69 1.14z" fill="#fdcc2f"/><path d="M344.12 666.98l2.69-1.14l-2.53-3.56l-2.69 1.14z" fill="#fec635"/><path d="M122.13 666.71l2.69-3.61l-2.53-1.18l-2.69 3.61z" fill="#ffc436"/><path d="M127.35 664.29l2.69-2.54l-2.53-1.18l-2.69 2.54z" fill="#fdca30"/><path d="M132.57 662.93l2.69-2.11l-2.53-1.18l-2.69 2.11z" fill="#fcce2d"/><path d="M137.8 662l2.69-1.87l-2.53-1.18l-2.69 1.87z" fill="#fbd02c"/><path d="M143.02 661.32l2.69-1.72l-2.53-1.18l-2.69 1.72z" fill="#fad22a"/><path d="M148.24 660.79l2.69-1.61l-2.53-1.19l-2.69 1.61z" fill="#f9d429"/><path d="M153.46 660.36l2.69-1.54l-2.53-1.19l-2.69 1.54z" fill="#f9d528"/><path d="M158.68 660.01l2.69-1.48l-2.53-1.19l-2.69 1.48z" fill="#f8d627"/><path d="M163.9 659.73l2.69-1.43l-2.53-1.19l-2.69 1.43z" fill="#f8d727"/><path d="M169.13 659.49l2.69-1.4l-2.53-1.2l-2.69 1.4z" fill="#f8d826"/><path d="M174.35 659.29l2.69-1.37l-2.53-1.2l-2.69 1.37z" fill="#f7d826"/><path d="M179.57 659.13l2.69-1.34l-2.53-1.2l-2.69 1.34z" fill="#f7d925"/><path d="M184.79 658.99l2.69-1.32l-2.53-1.2l-2.69 1.32z" fill="#f7d925"/><path d="M190.01 658.88l2.69-1.3l-2.53-1.21l-2.69 1.3z" fill="#f7da24"/><path d="M195.23 658.79l2.69-1.28l-2.53-1.21l-2.69 1.28z" fill="#f7da24"/><path d="M200.45 658.73l2.69-1.27l-2.53-1.22l-2.69 1.27z" fill="#f7da24"/><path d="M205.68 658.68l2.69-1.26l-2.53-1.22l-2.69 1.26z" fill="#f6db24"/><path d="M210.9 658.65l2.69-1.25l-2.53-1.23l-2.69 1.24z" fill="#f6db24"/><path d="M216.12 658.63l2.69-1.23l-2.53-1.23l-2.69 1.23z" fill="#f6db23"/><path d="M221.34 658.63l2.69-1.23l-2.53-1.24l-2.69 1.23z" fill="#f6db23"/><path d="M226.56 658.65l2.69-1.22l-2.53-1.24l-2.69 1.22z" fill="#f6db23"/><path d="M231.78 658.68l2.69-1.21l-2.53-1.25l-2.69 1.21z" fill="#f6db23"/><path d="M237 658.73l2.69-1.2l-2.53-1.26l-2.69 1.2z" fill="#f6db23"/><path d="M242.23 658.79l2.69-1.2l-2.53-1.26l-2.69 1.2z" fill="#f6db23"/><path d="M247.45 658.87l2.69-1.19l-2.53-1.27l-2.69 1.19z" fill="#f6db23"/><path d="M252.67 658.96l2.69-1.19l-2.53-1.28l-2.69 1.19z" fill="#f6db24"/><path d="M257.89 659.07l2.69-1.18l-2.53-1.29l-2.69 1.18z" fill="#f6db24"/><path d="M263.11 659.19l2.69-1.18l-2.53-1.31l-2.69 1.18z" fill="#f7db24"/><path d="M268.33 659.33l2.69-1.17l-2.53-1.32l-2.69 1.17z" fill="#f7da24"/><path d="M273.56 659.5l2.69-1.17l-2.53-1.34l-2.69 1.17z" fill="#f7da24"/><path d="M278.78 659.68l2.69-1.16l-2.53-1.35l-2.69 1.16z" fill="#f7da25"/><path d="M284 659.9l2.69-1.16l-2.53-1.37l-2.69 1.16z" fill="#f7d925"/><path d="M289.22 660.13l2.69-1.16l-2.53-1.4l-2.69 1.16z" fill="#f7d925"/><path d="M294.44 660.41l2.69-1.16l-2.53-1.43l-2.69 1.15z" fill="#f7d826"/><path d="M299.66 660.72l2.69-1.15l-2.53-1.47l-2.69 1.15z" fill="#f8d726"/><path d="M304.88 661.07l2.69-1.15l-2.53-1.51l-2.69 1.15z" fill="#f8d727"/><path d="M310.11 661.49l2.69-1.15l-2.53-1.57l-2.69 1.15z" fill="#f8d628"/><path d="M315.33 661.98l2.69-1.15l-2.53-1.64l-2.69 1.15z" fill="#f9d429"/><path d="M320.55 662.58l2.69-1.14l-2.53-1.74l-2.69 1.14z" fill="#fad32a"/><path d="M325.77 663.32l2.69-1.14l-2.53-1.89l-2.69 1.14z" fill="#fad12b"/><path d="M330.99 664.3l2.69-1.14l-2.53-2.12l-2.69 1.14z" fill="#fbcf2d"/><path d="M336.21 665.69l2.69-1.14l-2.53-2.54l-2.69 1.14z" fill="#fdcb30"/><path d="M341.43 668.12l2.69-1.14l-2.53-3.57l-2.69 1.14z" fill="#fec535"/><path d="M124.66 667.9l2.69-3.61l-2.53-1.18l-2.69 3.61z" fill="#ffc437"/><path d="M129.88 665.47l2.69-2.55l-2.53-1.18l-2.69 2.54z" fill="#fdca31"/><path d="M135.11 664.11l2.69-2.11l-2.53-1.18l-2.69 2.11z" fill="#fcce2e"/><path d="M140.33 663.19l2.69-1.87l-2.53-1.19l-2.69 1.87z" fill="#fbd02c"/><path d="M145.55 662.51l2.69-1.72l-2.53-1.19l-2.69 1.72z" fill="#fad22a"/><path d="M150.77 661.98l2.69-1.62l-2.53-1.19l-2.69 1.61z" fill="#f9d429"/><path d="M155.99 661.55l2.69-1.54l-2.53-1.19l-2.69 1.54z" fill="#f9d528"/><path d="M161.21 661.21l2.69-1.48l-2.53-1.19l-2.69 1.48z" fill="#f8d627"/><path d="M166.44 660.92l2.69-1.43l-2.53-1.2l-2.69 1.43z" fill="#f8d727"/><path d="M171.66 660.69l2.69-1.4l-2.53-1.2l-2.69 1.4z" fill="#f8d726"/><path d="M176.88 660.49l2.69-1.37l-2.53-1.2l-2.69 1.37z" fill="#f7d826"/><path d="M182.1 660.33l2.69-1.34l-2.53-1.21l-2.69 1.34z" fill="#f7d925"/><path d="M187.32 660.2l2.69-1.32l-2.53-1.21l-2.69 1.32z" fill="#f7d925"/><path d="M192.54 660.09l2.69-1.3l-2.53-1.21l-2.69 1.3z" fill="#f7d925"/><path d="M197.76 660.01l2.69-1.28l-2.53-1.22l-2.69 1.28z" fill="#f7da24"/><path d="M202.99 659.95l2.69-1.27l-2.53-1.22l-2.69 1.27z" fill="#f7da24"/><path d="M208.21 659.9l2.69-1.26l-2.53-1.23l-2.69 1.26z" fill="#f7da24"/><path d="M213.43 659.88l2.69-1.25l-2.53-1.23l-2.69 1.25z" fill="#f7db24"/><path d="M218.65 659.87l2.69-1.24l-2.53-1.24l-2.69 1.23z" fill="#f7db24"/><path d="M223.87 659.88l2.69-1.23l-2.53-1.24l-2.69 1.23z" fill="#f6db24"/><path d="M229.09 659.9l2.69-1.22l-2.53-1.25l-2.69 1.22z" fill="#f6db24"/><path d="M234.31 659.94l2.69-1.21l-2.53-1.26l-2.69 1.21z" fill="#f6db24"/><path d="M239.54 659.99l2.69-1.2l-2.53-1.26l-2.69 1.2z" fill="#f6db24"/><path d="M244.76 660.06l2.69-1.2l-2.53-1.27l-2.69 1.2z" fill="#f6db24"/><path d="M249.98 660.15l2.69-1.19l-2.53-1.28l-2.69 1.19z" fill="#f7db24"/><path d="M255.2 660.25l2.69-1.19l-2.53-1.29l-2.69 1.19z" fill="#f7da24"/><path d="M260.42 660.37l2.69-1.18l-2.53-1.31l-2.69 1.18z" fill="#f7da24"/><path d="M265.64 660.51l2.69-1.18l-2.53-1.32l-2.69 1.18z" fill="#f7da24"/><path d="M270.87 660.67l2.69-1.17l-2.53-1.34l-2.69 1.17z" fill="#f7da25"/><path d="M276.09 660.85l2.69-1.17l-2.53-1.35l-2.69 1.17z" fill="#f7d925"/><path d="M281.31 661.06l2.69-1.17l-2.53-1.38l-2.69 1.16z" fill="#f7d925"/><path d="M286.53 661.3l2.69-1.16l-2.53-1.4l-2.69 1.16z" fill="#f7d826"/><path d="M291.75 661.56l2.69-1.16l-2.53-1.43l-2.69 1.16z" fill="#f8d826"/><path d="M296.97 661.87l2.69-1.16l-2.53-1.47l-2.69 1.16z" fill="#f8d727"/><path d="M302.19 662.23l2.69-1.15l-2.53-1.51l-2.69 1.15z" fill="#f8d627"/><path d="M307.42 662.64l2.69-1.15l-2.53-1.57l-2.69 1.15z" fill="#f9d528"/><path d="M312.64 663.13l2.69-1.15l-2.53-1.64l-2.69 1.15z" fill="#f9d429"/><path d="M317.86 663.72l2.69-1.15l-2.53-1.74l-2.69 1.15z" fill="#fad32a"/><path d="M323.08 664.47l2.69-1.15l-2.53-1.89l-2.69 1.14z" fill="#fbd12b"/><path d="M328.3 665.44l2.69-1.14l-2.53-2.12l-2.69 1.14z" fill="#fccf2d"/><path d="M333.52 666.84l2.69-1.14l-2.53-2.54l-2.69 1.14z" fill="#fdcb30"/><path d="M338.74 669.27l2.69-1.14l-2.53-3.57l-2.69 1.14z" fill="#fec535"/><path d="M127.19 669.09l2.69-3.62l-2.53-1.19l-2.69 3.61z" fill="#ffc437"/><path d="M132.42 666.66l2.69-2.55l-2.53-1.19l-2.69 2.55z" fill="#fdca31"/><path d="M137.64 665.3l2.69-2.11l-2.53-1.19l-2.69 2.11z" fill="#fccd2e"/><path d="M142.86 664.38l2.69-1.87l-2.53-1.19l-2.69 1.87z" fill="#fbd02c"/><path d="M148.08 663.7l2.69-1.72l-2.53-1.19l-2.69 1.72z" fill="#fad22b"/><path d="M153.3 663.17l2.69-1.62l-2.53-1.19l-2.69 1.62z" fill="#f9d329"/><path d="M158.52 662.75l2.69-1.54l-2.53-1.19l-2.69 1.54z" fill="#f9d428"/><path d="M163.75 662.41l2.69-1.48l-2.53-1.2l-2.69 1.48z" fill="#f8d528"/><path d="M168.97 662.12l2.69-1.44l-2.53-1.2l-2.69 1.43z" fill="#f8d627"/><path d="M174.19 661.89l2.69-1.4l-2.53-1.2l-2.69 1.4z" fill="#f8d727"/><path d="M179.41 661.7l2.69-1.37l-2.53-1.21l-2.69 1.37z" fill="#f8d826"/><path d="M184.63 661.54l2.69-1.34l-2.53-1.21l-2.69 1.34z" fill="#f7d826"/><path d="M189.85 661.41l2.69-1.32l-2.53-1.21l-2.69 1.32z" fill="#f7d925"/><path d="M195.07 661.31l2.69-1.3l-2.53-1.22l-2.69 1.3z" fill="#f7d925"/><path d="M200.3 661.23l2.69-1.28l-2.53-1.22l-2.69 1.28z" fill="#f7d925"/><path d="M205.52 661.17l2.69-1.27l-2.53-1.23l-2.69 1.27z" fill="#f7da25"/><path d="M210.74 661.14l2.69-1.26l-2.53-1.23l-2.69 1.26z" fill="#f7da24"/><path d="M215.96 661.12l2.69-1.25l-2.53-1.24l-2.69 1.25z" fill="#f7da24"/><path d="M221.18 661.11l2.69-1.24l-2.53-1.24l-2.69 1.24z" fill="#f7da24"/><path d="M226.4 661.13l2.69-1.23l-2.53-1.25l-2.69 1.23z" fill="#f7da24"/><path d="M231.62 661.16l2.69-1.22l-2.53-1.26l-2.69 1.22z" fill="#f7da24"/><path d="M236.85 661.2l2.69-1.21l-2.53-1.26l-2.69 1.21z" fill="#f7da24"/><path d="M242.07 661.27l2.69-1.2l-2.53-1.27l-2.69 1.2z" fill="#f7da24"/><path d="M247.29 661.35l2.69-1.2l-2.53-1.28l-2.69 1.2z" fill="#f7da24"/><path d="M252.51 661.44l2.69-1.19l-2.53-1.29l-2.69 1.19z" fill="#f7da24"/><path d="M257.73 661.56l2.69-1.19l-2.53-1.31l-2.69 1.19z" fill="#f7da24"/><path d="M262.95 661.69l2.69-1.18l-2.53-1.32l-2.69 1.18z" fill="#f7da25"/><path d="M268.18 661.85l2.69-1.18l-2.53-1.34l-2.69 1.18z" fill="#f7d925"/><path d="M273.4 662.03l2.69-1.17l-2.53-1.35l-2.69 1.17z" fill="#f7d925"/><path d="M278.62 662.23l2.69-1.17l-2.53-1.38l-2.69 1.17z" fill="#f7d925"/><path d="M283.84 662.46l2.69-1.17l-2.53-1.4l-2.69 1.17z" fill="#f7d826"/><path d="M289.06 662.73l2.69-1.16l-2.53-1.43l-2.69 1.16z" fill="#f8d726"/><path d="M294.28 663.03l2.69-1.16l-2.53-1.47l-2.69 1.16z" fill="#f8d727"/><path d="M299.5 663.38l2.69-1.16l-2.53-1.51l-2.69 1.16z" fill="#f8d627"/><path d="M304.73 663.8l2.69-1.15l-2.53-1.57l-2.69 1.15z" fill="#f9d528"/><path d="M309.95 664.28l2.69-1.15l-2.53-1.64l-2.69 1.15z" fill="#f9d429"/><path d="M315.17 664.87l2.69-1.15l-2.53-1.74l-2.69 1.15z" fill="#fad22a"/><path d="M320.39 665.61l2.69-1.15l-2.53-1.89l-2.69 1.15z" fill="#fbd12b"/><path d="M325.61 666.59l2.69-1.15l-2.53-2.12l-2.69 1.15z" fill="#fcce2d"/><path d="M330.83 667.98l2.69-1.15l-2.53-2.54l-2.69 1.14z" fill="#fdcb30"/><path d="M336.05 670.41l2.69-1.15l-2.53-3.57l-2.69 1.14z" fill="#fec536"/><path d="M129.73 670.28l2.69-3.62l-2.53-1.19l-2.69 3.62z" fill="#ffc337"/><path d="M134.95 667.85l2.69-2.55l-2.53-1.19l-2.69 2.55z" fill="#fdca31"/><path d="M140.17 666.49l2.69-2.11l-2.53-1.19l-2.69 2.11z" fill="#fccd2e"/><path d="M145.39 665.57l2.69-1.87l-2.53-1.19l-2.69 1.87z" fill="#fbd02c"/><path d="M150.61 664.89l2.69-1.72l-2.53-1.19l-2.69 1.72z" fill="#fad22b"/><path d="M155.83 664.36l2.69-1.62l-2.53-1.2l-2.69 1.62z" fill="#fad32a"/><path d="M161.06 663.95l2.69-1.54l-2.53-1.2l-2.69 1.54z" fill="#f9d429"/><path d="M166.28 663.61l2.69-1.48l-2.53-1.2l-2.69 1.48z" fill="#f9d528"/><path d="M171.5 663.33l2.69-1.44l-2.53-1.2l-2.69 1.44z" fill="#f8d627"/><path d="M176.72 663.1l2.69-1.4l-2.53-1.21l-2.69 1.4z" fill="#f8d727"/><path d="M181.94 662.91l2.69-1.37l-2.53-1.21l-2.69 1.37z" fill="#f8d726"/><path d="M187.16 662.76l2.69-1.34l-2.53-1.21l-2.69 1.34z" fill="#f7d826"/><path d="M192.38 662.63l2.69-1.32l-2.53-1.22l-2.69 1.32z" fill="#f7d826"/><path d="M197.61 662.53l2.69-1.3l-2.53-1.22l-2.69 1.3z" fill="#f7d925"/><path d="M202.83 662.46l2.69-1.29l-2.53-1.23l-2.69 1.28z" fill="#f7d925"/><path d="M208.05 662.41l2.69-1.27l-2.53-1.23l-2.69 1.27z" fill="#f7d925"/><path d="M213.27 662.37l2.69-1.26l-2.53-1.24l-2.69 1.26z" fill="#f7da25"/><path d="M218.49 662.36l2.69-1.25l-2.53-1.24l-2.69 1.25z" fill="#f7da25"/><path d="M223.71 662.36l2.69-1.24l-2.53-1.25l-2.69 1.24z" fill="#f7da24"/><path d="M228.93 662.38l2.69-1.23l-2.53-1.26l-2.69 1.23z" fill="#f7da24"/><path d="M234.16 662.42l2.69-1.22l-2.53-1.27l-2.69 1.22z" fill="#f7da24"/><path d="M239.38 662.48l2.69-1.21l-2.53-1.27l-2.69 1.21z" fill="#f7da24"/><path d="M244.6 662.55l2.69-1.2l-2.53-1.28l-2.69 1.2z" fill="#f7da25"/><path d="M249.82 662.64l2.69-1.2l-2.53-1.29l-2.69 1.2z" fill="#f7da25"/><path d="M255.04 662.75l2.69-1.19l-2.53-1.31l-2.69 1.19z" fill="#f7d925"/><path d="M260.26 662.88l2.69-1.19l-2.53-1.32l-2.69 1.19z" fill="#f7d925"/><path d="M265.49 663.03l2.69-1.18l-2.53-1.34l-2.69 1.18z" fill="#f7d925"/><path d="M270.71 663.2l2.69-1.18l-2.53-1.36l-2.69 1.18z" fill="#f7d925"/><path d="M275.93 663.4l2.69-1.17l-2.53-1.38l-2.69 1.17z" fill="#f7d826"/><path d="M281.15 663.63l2.69-1.17l-2.53-1.4l-2.69 1.17z" fill="#f8d826"/><path d="M286.37 663.89l2.69-1.17l-2.53-1.43l-2.69 1.17z" fill="#f8d726"/><path d="M291.59 664.2l2.69-1.16l-2.53-1.47l-2.69 1.16z" fill="#f8d627"/><path d="M296.81 664.54l2.69-1.16l-2.53-1.51l-2.69 1.16z" fill="#f8d628"/><path d="M302.04 664.95l2.69-1.16l-2.53-1.57l-2.69 1.16z" fill="#f9d528"/><path d="M307.26 665.44l2.69-1.15l-2.53-1.64l-2.69 1.15z" fill="#f9d429"/><path d="M312.48 666.03l2.69-1.15l-2.53-1.74l-2.69 1.15z" fill="#fad22a"/><path d="M317.7 666.77l2.69-1.15l-2.53-1.89l-2.69 1.15z" fill="#fbd02c"/><path d="M322.92 667.74l2.69-1.15l-2.53-2.12l-2.69 1.15z" fill="#fcce2e"/><path d="M328.14 669.13l2.69-1.15l-2.53-2.54l-2.69 1.15z" fill="#fdcb30"/><path d="M333.36 671.56l2.69-1.15l-2.53-3.58l-2.69 1.15z" fill="#ffc436"/><path d="M132.26 671.47l2.69-3.62l-2.53-1.19l-2.69 3.62z" fill="#ffc337"/><path d="M137.48 669.04l2.69-2.55l-2.53-1.19l-2.69 2.55z" fill="#fec931"/><path d="M142.7 667.68l2.69-2.11l-2.53-1.19l-2.69 2.11z" fill="#fccd2e"/><path d="M147.92 666.77l2.69-1.87l-2.53-1.19l-2.69 1.87z" fill="#fbcf2c"/><path d="M153.14 666.09l2.69-1.72l-2.53-1.2l-2.69 1.72z" fill="#fad12b"/><path d="M158.37 665.56l2.69-1.62l-2.53-1.2l-2.69 1.62z" fill="#fad32a"/><path d="M163.59 665.15l2.69-1.54l-2.53-1.2l-2.69 1.54z" fill="#f9d429"/><path d="M168.81 664.81l2.69-1.48l-2.53-1.2l-2.69 1.48z" fill="#f9d528"/><path d="M174.03 664.54l2.69-1.44l-2.53-1.21l-2.69 1.44z" fill="#f8d628"/><path d="M179.25 664.31l2.69-1.4l-2.53-1.21l-2.69 1.4z" fill="#f8d627"/><path d="M184.47 664.12l2.69-1.37l-2.53-1.21l-2.69 1.37z" fill="#f8d727"/><path d="M189.69 663.97l2.69-1.34l-2.53-1.22l-2.69 1.34z" fill="#f8d826"/><path d="M194.92 663.85l2.69-1.32l-2.53-1.22l-2.69 1.32z" fill="#f7d826"/><path d="M200.14 663.76l2.69-1.3l-2.53-1.23l-2.69 1.3z" fill="#f7d826"/><path d="M205.36 663.69l2.69-1.29l-2.53-1.23l-2.69 1.29z" fill="#f7d925"/><path d="M210.58 663.64l2.69-1.27l-2.53-1.24l-2.69 1.27z" fill="#f7d925"/><path d="M215.8 663.62l2.69-1.26l-2.53-1.24l-2.69 1.26z" fill="#f7d925"/><path d="M221.02 663.61l2.69-1.25l-2.53-1.25l-2.69 1.25z" fill="#f7d925"/><path d="M226.24 663.62l2.69-1.24l-2.53-1.26l-2.69 1.24z" fill="#f7d925"/><path d="M231.47 663.65l2.69-1.23l-2.53-1.27l-2.69 1.23z" fill="#f7d925"/><path d="M236.69 663.7l2.69-1.22l-2.53-1.27l-2.69 1.22z" fill="#f7d925"/><path d="M241.91 663.76l2.69-1.21l-2.53-1.28l-2.69 1.21z" fill="#f7d925"/><path d="M247.13 663.85l2.69-1.2l-2.53-1.3l-2.69 1.2z" fill="#f7d925"/><path d="M252.35 663.95l2.69-1.2l-2.53-1.31l-2.69 1.2z" fill="#f7d925"/><path d="M257.57 664.07l2.69-1.19l-2.53-1.32l-2.69 1.19z" fill="#f7d925"/><path d="M262.8 664.22l2.69-1.19l-2.53-1.34l-2.69 1.19z" fill="#f7d925"/><path d="M268.02 664.39l2.69-1.18l-2.53-1.36l-2.69 1.18z" fill="#f7d826"/><path d="M273.24 664.58l2.69-1.18l-2.53-1.38l-2.69 1.18z" fill="#f7d826"/><path d="M278.46 664.81l2.69-1.17l-2.53-1.4l-2.69 1.17z" fill="#f8d726"/><path d="M283.68 665.06l2.69-1.17l-2.53-1.43l-2.69 1.17z" fill="#f8d727"/><path d="M288.9 665.36l2.69-1.17l-2.53-1.47l-2.69 1.17z" fill="#f8d627"/><path d="M294.12 665.71l2.69-1.16l-2.53-1.51l-2.69 1.16z" fill="#f9d528"/><path d="M299.35 666.11l2.69-1.16l-2.53-1.57l-2.69 1.16z" fill="#f9d429"/><path d="M304.57 666.6l2.69-1.16l-2.53-1.64l-2.69 1.16z" fill="#f9d329"/><path d="M309.79 667.18l2.69-1.16l-2.53-1.74l-2.69 1.15z" fill="#fad22a"/><path d="M315.01 667.92l2.69-1.15l-2.53-1.89l-2.69 1.15z" fill="#fbd02c"/><path d="M320.23 668.89l2.69-1.15l-2.53-2.12l-2.69 1.15z" fill="#fcce2e"/><path d="M325.45 670.28l2.69-1.15l-2.53-2.55l-2.69 1.15z" fill="#fdca31"/><path d="M330.67 672.72l2.69-1.15l-2.53-3.58l-2.69 1.15z" fill="#ffc436"/><path d="M134.79 672.67l2.69-3.63l-2.53-1.19l-2.69 3.62z" fill="#ffc338"/><path d="M140.01 670.24l2.69-2.56l-2.53-1.19l-2.69 2.55z" fill="#fec932"/><path d="M145.23 668.88l2.69-2.12l-2.53-1.2l-2.69 2.11z" fill="#fccd2f"/><path d="M150.45 667.96l2.69-1.88l-2.53-1.2l-2.69 1.87z" fill="#fbcf2d"/><path d="M155.68 667.29l2.69-1.72l-2.53-1.2l-2.69 1.72z" fill="#fbd12b"/><path d="M160.9 666.77l2.69-1.62l-2.53-1.2l-2.69 1.62z" fill="#fad22a"/><path d="M166.12 666.35l2.69-1.54l-2.53-1.2l-2.69 1.54z" fill="#f9d429"/><path d="M171.34 666.02l2.69-1.48l-2.53-1.21l-2.69 1.48z" fill="#f9d528"/><path d="M176.56 665.75l2.69-1.44l-2.53-1.21l-2.69 1.44z" fill="#f9d528"/><path d="M181.78 665.52l2.69-1.4l-2.53-1.21l-2.69 1.4z" fill="#f8d627"/><path d="M187 665.34l2.69-1.37l-2.53-1.22l-2.69 1.37z" fill="#f8d727"/><path d="M192.23 665.2l2.69-1.34l-2.53-1.22l-2.69 1.34z" fill="#f8d726"/><path d="M197.45 665.08l2.69-1.32l-2.53-1.23l-2.69 1.32z" fill="#f8d826"/><path d="M202.67 664.99l2.69-1.3l-2.53-1.23l-2.69 1.3z" fill="#f7d826"/><path d="M207.89 664.93l2.69-1.29l-2.53-1.24l-2.69 1.29z" fill="#f7d826"/><path d="M213.11 664.89l2.69-1.27l-2.53-1.24l-2.69 1.27z" fill="#f7d826"/><path d="M218.33 664.87l2.69-1.26l-2.53-1.25l-2.69 1.26z" fill="#f7d925"/><path d="M223.56 664.87l2.69-1.25l-2.53-1.26l-2.69 1.25z" fill="#f7d925"/><path d="M228.78 664.89l2.69-1.24l-2.53-1.27l-2.69 1.24z" fill="#f7d925"/><path d="M234 664.93l2.69-1.23l-2.53-1.27l-2.69 1.23z" fill="#f7d925"/><path d="M239.22 664.98l2.69-1.22l-2.53-1.28l-2.69 1.22z" fill="#f7d925"/><path d="M244.44 665.06l2.69-1.21l-2.53-1.3l-2.69 1.21z" fill="#f7d925"/><path d="M249.66 665.16l2.69-1.21l-2.53-1.31l-2.69 1.2z" fill="#f7d925"/><path d="M254.88 665.27l2.69-1.2l-2.53-1.32l-2.69 1.2z" fill="#f7d826"/><path d="M260.11 665.41l2.69-1.19l-2.53-1.34l-2.69 1.19z" fill="#f7d826"/><path d="M265.33 665.58l2.69-1.19l-2.53-1.36l-2.69 1.19z" fill="#f7d826"/><path d="M270.55 665.77l2.69-1.18l-2.53-1.38l-2.69 1.18z" fill="#f8d726"/><path d="M275.77 665.99l2.69-1.18l-2.53-1.4l-2.69 1.18z" fill="#f8d727"/><path d="M280.99 666.24l2.69-1.17l-2.53-1.43l-2.69 1.17z" fill="#f8d627"/><path d="M286.21 666.53l2.69-1.17l-2.53-1.47l-2.69 1.17z" fill="#f8d628"/><path d="M291.43 666.88l2.69-1.17l-2.53-1.51l-2.69 1.17z" fill="#f9d528"/><path d="M296.66 667.28l2.69-1.16l-2.53-1.57l-2.69 1.16z" fill="#f9d429"/><path d="M301.88 667.76l2.69-1.16l-2.53-1.64l-2.69 1.16z" fill="#fad32a"/><path d="M307.1 668.34l2.69-1.16l-2.53-1.75l-2.69 1.16z" fill="#fad22b"/><path d="M312.32 669.08l2.69-1.16l-2.53-1.89l-2.69 1.16z" fill="#fbd02c"/><path d="M317.54 670.05l2.69-1.16l-2.53-2.12l-2.69 1.15z" fill="#fccd2e"/><path d="M322.76 671.44l2.69-1.15l-2.53-2.55l-2.69 1.15z" fill="#fdca31"/><path d="M327.98 673.87l2.69-1.16l-2.53-3.58l-2.69 1.15z" fill="#ffc437"/><path d="M137.32 673.87l2.69-3.63l-2.53-1.2l-2.69 3.63z" fill="#ffc238"/><path d="M142.54 671.44l2.69-2.56l-2.53-1.2l-2.69 2.56z" fill="#fec932"/><path d="M147.76 670.08l2.69-2.12l-2.53-1.2l-2.69 2.12z" fill="#fccc2f"/><path d="M152.99 669.17l2.69-1.88l-2.53-1.2l-2.69 1.88z" fill="#fbcf2d"/><path d="M158.21 668.49l2.69-1.73l-2.53-1.2l-2.69 1.72z" fill="#fbd12b"/><path d="M163.43 667.97l2.69-1.62l-2.53-1.21l-2.69 1.62z" fill="#fad22a"/><path d="M168.65 667.56l2.69-1.54l-2.53-1.21l-2.69 1.54z" fill="#f9d329"/><path d="M173.87 667.23l2.69-1.48l-2.53-1.21l-2.69 1.48z" fill="#f9d429"/><path d="M179.09 666.96l2.69-1.44l-2.53-1.22l-2.69 1.44z" fill="#f9d528"/><path d="M184.31 666.74l2.69-1.4l-2.53-1.22l-2.69 1.4z" fill="#f8d628"/><path d="M189.54 666.57l2.69-1.37l-2.53-1.22l-2.69 1.37z" fill="#f8d627"/><path d="M194.76 666.43l2.69-1.34l-2.53-1.23l-2.69 1.34z" fill="#f8d727"/><path d="M199.98 666.32l2.69-1.32l-2.53-1.23l-2.69 1.32z" fill="#f8d726"/><path d="M205.2 666.23l2.69-1.3l-2.53-1.24l-2.69 1.3z" fill="#f8d726"/><path d="M210.42 666.18l2.69-1.29l-2.53-1.24l-2.69 1.29z" fill="#f7d826"/><path d="M215.64 666.14l2.69-1.27l-2.53-1.25l-2.69 1.27z" fill="#f7d826"/><path d="M220.87 666.13l2.69-1.26l-2.53-1.26l-2.69 1.26z" fill="#f7d826"/><path d="M226.09 666.14l2.69-1.25l-2.53-1.27l-2.69 1.25z" fill="#f7d826"/><path d="M231.31 666.16l2.69-1.24l-2.53-1.28l-2.69 1.24z" fill="#f7d826"/><path d="M236.53 666.21l2.69-1.23l-2.53-1.29l-2.69 1.23z" fill="#f7d826"/><path d="M241.75 666.28l2.69-1.22l-2.53-1.3l-2.69 1.22z" fill="#f7d826"/><path d="M246.97 666.37l2.69-1.21l-2.53-1.31l-2.69 1.21z" fill="#f7d826"/><path d="M252.19 666.48l2.69-1.21l-2.53-1.32l-2.69 1.21z" fill="#f7d826"/><path d="M257.42 666.61l2.69-1.2l-2.53-1.34l-2.69 1.2z" fill="#f8d826"/><path d="M262.64 666.77l2.69-1.19l-2.53-1.36l-2.69 1.19z" fill="#f8d726"/><path d="M267.86 666.95l2.69-1.19l-2.53-1.38l-2.69 1.19z" fill="#f8d727"/><path d="M273.08 667.17l2.69-1.18l-2.53-1.4l-2.69 1.18z" fill="#f8d727"/><path d="M278.3 667.42l2.69-1.18l-2.53-1.43l-2.69 1.18z" fill="#f8d627"/><path d="M283.52 667.71l2.69-1.18l-2.53-1.47l-2.69 1.17z" fill="#f9d528"/><path d="M288.74 668.05l2.69-1.17l-2.53-1.51l-2.69 1.17z" fill="#f9d528"/><path d="M293.97 668.45l2.69-1.17l-2.53-1.57l-2.69 1.17z" fill="#f9d429"/><path d="M299.19 668.92l2.69-1.17l-2.53-1.64l-2.69 1.16z" fill="#fad32a"/><path d="M304.41 669.51l2.69-1.16l-2.53-1.75l-2.69 1.16z" fill="#fad12b"/><path d="M309.63 670.24l2.69-1.16l-2.53-1.89l-2.69 1.16z" fill="#fbcf2c"/><path d="M314.85 671.2l2.69-1.16l-2.53-2.13l-2.69 1.16z" fill="#fccd2e"/><path d="M320.07 672.6l2.69-1.16l-2.53-2.55l-2.69 1.16z" fill="#fdca31"/><path d="M325.29 675.03l2.69-1.16l-2.53-3.59l-2.69 1.15z" fill="#ffc437"/><path d="M139.85 675.07l2.69-3.63l-2.53-1.2l-2.69 3.63z" fill="#fec238"/><path d="M145.07 672.64l2.69-2.56l-2.53-1.2l-2.69 2.56z" fill="#fec832"/><path d="M150.3 671.29l2.69-2.12l-2.53-1.2l-2.69 2.12z" fill="#fdcc2f"/><path d="M155.52 670.37l2.69-1.88l-2.53-1.2l-2.69 1.88z" fill="#fcce2d"/><path d="M160.74 669.7l2.69-1.73l-2.53-1.21l-2.69 1.73z" fill="#fbd02c"/><path d="M165.96 669.18l2.69-1.62l-2.53-1.21l-2.69 1.62z" fill="#fad22b"/><path d="M171.18 668.78l2.69-1.54l-2.53-1.21l-2.69 1.54z" fill="#fad32a"/><path d="M176.4 668.45l2.69-1.49l-2.53-1.22l-2.69 1.48z" fill="#f9d429"/><path d="M181.62 668.18l2.69-1.44l-2.53-1.22l-2.69 1.44z" fill="#f9d528"/><path d="M186.85 667.97l2.69-1.4l-2.53-1.22l-2.69 1.4z" fill="#f9d528"/><path d="M192.07 667.8l2.69-1.37l-2.53-1.23l-2.69 1.37z" fill="#f8d627"/><path d="M197.29 667.66l2.69-1.34l-2.53-1.23l-2.69 1.34z" fill="#f8d627"/><path d="M202.51 667.56l2.69-1.32l-2.53-1.24l-2.69 1.32z" fill="#f8d727"/><path d="M207.73 667.48l2.69-1.3l-2.53-1.25l-2.69 1.3z" fill="#f8d727"/><path d="M212.95 667.43l2.69-1.29l-2.53-1.25l-2.69 1.29z" fill="#f8d726"/><path d="M218.18 667.4l2.69-1.27l-2.53-1.26l-2.69 1.27z" fill="#f8d826"/><path d="M223.4 667.4l2.69-1.26l-2.53-1.27l-2.69 1.26z" fill="#f8d826"/><path d="M228.62 667.41l2.69-1.25l-2.53-1.28l-2.69 1.25z" fill="#f8d826"/><path d="M233.84 667.45l2.69-1.24l-2.53-1.29l-2.69 1.24z" fill="#f8d826"/><path d="M239.06 667.51l2.69-1.23l-2.53-1.3l-2.69 1.23z" fill="#f8d826"/><path d="M244.28 667.59l2.69-1.22l-2.53-1.31l-2.69 1.22z" fill="#f8d826"/><path d="M249.5 667.69l2.69-1.21l-2.53-1.32l-2.69 1.21z" fill="#f8d726"/><path d="M254.73 667.82l2.69-1.21l-2.53-1.34l-2.69 1.21z" fill="#f8d726"/><path d="M259.95 667.97l2.69-1.2l-2.53-1.36l-2.69 1.2z" fill="#f8d727"/><path d="M265.17 668.15l2.69-1.19l-2.53-1.38l-2.69 1.19z" fill="#f8d727"/><path d="M270.39 668.36l2.69-1.19l-2.53-1.4l-2.69 1.19z" fill="#f8d627"/><path d="M275.61 668.6l2.69-1.18l-2.53-1.43l-2.69 1.18z" fill="#f8d628"/><path d="M280.83 668.89l2.69-1.18l-2.53-1.47l-2.69 1.18z" fill="#f9d528"/><path d="M286.05 669.22l2.69-1.18l-2.53-1.51l-2.69 1.18z" fill="#f9d429"/><path d="M291.28 669.62l2.69-1.17l-2.53-1.57l-2.69 1.17z" fill="#f9d329"/><path d="M296.5 670.09l2.69-1.17l-2.53-1.65l-2.69 1.17z" fill="#fad22a"/><path d="M301.72 670.67l2.69-1.17l-2.53-1.75l-2.69 1.17z" fill="#fbd12b"/><path d="M306.94 671.4l2.69-1.16l-2.53-1.89l-2.69 1.16z" fill="#fbcf2d"/><path d="M312.16 672.37l2.69-1.16l-2.53-2.13l-2.69 1.16z" fill="#fccd2f"/><path d="M317.38 673.76l2.69-1.16l-2.53-2.55l-2.69 1.16z" fill="#fec931"/><path d="M322.61 676.19l2.69-1.16l-2.53-3.59l-2.69 1.16z" fill="#ffc337"/><path d="M142.38 676.28l2.69-3.64l-2.53-1.2l-2.69 3.63z" fill="#fec239"/><path d="M147.61 673.85l2.69-2.56l-2.53-1.2l-2.69 2.56z" fill="#fec832"/><path d="M152.83 672.49l2.69-2.12l-2.53-1.21l-2.69 2.12z" fill="#fdcc2f"/><path d="M158.05 671.58l2.69-1.88l-2.53-1.21l-2.69 1.88z" fill="#fcce2d"/><path d="M163.27 670.91l2.69-1.73l-2.53-1.21l-2.69 1.73z" fill="#fbd02c"/><path d="M168.49 670.4l2.69-1.62l-2.53-1.21l-2.69 1.62z" fill="#fad12b"/><path d="M173.71 669.99l2.69-1.55l-2.53-1.22l-2.69 1.54z" fill="#fad32a"/><path d="M178.93 669.67l2.69-1.49l-2.53-1.22l-2.69 1.49z" fill="#f9d329"/><path d="M184.16 669.41l2.69-1.44l-2.53-1.22l-2.69 1.44z" fill="#f9d429"/><path d="M189.38 669.2l2.69-1.4l-2.53-1.23l-2.69 1.4z" fill="#f9d528"/><path d="M194.6 669.03l2.69-1.37l-2.53-1.23l-2.69 1.37z" fill="#f8d528"/><path d="M199.82 668.9l2.69-1.35l-2.53-1.24l-2.69 1.34z" fill="#f8d627"/><path d="M205.04 668.8l2.69-1.32l-2.53-1.25l-2.69 1.32z" fill="#f8d627"/><path d="M210.26 668.73l2.69-1.3l-2.53-1.25l-2.69 1.3z" fill="#f8d727"/><path d="M215.49 668.69l2.69-1.29l-2.53-1.26l-2.69 1.29z" fill="#f8d727"/><path d="M220.71 668.67l2.69-1.27l-2.53-1.27l-2.69 1.27z" fill="#f8d727"/><path d="M225.93 668.67l2.69-1.26l-2.53-1.28l-2.69 1.26z" fill="#f8d726"/><path d="M231.15 668.7l2.69-1.25l-2.53-1.29l-2.69 1.25z" fill="#f8d726"/><path d="M236.37 668.75l2.69-1.24l-2.53-1.3l-2.69 1.24z" fill="#f8d726"/><path d="M241.59 668.82l2.69-1.23l-2.53-1.31l-2.69 1.23z" fill="#f8d726"/><path d="M246.81 668.91l2.69-1.22l-2.53-1.32l-2.69 1.22z" fill="#f8d727"/><path d="M252.04 669.03l2.69-1.21l-2.53-1.34l-2.69 1.21z" fill="#f8d727"/><path d="M257.26 669.18l2.69-1.21l-2.53-1.36l-2.69 1.21z" fill="#f8d727"/><path d="M262.48 669.35l2.69-1.2l-2.53-1.38l-2.69 1.2z" fill="#f8d627"/><path d="M267.7 669.55l2.69-1.2l-2.53-1.4l-2.69 1.19z" fill="#f8d628"/><path d="M272.92 669.79l2.69-1.19l-2.53-1.43l-2.69 1.19z" fill="#f9d528"/><path d="M278.14 670.08l2.69-1.19l-2.53-1.47l-2.69 1.18z" fill="#f9d528"/><path d="M283.36 670.41l2.69-1.18l-2.53-1.52l-2.69 1.18z" fill="#f9d429"/><path d="M288.59 670.8l2.69-1.18l-2.53-1.57l-2.69 1.18z" fill="#fad32a"/><path d="M293.81 671.27l2.69-1.17l-2.53-1.65l-2.69 1.17z" fill="#fad22a"/><path d="M299.03 671.84l2.69-1.17l-2.53-1.75l-2.69 1.17z" fill="#fbd12c"/><path d="M304.25 672.57l2.69-1.17l-2.53-1.9l-2.69 1.17z" fill="#fbcf2d"/><path d="M309.47 673.53l2.69-1.17l-2.53-2.13l-2.69 1.16z" fill="#fccc2f"/><path d="M314.69 674.92l2.69-1.17l-2.53-2.56l-2.69 1.16z" fill="#fec932"/><path d="M319.92 677.36l2.69-1.17l-2.53-3.6l-2.69 1.16z" fill="#ffc338"/><path d="M144.92 677.49l2.69-3.64l-2.53-1.21l-2.69 3.64z" fill="#fec139"/><path d="M150.14 675.06l2.69-2.56l-2.53-1.21l-2.69 2.56z" fill="#fec833"/><path d="M155.36 673.7l2.69-2.12l-2.53-1.21l-2.69 2.12z" fill="#fdcb30"/><path d="M160.58 672.79l2.69-1.88l-2.53-1.21l-2.69 1.88z" fill="#fcce2e"/><path d="M165.8 672.13l2.69-1.73l-2.53-1.21l-2.69 1.73z" fill="#fbd02c"/><path d="M171.02 671.62l2.69-1.62l-2.53-1.22l-2.69 1.62z" fill="#fad12b"/><path d="M176.24 671.22l2.69-1.55l-2.53-1.22l-2.69 1.55z" fill="#fad22a"/><path d="M181.47 670.9l2.69-1.49l-2.53-1.23l-2.69 1.49z" fill="#fad329"/><path d="M186.69 670.64l2.69-1.44l-2.53-1.23l-2.69 1.44z" fill="#f9d429"/><path d="M191.91 670.44l2.69-1.4l-2.53-1.24l-2.69 1.4z" fill="#f9d528"/><path d="M197.13 670.27l2.69-1.37l-2.53-1.24l-2.69 1.37z" fill="#f9d528"/><path d="M202.35 670.15l2.69-1.35l-2.53-1.25l-2.69 1.35z" fill="#f8d628"/><path d="M207.57 670.06l2.69-1.32l-2.53-1.25l-2.69 1.32z" fill="#f8d627"/><path d="M212.8 669.99l2.69-1.31l-2.53-1.26l-2.69 1.3z" fill="#f8d627"/><path d="M218.02 669.96l2.69-1.29l-2.53-1.27l-2.69 1.29z" fill="#f8d627"/><path d="M223.24 669.95l2.69-1.27l-2.53-1.28l-2.69 1.27z" fill="#f8d727"/><path d="M228.46 669.96l2.69-1.26l-2.53-1.29l-2.69 1.26z" fill="#f8d727"/><path d="M233.68 670l2.69-1.25l-2.53-1.3l-2.69 1.25z" fill="#f8d727"/><path d="M238.9 670.06l2.69-1.24l-2.53-1.31l-2.69 1.24z" fill="#f8d727"/><path d="M244.12 670.14l2.69-1.23l-2.53-1.32l-2.69 1.23z" fill="#f8d627"/><path d="M249.35 670.26l2.69-1.22l-2.53-1.34l-2.69 1.22z" fill="#f8d627"/><path d="M254.57 670.39l2.69-1.21l-2.53-1.36l-2.69 1.21z" fill="#f8d627"/><path d="M259.79 670.56l2.69-1.21l-2.53-1.38l-2.69 1.21z" fill="#f8d628"/><path d="M265.01 670.76l2.69-1.2l-2.53-1.41l-2.69 1.2z" fill="#f9d528"/><path d="M270.23 670.99l2.69-1.2l-2.53-1.44l-2.69 1.2z" fill="#f9d528"/><path d="M275.45 671.27l2.69-1.19l-2.53-1.47l-2.69 1.19z" fill="#f9d429"/><path d="M280.67 671.59l2.69-1.19l-2.53-1.52l-2.69 1.19z" fill="#f9d329"/><path d="M285.9 671.98l2.69-1.18l-2.53-1.57l-2.69 1.18z" fill="#fad32a"/><path d="M291.12 672.45l2.69-1.18l-2.53-1.65l-2.69 1.18z" fill="#fad22b"/><path d="M296.34 673.02l2.69-1.18l-2.53-1.75l-2.69 1.17z" fill="#fbd02c"/><path d="M301.56 673.74l2.69-1.17l-2.53-1.9l-2.69 1.17z" fill="#fcce2d"/><path d="M306.78 674.7l2.69-1.17l-2.53-2.13l-2.69 1.17z" fill="#fdcc2f"/><path d="M312 676.09l2.69-1.17l-2.53-2.56l-2.69 1.17z" fill="#fec932"/><path d="M317.23 678.53l2.69-1.17l-2.53-3.6l-2.69 1.17z" fill="#ffc338"/><path d="M147.45 678.7l2.69-3.65l-2.53-1.21l-2.69 3.64z" fill="#fec13a"/><path d="M152.67 676.27l2.69-2.57l-2.53-1.21l-2.69 2.56z" fill="#fec733"/><path d="M157.89 674.92l2.69-2.13l-2.53-1.21l-2.69 2.12z" fill="#fdcb30"/><path d="M163.11 674.01l2.69-1.88l-2.53-1.22l-2.69 1.88z" fill="#fccd2e"/><path d="M168.33 673.35l2.69-1.73l-2.53-1.22l-2.69 1.73z" fill="#fbcf2c"/><path d="M173.56 672.84l2.69-1.62l-2.53-1.22l-2.69 1.62z" fill="#fbd12b"/><path d="M178.78 672.44l2.69-1.55l-2.53-1.23l-2.69 1.55z" fill="#fad22b"/><path d="M184 672.13l2.69-1.49l-2.53-1.23l-2.69 1.49z" fill="#fad32a"/><path d="M189.22 671.88l2.69-1.44l-2.53-1.24l-2.69 1.44z" fill="#f9d329"/><path d="M194.44 671.68l2.69-1.4l-2.53-1.24l-2.69 1.4z" fill="#f9d429"/><path d="M199.66 671.52l2.69-1.37l-2.53-1.25l-2.69 1.37z" fill="#f9d528"/><path d="M204.88 671.4l2.69-1.35l-2.53-1.25l-2.69 1.35z" fill="#f9d528"/><path d="M210.11 671.32l2.69-1.32l-2.53-1.26l-2.69 1.32z" fill="#f9d528"/><path d="M215.33 671.26l2.69-1.31l-2.53-1.27l-2.69 1.31z" fill="#f8d628"/><path d="M220.55 671.24l2.69-1.29l-2.53-1.28l-2.69 1.29z" fill="#f8d627"/><path d="M225.77 671.24l2.69-1.27l-2.53-1.29l-2.69 1.27z" fill="#f8d627"/><path d="M230.99 671.26l2.69-1.26l-2.53-1.3l-2.69 1.26z" fill="#f8d627"/><path d="M236.21 671.31l2.69-1.25l-2.53-1.31l-2.69 1.25z" fill="#f8d627"/><path d="M241.43 671.39l2.69-1.24l-2.53-1.33l-2.69 1.24z" fill="#f8d627"/><path d="M246.66 671.49l2.69-1.23l-2.53-1.34l-2.69 1.23z" fill="#f8d627"/><path d="M251.88 671.62l2.69-1.22l-2.53-1.36l-2.69 1.22z" fill="#f8d628"/><path d="M257.1 671.77l2.69-1.22l-2.53-1.38l-2.69 1.21z" fill="#f9d528"/><path d="M262.32 671.97l2.69-1.21l-2.53-1.41l-2.69 1.21z" fill="#f9d528"/><path d="M267.54 672.19l2.69-1.2l-2.53-1.44l-2.69 1.2z" fill="#f9d429"/><path d="M272.76 672.46l2.69-1.2l-2.53-1.47l-2.69 1.2z" fill="#f9d429"/><path d="M277.98 672.78l2.69-1.19l-2.53-1.52l-2.69 1.19z" fill="#fad32a"/><path d="M283.21 673.17l2.69-1.19l-2.53-1.57l-2.69 1.19z" fill="#fad22a"/><path d="M288.43 673.63l2.69-1.18l-2.53-1.65l-2.69 1.18z" fill="#fad12b"/><path d="M293.65 674.2l2.69-1.18l-2.53-1.75l-2.69 1.18z" fill="#fbd02c"/><path d="M298.87 674.92l2.69-1.18l-2.53-1.9l-2.69 1.18z" fill="#fcce2d"/><path d="M304.09 675.88l2.69-1.17l-2.53-2.13l-2.69 1.17z" fill="#fdcc2f"/><path d="M309.31 677.27l2.69-1.17l-2.53-2.56l-2.69 1.17z" fill="#fec832"/><path d="M314.54 679.7l2.69-1.17l-2.53-3.6l-2.69 1.17z" fill="#ffc238"/><path d="M149.98 679.92l2.69-3.65l-2.53-1.21l-2.69 3.65z" fill="#fec13a"/><path d="M155.2 677.49l2.69-2.57l-2.53-1.21l-2.69 2.57z" fill="#fec733"/><path d="M160.42 676.14l2.69-2.13l-2.53-1.22l-2.69 2.13z" fill="#fdcb30"/><path d="M165.64 675.23l2.69-1.88l-2.53-1.22l-2.69 1.88z" fill="#fccd2e"/><path d="M170.87 674.57l2.69-1.73l-2.53-1.22l-2.69 1.73z" fill="#fbcf2d"/><path d="M176.09 674.07l2.69-1.63l-2.53-1.23l-2.69 1.62z" fill="#fbd02c"/><path d="M181.31 673.68l2.69-1.55l-2.53-1.23l-2.69 1.55z" fill="#fad12b"/><path d="M186.53 673.37l2.69-1.49l-2.53-1.24l-2.69 1.49z" fill="#fad22a"/><path d="M191.75 673.12l2.69-1.44l-2.53-1.24l-2.69 1.44z" fill="#fad32a"/><path d="M196.97 672.93l2.69-1.4l-2.53-1.25l-2.69 1.4z" fill="#f9d429"/><path d="M202.19 672.78l2.69-1.37l-2.53-1.25l-2.69 1.37z" fill="#f9d429"/><path d="M207.42 672.67l2.69-1.35l-2.53-1.26l-2.69 1.35z" fill="#f9d528"/><path d="M212.64 672.59l2.69-1.33l-2.53-1.27l-2.69 1.32z" fill="#f9d528"/><path d="M217.86 672.54l2.69-1.31l-2.53-1.28l-2.69 1.31z" fill="#f9d528"/><path d="M223.08 672.53l2.69-1.29l-2.53-1.29l-2.69 1.29z" fill="#f9d528"/><path d="M228.3 672.54l2.69-1.28l-2.53-1.3l-2.69 1.27z" fill="#f9d528"/><path d="M233.52 672.57l2.69-1.26l-2.53-1.31l-2.69 1.26z" fill="#f9d528"/><path d="M238.74 672.64l2.69-1.25l-2.53-1.33l-2.69 1.25z" fill="#f9d528"/><path d="M243.97 672.73l2.69-1.24l-2.53-1.34l-2.69 1.24z" fill="#f9d528"/><path d="M249.19 672.85l2.69-1.23l-2.53-1.36l-2.69 1.23z" fill="#f9d528"/><path d="M254.41 673l2.69-1.22l-2.53-1.38l-2.69 1.22z" fill="#f9d528"/><path d="M259.63 673.18l2.69-1.22l-2.53-1.41l-2.69 1.22z" fill="#f9d429"/><path d="M264.85 673.4l2.69-1.21l-2.53-1.44l-2.69 1.21z" fill="#f9d429"/><path d="M270.07 673.67l2.69-1.2l-2.53-1.47l-2.69 1.2z" fill="#f9d329"/><path d="M275.29 673.98l2.69-1.2l-2.53-1.52l-2.69 1.2z" fill="#fad32a"/><path d="M280.52 674.36l2.69-1.19l-2.53-1.58l-2.69 1.19z" fill="#fad22a"/><path d="M285.74 674.82l2.69-1.19l-2.53-1.65l-2.69 1.19z" fill="#fbd12b"/><path d="M290.96 675.38l2.69-1.18l-2.53-1.75l-2.69 1.18z" fill="#fbcf2c"/><path d="M296.18 676.1l2.69-1.18l-2.53-1.9l-2.69 1.18z" fill="#fcce2e"/><path d="M301.4 677.06l2.69-1.18l-2.53-2.13l-2.69 1.18z" fill="#fdcb30"/><path d="M306.62 678.44l2.69-1.18l-2.53-2.56l-2.69 1.17z" fill="#fec833"/><path d="M311.85 680.88l2.69-1.18l-2.53-3.61l-2.69 1.17z" fill="#fec239"/><path d="M152.51 681.14l2.69-3.66l-2.53-1.22l-2.69 3.65z" fill="#fec13a"/><path d="M157.73 678.71l2.69-2.57l-2.53-1.22l-2.69 2.57z" fill="#fec734"/><path d="M162.95 677.36l2.69-2.13l-2.53-1.22l-2.69 2.13z" fill="#fdca31"/><path d="M168.18 676.46l2.69-1.89l-2.53-1.22l-2.69 1.88z" fill="#fccd2f"/><path d="M173.4 675.8l2.69-1.73l-2.53-1.23l-2.69 1.73z" fill="#fccf2d"/><path d="M178.62 675.3l2.69-1.63l-2.53-1.23l-2.69 1.63z" fill="#fbd02c"/><path d="M183.84 674.92l2.69-1.55l-2.53-1.24l-2.69 1.55z" fill="#fad12b"/><path d="M189.06 674.61l2.69-1.49l-2.53-1.24l-2.69 1.49z" fill="#fad22a"/><path d="M194.28 674.37l2.69-1.44l-2.53-1.25l-2.69 1.44z" fill="#fad32a"/><path d="M199.5 674.18l2.69-1.41l-2.53-1.26l-2.69 1.4z" fill="#f9d329"/><path d="M204.73 674.04l2.69-1.37l-2.53-1.26l-2.69 1.37z" fill="#f9d429"/><path d="M209.95 673.94l2.69-1.35l-2.53-1.27l-2.69 1.35z" fill="#f9d429"/><path d="M215.17 673.87l2.69-1.33l-2.53-1.28l-2.69 1.33z" fill="#f9d429"/><path d="M220.39 673.83l2.69-1.31l-2.53-1.29l-2.69 1.31z" fill="#f9d528"/><path d="M225.61 673.83l2.69-1.29l-2.53-1.3l-2.69 1.29z" fill="#f9d528"/><path d="M230.83 673.85l2.69-1.28l-2.53-1.31l-2.69 1.28z" fill="#f9d528"/><path d="M236.05 673.9l2.69-1.26l-2.53-1.33l-2.69 1.26z" fill="#f9d528"/><path d="M241.28 673.98l2.69-1.25l-2.53-1.34l-2.69 1.25z" fill="#f9d528"/><path d="M246.5 674.09l2.69-1.24l-2.53-1.36l-2.69 1.24z" fill="#f9d528"/><path d="M251.72 674.23l2.69-1.23l-2.53-1.38l-2.69 1.23z" fill="#f9d429"/><path d="M256.94 674.41l2.69-1.22l-2.53-1.41l-2.69 1.22z" fill="#f9d429"/><path d="M262.16 674.62l2.69-1.22l-2.53-1.44l-2.69 1.22z" fill="#f9d329"/><path d="M267.38 674.88l2.69-1.21l-2.53-1.47l-2.69 1.21z" fill="#fad32a"/><path d="M272.61 675.19l2.69-1.2l-2.53-1.52l-2.69 1.2z" fill="#fad22a"/><path d="M277.83 675.56l2.69-1.2l-2.53-1.58l-2.69 1.2z" fill="#fad12b"/><path d="M283.05 676.01l2.69-1.19l-2.53-1.65l-2.69 1.19z" fill="#fbd02c"/><path d="M288.27 676.57l2.69-1.19l-2.53-1.75l-2.69 1.19z" fill="#fbcf2d"/><path d="M293.49 677.29l2.69-1.19l-2.53-1.9l-2.69 1.18z" fill="#fccd2e"/><path d="M298.71 678.24l2.69-1.18l-2.53-2.14l-2.69 1.18z" fill="#fdcb30"/><path d="M303.93 679.62l2.69-1.18l-2.53-2.57l-2.69 1.18z" fill="#fec833"/><path d="M309.16 682.06l2.69-1.18l-2.53-3.61l-2.69 1.18z" fill="#fec239"/><path d="M155.04 682.37l2.69-3.66l-2.53-1.22l-2.69 3.66z" fill="#fec03b"/><path d="M160.26 679.94l2.69-2.58l-2.53-1.22l-2.69 2.57z" fill="#fec634"/><path d="M165.49 678.59l2.69-2.13l-2.53-1.23l-2.69 2.13z" fill="#fdca31"/><path d="M170.71 677.69l2.69-1.89l-2.53-1.23l-2.69 1.89z" fill="#fccc2f"/><path d="M175.93 677.04l2.69-1.73l-2.53-1.23l-2.69 1.73z" fill="#fcce2d"/><path d="M181.15 676.54l2.69-1.63l-2.53-1.24l-2.69 1.63z" fill="#fbd02c"/><path d="M186.37 676.16l2.69-1.55l-2.53-1.24l-2.69 1.55z" fill="#fbd12b"/><path d="M191.59 675.86l2.69-1.49l-2.53-1.25l-2.69 1.49z" fill="#fad12b"/><path d="M196.81 675.63l2.69-1.44l-2.53-1.26l-2.69 1.44z" fill="#fad22a"/><path d="M202.04 675.45l2.69-1.41l-2.53-1.26l-2.69 1.41z" fill="#fad32a"/><path d="M207.26 675.31l2.69-1.38l-2.53-1.27l-2.69 1.37z" fill="#f9d329"/><path d="M212.48 675.22l2.69-1.35l-2.53-1.28l-2.69 1.35z" fill="#f9d429"/><path d="M217.7 675.16l2.69-1.33l-2.53-1.29l-2.69 1.33z" fill="#f9d429"/><path d="M222.92 675.13l2.69-1.31l-2.53-1.3l-2.69 1.31z" fill="#f9d429"/><path d="M228.14 675.14l2.69-1.29l-2.53-1.31l-2.69 1.29z" fill="#f9d429"/><path d="M233.36 675.18l2.69-1.28l-2.53-1.33l-2.69 1.28z" fill="#f9d429"/><path d="M238.59 675.24l2.69-1.26l-2.53-1.34l-2.69 1.26z" fill="#f9d429"/><path d="M243.81 675.34l2.69-1.25l-2.53-1.36l-2.69 1.25z" fill="#f9d429"/><path d="M249.03 675.47l2.69-1.24l-2.53-1.38l-2.69 1.24z" fill="#f9d429"/><path d="M254.25 675.64l2.69-1.23l-2.53-1.41l-2.69 1.23z" fill="#f9d329"/><path d="M259.47 675.85l2.69-1.23l-2.53-1.44l-2.69 1.22z" fill="#fad32a"/><path d="M264.69 676.1l2.69-1.22l-2.53-1.48l-2.69 1.22z" fill="#fad22a"/><path d="M269.92 676.4l2.69-1.21l-2.53-1.52l-2.69 1.21z" fill="#fad22a"/><path d="M275.14 676.77l2.69-1.21l-2.53-1.58l-2.69 1.2z" fill="#fad12b"/><path d="M280.36 677.21l2.69-1.2l-2.53-1.65l-2.69 1.2z" fill="#fbd02c"/><path d="M285.58 677.77l2.69-1.2l-2.53-1.76l-2.69 1.19z" fill="#fccf2d"/><path d="M290.8 678.48l2.69-1.19l-2.53-1.9l-2.69 1.19z" fill="#fccd2e"/><path d="M296.02 679.43l2.69-1.19l-2.53-2.14l-2.69 1.19z" fill="#fdcb30"/><path d="M301.24 680.81l2.69-1.19l-2.53-2.57l-2.69 1.18z" fill="#fec733"/><path d="M306.47 683.25l2.69-1.19l-2.53-3.62l-2.69 1.18z" fill="#fec13a"/><path d="M157.57 683.6l2.69-3.67l-2.53-1.23l-2.69 3.66z" fill="#fec03b"/><path d="M162.8 681.17l2.69-2.58l-2.53-1.23l-2.69 2.58z" fill="#fec634"/><path d="M168.02 679.82l2.69-2.13l-2.53-1.23l-2.69 2.13z" fill="#fdca31"/><path d="M173.24 678.93l2.69-1.89l-2.53-1.24l-2.69 1.89z" fill="#fdcc2f"/><path d="M178.46 678.28l2.69-1.74l-2.53-1.24l-2.69 1.73z" fill="#fcce2e"/><path d="M183.68 677.79l2.69-1.63l-2.53-1.25l-2.69 1.63z" fill="#fbcf2d"/><path d="M188.9 677.41l2.69-1.55l-2.53-1.25l-2.69 1.55z" fill="#fbd02c"/><path d="M194.12 677.12l2.69-1.49l-2.53-1.26l-2.69 1.49z" fill="#fad12b"/><path d="M199.35 676.89l2.69-1.45l-2.53-1.26l-2.69 1.44z" fill="#fad22b"/><path d="M204.57 676.72l2.69-1.41l-2.53-1.27l-2.69 1.41z" fill="#fad22a"/><path d="M209.79 676.6l2.69-1.38l-2.53-1.28l-2.69 1.38z" fill="#fad32a"/><path d="M215.01 676.51l2.69-1.35l-2.53-1.29l-2.69 1.35z" fill="#fad32a"/><path d="M220.23 676.46l2.69-1.33l-2.53-1.3l-2.69 1.33z" fill="#f9d329"/><path d="M225.45 676.45l2.69-1.31l-2.53-1.31l-2.69 1.31z" fill="#f9d329"/><path d="M230.67 676.47l2.69-1.29l-2.53-1.33l-2.69 1.29z" fill="#f9d429"/><path d="M235.9 676.52l2.69-1.28l-2.53-1.34l-2.69 1.28z" fill="#f9d329"/><path d="M241.12 676.61l2.69-1.27l-2.53-1.36l-2.69 1.26z" fill="#f9d329"/><path d="M246.34 676.73l2.69-1.25l-2.53-1.38l-2.69 1.25z" fill="#f9d329"/><path d="M251.56 676.88l2.69-1.24l-2.53-1.41l-2.69 1.24z" fill="#fad32a"/><path d="M256.78 677.08l2.69-1.23l-2.53-1.44l-2.69 1.23z" fill="#fad32a"/><path d="M262 677.32l2.69-1.23l-2.53-1.48l-2.69 1.23z" fill="#fad22a"/><path d="M267.23 677.62l2.69-1.22l-2.53-1.52l-2.69 1.22z" fill="#fad12b"/><path d="M272.45 677.98l2.69-1.21l-2.53-1.58l-2.69 1.21z" fill="#fbd12b"/><path d="M277.67 678.42l2.69-1.21l-2.53-1.65l-2.69 1.21z" fill="#fbd02c"/><path d="M282.89 678.97l2.69-1.2l-2.53-1.76l-2.69 1.2z" fill="#fcce2d"/><path d="M288.11 679.68l2.69-1.2l-2.53-1.91l-2.69 1.2z" fill="#fccd2f"/><path d="M293.33 680.62l2.69-1.19l-2.53-2.14l-2.69 1.19z" fill="#fdca31"/><path d="M298.55 682l2.69-1.19l-2.53-2.57l-2.69 1.19z" fill="#fec734"/><path d="M303.78 684.44l2.69-1.19l-2.53-3.62l-2.69 1.19z" fill="#fec13a"/><path d="M160.11 684.84l2.69-3.67l-2.53-1.23l-2.69 3.67z" fill="#febf3c"/><path d="M165.33 682.41l2.69-2.58l-2.53-1.23l-2.69 2.58z" fill="#fec635"/><path d="M170.55 681.06l2.69-2.14l-2.53-1.24l-2.69 2.13z" fill="#fec932"/><path d="M175.77 680.17l2.69-1.89l-2.53-1.24l-2.69 1.89z" fill="#fdcc30"/><path d="M180.99 679.53l2.69-1.74l-2.53-1.25l-2.69 1.74z" fill="#fccd2e"/><path d="M186.21 679.04l2.69-1.63l-2.53-1.25l-2.69 1.63z" fill="#fbcf2d"/><path d="M191.43 678.67l2.69-1.55l-2.53-1.26l-2.69 1.55z" fill="#fbd02c"/><path d="M196.66 678.39l2.69-1.49l-2.53-1.27l-2.69 1.49z" fill="#fbd12b"/><path d="M201.88 678.17l2.69-1.45l-2.53-1.27l-2.69 1.45z" fill="#fad12b"/><path d="M207.1 678l2.69-1.41l-2.53-1.28l-2.69 1.41z" fill="#fad22b"/><path d="M212.32 677.89l2.69-1.38l-2.53-1.29l-2.69 1.38z" fill="#fad22a"/><path d="M217.54 677.81l2.69-1.35l-2.53-1.3l-2.69 1.35z" fill="#fad22a"/><path d="M222.76 677.78l2.69-1.33l-2.53-1.32l-2.69 1.33z" fill="#fad32a"/><path d="M227.98 677.78l2.69-1.31l-2.53-1.33l-2.69 1.31z" fill="#fad32a"/><path d="M233.21 677.82l2.69-1.29l-2.53-1.35l-2.69 1.29z" fill="#fad32a"/><path d="M238.43 677.89l2.69-1.28l-2.53-1.36l-2.69 1.28z" fill="#fad32a"/><path d="M243.65 677.99l2.69-1.27l-2.53-1.39l-2.69 1.27z" fill="#fad32a"/><path d="M248.87 678.14l2.69-1.25l-2.53-1.41l-2.69 1.25z" fill="#fad22a"/><path d="M254.09 678.33l2.69-1.24l-2.53-1.44l-2.69 1.24z" fill="#fad22a"/><path d="M259.31 678.56l2.69-1.24l-2.53-1.48l-2.69 1.23z" fill="#fad22b"/><path d="M264.54 678.85l2.69-1.23l-2.53-1.52l-2.69 1.23z" fill="#fbd12b"/><path d="M269.76 679.2l2.69-1.22l-2.53-1.58l-2.69 1.22z" fill="#fbd02c"/><path d="M274.98 679.64l2.69-1.21l-2.53-1.66l-2.69 1.21z" fill="#fbcf2d"/><path d="M280.2 680.18l2.69-1.21l-2.53-1.76l-2.69 1.21z" fill="#fcce2e"/><path d="M285.42 680.88l2.69-1.2l-2.53-1.91l-2.69 1.2z" fill="#fdcc2f"/><path d="M290.64 681.82l2.69-1.2l-2.53-2.14l-2.69 1.2z" fill="#fdca31"/><path d="M295.86 683.2l2.69-1.2l-2.53-2.57l-2.69 1.19z" fill="#fec634"/><path d="M301.09 685.63l2.69-1.2l-2.53-3.63l-2.69 1.19z" fill="#fec03b"/><path d="M162.64 686.08l2.69-3.68l-2.53-1.24l-2.69 3.67z" fill="#febf3c"/><path d="M167.86 683.65l2.69-2.59l-2.53-1.24l-2.69 2.58z" fill="#fec535"/><path d="M173.08 682.31l2.69-2.14l-2.53-1.24l-2.69 2.14z" fill="#fec932"/><path d="M178.3 681.42l2.69-1.89l-2.53-1.25l-2.69 1.89z" fill="#fdcb30"/><path d="M183.52 680.78l2.69-1.74l-2.53-1.25l-2.69 1.74z" fill="#fccd2e"/><path d="M188.74 680.3l2.69-1.63l-2.53-1.26l-2.69 1.63z" fill="#fcce2d"/><path d="M193.97 679.94l2.69-1.55l-2.53-1.27l-2.69 1.55z" fill="#fbcf2c"/><path d="M199.19 679.66l2.69-1.49l-2.53-1.27l-2.69 1.49z" fill="#fbd02c"/><path d="M204.41 679.45l2.69-1.45l-2.53-1.28l-2.69 1.45z" fill="#fbd12b"/><path d="M209.63 679.3l2.69-1.41l-2.53-1.29l-2.69 1.41z" fill="#fad12b"/><path d="M214.85 679.19l2.69-1.38l-2.53-1.3l-2.69 1.38z" fill="#fad22b"/><path d="M220.07 679.13l2.69-1.35l-2.53-1.32l-2.69 1.35z" fill="#fad22a"/><path d="M225.3 679.11l2.69-1.33l-2.53-1.33l-2.69 1.33z" fill="#fad22a"/><path d="M230.52 679.13l2.69-1.31l-2.53-1.35l-2.69 1.31z" fill="#fad22a"/><path d="M235.74 679.18l2.69-1.29l-2.53-1.36l-2.69 1.29z" fill="#fad22a"/><path d="M240.96 679.27l2.69-1.28l-2.53-1.39l-2.69 1.28z" fill="#fad22a"/><path d="M246.18 679.41l2.69-1.27l-2.53-1.41l-2.69 1.27z" fill="#fad22b"/><path d="M251.4 679.58l2.69-1.26l-2.53-1.44l-2.69 1.25z" fill="#fad12b"/><path d="M256.62 679.8l2.69-1.25l-2.53-1.48l-2.69 1.24z" fill="#fad12b"/><path d="M261.85 680.08l2.69-1.24l-2.53-1.52l-2.69 1.24z" fill="#fbd02c"/><path d="M267.07 680.43l2.69-1.23l-2.53-1.58l-2.69 1.23z" fill="#fbd02c"/><path d="M272.29 680.86l2.69-1.22l-2.53-1.66l-2.69 1.22z" fill="#fccf2d"/><path d="M277.51 681.4l2.69-1.22l-2.53-1.76l-2.69 1.21z" fill="#fccd2e"/><path d="M282.73 682.09l2.69-1.21l-2.53-1.91l-2.69 1.21z" fill="#fdcc2f"/><path d="M287.95 683.03l2.69-1.21l-2.53-2.15l-2.69 1.2z" fill="#fdc931"/><path d="M293.17 684.4l2.69-1.2l-2.53-2.58l-2.69 1.2z" fill="#fec634"/><path d="M298.4 686.84l2.69-1.2l-2.53-3.63l-2.69 1.2z" fill="#fec03b"/><path d="M165.17 687.33l2.69-3.68l-2.53-1.24l-2.69 3.68z" fill="#febf3d"/><path d="M170.39 684.9l2.69-2.59l-2.53-1.25l-2.69 2.59z" fill="#fec536"/><path d="M175.61 683.56l2.69-2.14l-2.53-1.25l-2.69 2.14z" fill="#fec832"/><path d="M180.83 682.68l2.69-1.9l-2.53-1.26l-2.69 1.89z" fill="#fdcb30"/><path d="M186.05 682.05l2.69-1.74l-2.53-1.26l-2.69 1.74z" fill="#fccc2f"/><path d="M191.28 681.57l2.69-1.63l-2.53-1.27l-2.69 1.63z" fill="#fcce2e"/><path d="M196.5 681.22l2.69-1.56l-2.53-1.28l-2.69 1.55z" fill="#fbcf2d"/><path d="M201.72 680.95l2.69-1.5l-2.53-1.28l-2.69 1.49z" fill="#fbd02c"/><path d="M206.94 680.75l2.69-1.45l-2.53-1.29l-2.69 1.45z" fill="#fbd02c"/><path d="M212.16 680.6l2.69-1.41l-2.53-1.3l-2.69 1.41z" fill="#fbd12b"/><path d="M217.38 680.51l2.69-1.38l-2.53-1.32l-2.69 1.38z" fill="#fad12b"/><path d="M222.61 680.46l2.69-1.35l-2.53-1.33l-2.69 1.35z" fill="#fad12b"/><path d="M227.83 680.46l2.69-1.33l-2.53-1.35l-2.69 1.33z" fill="#fad12b"/><path d="M233.05 680.49l2.69-1.31l-2.53-1.37l-2.69 1.31z" fill="#fad12b"/><path d="M238.27 680.57l2.69-1.3l-2.53-1.39l-2.69 1.29z" fill="#fad12b"/><path d="M243.49 680.69l2.69-1.28l-2.53-1.41l-2.69 1.28z" fill="#fad12b"/><path d="M248.71 680.85l2.69-1.27l-2.53-1.44l-2.69 1.27z" fill="#fbd12b"/><path d="M253.93 681.06l2.69-1.26l-2.53-1.48l-2.69 1.26z" fill="#fbd02c"/><path d="M259.16 681.33l2.69-1.25l-2.53-1.52l-2.69 1.25z" fill="#fbd02c"/><path d="M264.38 681.67l2.69-1.24l-2.53-1.58l-2.69 1.24z" fill="#fbcf2d"/><path d="M269.6 682.09l2.69-1.23l-2.53-1.66l-2.69 1.23z" fill="#fcce2d"/><path d="M274.82 682.62l2.69-1.22l-2.53-1.76l-2.69 1.22z" fill="#fccd2e"/><path d="M280.04 683.31l2.69-1.22l-2.53-1.91l-2.69 1.22z" fill="#fdcb30"/><path d="M285.26 684.24l2.69-1.21l-2.53-2.15l-2.69 1.21z" fill="#fec932"/><path d="M290.48 685.61l2.69-1.21l-2.53-2.58l-2.69 1.21z" fill="#fec635"/><path d="M295.71 688.05l2.69-1.21l-2.53-3.64l-2.69 1.2z" fill="#fec03b"/><path d="M167.7 688.59l2.69-3.69l-2.53-1.25l-2.69 3.68z" fill="#fdbe3d"/><path d="M172.92 686.15l2.69-2.59l-2.53-1.25l-2.69 2.59z" fill="#ffc436"/><path d="M178.14 684.82l2.69-2.14l-2.53-1.26l-2.69 2.14z" fill="#fec833"/><path d="M183.36 683.94l2.69-1.9l-2.53-1.26l-2.69 1.9z" fill="#fdca31"/><path d="M188.59 683.32l2.69-1.74l-2.53-1.27l-2.69 1.74z" fill="#fdcc2f"/><path d="M193.81 682.85l2.69-1.64l-2.53-1.28l-2.69 1.63z" fill="#fccd2e"/><path d="M199.03 682.5l2.69-1.56l-2.53-1.29l-2.69 1.56z" fill="#fcce2d"/><path d="M204.25 682.24l2.69-1.5l-2.53-1.29l-2.69 1.5z" fill="#fbcf2d"/><path d="M209.47 682.05l2.69-1.45l-2.53-1.31l-2.69 1.45z" fill="#fbd02c"/><path d="M214.69 681.92l2.69-1.41l-2.53-1.32l-2.69 1.41z" fill="#fbd02c"/><path d="M219.92 681.84l2.69-1.38l-2.53-1.33l-2.69 1.38z" fill="#fbd02c"/><path d="M225.14 681.81l2.69-1.35l-2.53-1.35l-2.69 1.35z" fill="#fbd12b"/><path d="M230.36 681.83l2.69-1.33l-2.53-1.37l-2.69 1.33z" fill="#fbd12b"/><path d="M235.58 681.88l2.69-1.31l-2.53-1.39l-2.69 1.31z" fill="#fbd12b"/><path d="M240.8 681.98l2.69-1.3l-2.53-1.41l-2.69 1.3z" fill="#fbd02c"/><path d="M246.02 682.13l2.69-1.28l-2.53-1.44l-2.69 1.28z" fill="#fbd02c"/><path d="M251.24 682.33l2.69-1.27l-2.53-1.48l-2.69 1.27z" fill="#fbd02c"/><path d="M256.47 682.59l2.69-1.26l-2.53-1.53l-2.69 1.26z" fill="#fbcf2c"/><path d="M261.69 682.92l2.69-1.25l-2.53-1.58l-2.69 1.25z" fill="#fccf2d"/><path d="M266.91 683.33l2.69-1.24l-2.53-1.66l-2.69 1.24z" fill="#fcce2e"/><path d="M272.13 683.85l2.69-1.23l-2.53-1.76l-2.69 1.23z" fill="#fccc2f"/><path d="M277.35 684.54l2.69-1.23l-2.53-1.91l-2.69 1.22z" fill="#fdcb30"/><path d="M282.57 685.46l2.69-1.22l-2.53-2.15l-2.69 1.22z" fill="#fec932"/><path d="M287.79 686.83l2.69-1.22l-2.53-2.58l-2.69 1.21z" fill="#fec535"/><path d="M293.02 689.26l2.69-1.22l-2.53-3.64l-2.69 1.21z" fill="#febf3c"/><path d="M170.23 689.85l2.69-3.69l-2.53-1.26l-2.69 3.69z" fill="#fdbe3e"/><path d="M175.45 687.42l2.69-2.6l-2.53-1.26l-2.69 2.59z" fill="#ffc437"/><path d="M180.67 686.09l2.69-2.15l-2.53-1.26l-2.69 2.14z" fill="#fec733"/><path d="M185.9 685.22l2.69-1.9l-2.53-1.27l-2.69 1.9z" fill="#fdca31"/><path d="M191.12 684.6l2.69-1.74l-2.53-1.28l-2.69 1.74z" fill="#fdcb30"/><path d="M196.34 684.14l2.69-1.64l-2.53-1.29l-2.69 1.64z" fill="#fccd2f"/><path d="M201.56 683.8l2.69-1.56l-2.53-1.3l-2.69 1.56z" fill="#fcce2e"/><path d="M206.78 683.55l2.69-1.5l-2.53-1.31l-2.69 1.5z" fill="#fcce2d"/><path d="M212 683.37l2.69-1.45l-2.53-1.32l-2.69 1.45z" fill="#fbcf2d"/><path d="M217.23 683.26l2.69-1.41l-2.53-1.33l-2.69 1.41z" fill="#fbcf2c"/><path d="M222.45 683.19l2.69-1.38l-2.53-1.35l-2.69 1.38z" fill="#fbd02c"/><path d="M227.67 683.18l2.69-1.36l-2.53-1.37l-2.69 1.35z" fill="#fbd02c"/><path d="M232.89 683.22l2.69-1.33l-2.53-1.39l-2.69 1.33z" fill="#fbd02c"/><path d="M238.11 683.3l2.69-1.31l-2.53-1.41l-2.69 1.31z" fill="#fbd02c"/><path d="M243.33 683.43l2.69-1.3l-2.53-1.44l-2.69 1.3z" fill="#fbd02c"/><path d="M248.55 683.61l2.69-1.28l-2.53-1.48l-2.69 1.28z" fill="#fbcf2d"/><path d="M253.78 683.86l2.69-1.27l-2.53-1.53l-2.69 1.27z" fill="#fbcf2d"/><path d="M259 684.18l2.69-1.26l-2.53-1.59l-2.69 1.26z" fill="#fcce2d"/><path d="M264.22 684.58l2.69-1.25l-2.53-1.66l-2.69 1.25z" fill="#fccd2e"/><path d="M269.44 685.09l2.69-1.24l-2.53-1.76l-2.69 1.24z" fill="#fdcc2f"/><path d="M274.66 685.77l2.69-1.23l-2.53-1.92l-2.69 1.23z" fill="#fdca31"/><path d="M279.88 686.69l2.69-1.23l-2.53-2.15l-2.69 1.23z" fill="#fec833"/><path d="M285.1 688.05l2.69-1.22l-2.53-2.59l-2.69 1.22z" fill="#fec536"/><path d="M290.33 690.48l2.69-1.22l-2.53-3.65l-2.69 1.22z" fill="#febf3d"/><path d="M172.76 691.12l2.69-3.7l-2.53-1.26l-2.69 3.69z" fill="#fdbe3e"/><path d="M177.98 688.69l2.69-2.6l-2.53-1.27l-2.69 2.6z" fill="#ffc337"/><path d="M183.21 687.37l2.69-2.15l-2.53-1.27l-2.69 2.15z" fill="#fec734"/><path d="M188.43 686.5l2.69-1.9l-2.53-1.28l-2.69 1.9z" fill="#fec931"/><path d="M193.65 685.89l2.69-1.75l-2.53-1.29l-2.69 1.74z" fill="#fdcb30"/><path d="M198.87 685.44l2.69-1.64l-2.53-1.3l-2.69 1.64z" fill="#fccc2f"/><path d="M204.09 685.11l2.69-1.56l-2.53-1.31l-2.69 1.56z" fill="#fccd2e"/><path d="M209.31 684.87l2.69-1.5l-2.53-1.32l-2.69 1.5z" fill="#fcce2e"/><path d="M214.54 684.71l2.69-1.45l-2.53-1.33l-2.69 1.45z" fill="#fcce2d"/><path d="M219.76 684.61l2.69-1.41l-2.53-1.35l-2.69 1.41z" fill="#fbcf2d"/><path d="M224.98 684.56l2.69-1.38l-2.53-1.37l-2.69 1.38z" fill="#fbcf2d"/><path d="M230.2 684.57l2.69-1.36l-2.53-1.39l-2.69 1.36z" fill="#fbcf2d"/><path d="M235.42 684.63l2.69-1.33l-2.53-1.42l-2.69 1.33z" fill="#fbcf2d"/><path d="M240.64 684.75l2.69-1.32l-2.53-1.45l-2.69 1.31z" fill="#fbcf2d"/><path d="M245.86 684.91l2.69-1.3l-2.53-1.48l-2.69 1.3z" fill="#fccf2d"/><path d="M251.09 685.15l2.69-1.29l-2.53-1.53l-2.69 1.28z" fill="#fcce2d"/><path d="M256.31 685.45l2.69-1.27l-2.53-1.59l-2.69 1.27z" fill="#fccd2e"/><path d="M261.53 685.84l2.69-1.26l-2.53-1.66l-2.69 1.26z" fill="#fccd2f"/><path d="M266.75 686.35l2.69-1.25l-2.53-1.77l-2.69 1.25z" fill="#fdcb30"/><path d="M271.97 687.01l2.69-1.24l-2.53-1.92l-2.69 1.24z" fill="#fdca31"/><path d="M277.19 687.93l2.69-1.24l-2.53-2.16l-2.69 1.23z" fill="#fec833"/><path d="M282.41 689.29l2.69-1.23l-2.53-2.59l-2.69 1.23z" fill="#ffc436"/><path d="M287.64 691.71l2.69-1.23l-2.53-3.65l-2.69 1.22z" fill="#fdbe3d"/><path d="M175.3 692.4l2.69-3.71l-2.53-1.27l-2.69 3.7z" fill="#fcbd3f"/><path d="M180.52 689.97l2.69-2.6l-2.53-1.28l-2.69 2.6z" fill="#ffc337"/><path d="M185.74 688.65l2.69-2.15l-2.53-1.28l-2.69 2.15z" fill="#fec634"/><path d="M190.96 687.79l2.69-1.9l-2.53-1.29l-2.69 1.9z" fill="#fec932"/><path d="M196.18 687.19l2.69-1.75l-2.53-1.3l-2.69 1.75z" fill="#fdca31"/><path d="M201.4 686.75l2.69-1.64l-2.53-1.31l-2.69 1.64z" fill="#fdcc30"/><path d="M206.62 686.44l2.69-1.56l-2.53-1.32l-2.69 1.56z" fill="#fccd2f"/><path d="M211.85 686.21l2.69-1.5l-2.53-1.34l-2.69 1.5z" fill="#fccd2e"/><path d="M217.07 686.06l2.69-1.45l-2.53-1.35l-2.69 1.45z" fill="#fcce2e"/><path d="M222.29 685.98l2.69-1.42l-2.53-1.37l-2.69 1.41z" fill="#fcce2d"/><path d="M227.51 685.96l2.69-1.38l-2.53-1.39l-2.69 1.38z" fill="#fcce2d"/><path d="M232.73 685.99l2.69-1.36l-2.53-1.42l-2.69 1.36z" fill="#fcce2d"/><path d="M237.95 686.08l2.69-1.34l-2.53-1.45l-2.69 1.33z" fill="#fcce2d"/><path d="M243.17 686.23l2.69-1.32l-2.53-1.48l-2.69 1.32z" fill="#fcce2e"/><path d="M248.4 686.45l2.69-1.3l-2.53-1.53l-2.69 1.3z" fill="#fccd2e"/><path d="M253.62 686.74l2.69-1.29l-2.53-1.59l-2.69 1.29z" fill="#fccd2f"/><path d="M258.84 687.11l2.69-1.27l-2.53-1.66l-2.69 1.27z" fill="#fdcc2f"/><path d="M264.06 687.61l2.69-1.26l-2.53-1.77l-2.69 1.26z" fill="#fdcb30"/><path d="M269.28 688.27l2.69-1.25l-2.53-1.92l-2.69 1.25z" fill="#fec932"/><path d="M274.5 689.18l2.69-1.25l-2.53-2.16l-2.69 1.24z" fill="#fec734"/><path d="M279.72 690.53l2.69-1.24l-2.53-2.59l-2.69 1.24z" fill="#ffc437"/><path d="M284.95 692.95l2.69-1.24l-2.53-3.66l-2.69 1.23z" fill="#fdbe3e"/><path d="M177.83 693.68l2.69-3.71l-2.53-1.28l-2.69 3.71z" fill="#fcbd40"/><path d="M183.05 691.26l2.69-2.61l-2.53-1.29l-2.69 2.6z" fill="#ffc238"/><path d="M188.27 689.95l2.69-2.15l-2.53-1.29l-2.69 2.15z" fill="#fec635"/><path d="M193.49 689.1l2.69-1.91l-2.53-1.3l-2.69 1.9z" fill="#fec832"/><path d="M198.71 688.5l2.69-1.75l-2.53-1.31l-2.69 1.75z" fill="#fdca31"/><path d="M203.93 688.08l2.69-1.64l-2.53-1.32l-2.69 1.64z" fill="#fdcb30"/><path d="M209.16 687.78l2.69-1.56l-2.53-1.34l-2.69 1.56z" fill="#fdcc2f"/><path d="M214.38 687.57l2.69-1.5l-2.53-1.35l-2.69 1.5z" fill="#fccd2f"/><path d="M219.6 687.44l2.69-1.46l-2.53-1.37l-2.69 1.45z" fill="#fccd2e"/><path d="M224.82 687.38l2.69-1.42l-2.53-1.39l-2.69 1.42z" fill="#fccd2e"/><path d="M230.04 687.38l2.69-1.39l-2.53-1.42l-2.69 1.38z" fill="#fccd2e"/><path d="M235.26 687.44l2.69-1.36l-2.53-1.45l-2.69 1.36z" fill="#fccd2e"/><path d="M240.48 687.57l2.69-1.34l-2.53-1.49l-2.69 1.34z" fill="#fccd2e"/><path d="M245.71 687.77l2.69-1.32l-2.53-1.53l-2.69 1.32z" fill="#fccd2f"/><path d="M250.93 688.04l2.69-1.3l-2.53-1.59l-2.69 1.3z" fill="#fdcc2f"/><path d="M256.15 688.4l2.69-1.29l-2.53-1.67l-2.69 1.29z" fill="#fdcb30"/><path d="M261.37 688.89l2.69-1.28l-2.53-1.77l-2.69 1.27z" fill="#fdca31"/><path d="M266.59 689.54l2.69-1.27l-2.53-1.92l-2.69 1.26z" fill="#fec932"/><path d="M271.81 690.43l2.69-1.26l-2.53-2.16l-2.69 1.25z" fill="#fec634"/><path d="M277.03 691.78l2.69-1.25l-2.53-2.6l-2.69 1.25z" fill="#ffc337"/><path d="M282.26 694.2l2.69-1.25l-2.53-3.67l-2.69 1.24z" fill="#fdbd3e"/><path d="M180.36 694.98l2.69-3.72l-2.53-1.29l-2.69 3.71z" fill="#fbbc40"/><path d="M185.58 692.56l2.69-2.61l-2.53-1.3l-2.69 2.61z" fill="#fec239"/><path d="M190.8 691.25l2.69-2.16l-2.53-1.3l-2.69 2.15z" fill="#fec535"/><path d="M196.02 690.41l2.69-1.91l-2.53-1.31l-2.69 1.91z" fill="#fec833"/><path d="M201.24 689.83l2.69-1.75l-2.53-1.33l-2.69 1.75z" fill="#fec932"/><path d="M206.47 689.42l2.69-1.64l-2.53-1.34l-2.69 1.64z" fill="#fdca31"/><path d="M211.69 689.13l2.69-1.57l-2.53-1.36l-2.69 1.56z" fill="#fdcb30"/><path d="M216.91 688.94l2.69-1.51l-2.53-1.37l-2.69 1.5z" fill="#fdcc2f"/><path d="M222.13 688.83l2.69-1.46l-2.53-1.39l-2.69 1.46z" fill="#fccc2f"/><path d="M227.35 688.8l2.69-1.42l-2.53-1.42l-2.69 1.42z" fill="#fccc2f"/><path d="M232.57 688.83l2.69-1.39l-2.53-1.45l-2.69 1.39z" fill="#fccc2f"/><path d="M237.79 688.93l2.69-1.36l-2.53-1.49l-2.69 1.36z" fill="#fccc2f"/><path d="M243.02 689.11l2.69-1.34l-2.53-1.53l-2.69 1.34z" fill="#fdcc2f"/><path d="M248.24 689.36l2.69-1.32l-2.53-1.59l-2.69 1.32z" fill="#fdcb30"/><path d="M253.46 689.71l2.69-1.3l-2.53-1.67l-2.69 1.3z" fill="#fdcb30"/><path d="M258.68 690.18l2.69-1.29l-2.53-1.77l-2.69 1.29z" fill="#fdca31"/><path d="M263.9 690.81l2.69-1.28l-2.53-1.92l-2.69 1.28z" fill="#fec833"/><path d="M269.12 691.7l2.69-1.27l-2.53-2.16l-2.69 1.27z" fill="#fec635"/><path d="M274.35 693.04l2.69-1.26l-2.53-2.6l-2.69 1.26z" fill="#ffc338"/><path d="M279.57 695.46l2.69-1.26l-2.53-3.67l-2.69 1.25z" fill="#fcbd3f"/><path d="M182.89 696.29l2.69-3.73l-2.53-1.3l-2.69 3.72z" fill="#fbbc41"/><path d="M188.11 693.87l2.69-2.62l-2.53-1.31l-2.69 2.61z" fill="#fec139"/><path d="M193.33 692.57l2.69-2.16l-2.53-1.32l-2.69 2.16z" fill="#fec536"/><path d="M198.55 691.74l2.69-1.91l-2.53-1.33l-2.69 1.91z" fill="#fec734"/><path d="M203.78 691.18l2.69-1.76l-2.53-1.34l-2.69 1.75z" fill="#fec932"/><path d="M209 690.78l2.69-1.65l-2.53-1.36l-2.69 1.64z" fill="#fdca31"/><path d="M214.22 690.51l2.69-1.57l-2.53-1.38l-2.69 1.57z" fill="#fdca30"/><path d="M219.44 690.34l2.69-1.51l-2.53-1.4l-2.69 1.51z" fill="#fdcb30"/><path d="M224.66 690.26l2.69-1.46l-2.53-1.42l-2.69 1.46z" fill="#fdcb30"/><path d="M229.88 690.25l2.69-1.42l-2.53-1.45l-2.69 1.42z" fill="#fdcb30"/><path d="M235.1 690.32l2.69-1.39l-2.53-1.49l-2.69 1.39z" fill="#fdcb30"/><path d="M240.33 690.47l2.69-1.36l-2.53-1.54l-2.69 1.36z" fill="#fdcb30"/><path d="M245.55 690.7l2.69-1.34l-2.53-1.59l-2.69 1.34z" fill="#fdcb30"/><path d="M250.77 691.03l2.69-1.32l-2.53-1.67l-2.69 1.32z" fill="#fdca31"/><path d="M255.99 691.49l2.69-1.31l-2.53-1.78l-2.69 1.3z" fill="#fec932"/><path d="M261.21 692.11l2.69-1.29l-2.53-1.93l-2.69 1.29z" fill="#fec733"/><path d="M266.43 692.99l2.69-1.28l-2.53-2.17l-2.69 1.28z" fill="#fec535"/><path d="M271.66 694.31l2.69-1.27l-2.53-2.61l-2.69 1.27z" fill="#fec239"/><path d="M276.88 696.73l2.69-1.27l-2.53-3.68l-2.69 1.26z" fill="#fbbd40"/><path d="M185.42 697.61l2.69-3.74l-2.53-1.31l-2.69 3.73z" fill="#fabc42"/><path d="M190.64 695.2l2.69-2.62l-2.53-1.32l-2.69 2.62z" fill="#fec13a"/><path d="M195.86 693.91l2.69-2.17l-2.53-1.33l-2.69 2.16z" fill="#ffc436"/><path d="M201.09 693.09l2.69-1.92l-2.53-1.34l-2.69 1.91z" fill="#fec634"/><path d="M206.31 692.54l2.69-1.76l-2.53-1.36l-2.69 1.76z" fill="#fec833"/><path d="M211.53 692.16l2.69-1.65l-2.53-1.38l-2.69 1.65z" fill="#fec932"/><path d="M216.75 691.91l2.69-1.57l-2.53-1.4l-2.69 1.57z" fill="#fdca31"/><path d="M221.97 691.77l2.69-1.51l-2.53-1.42l-2.69 1.51z" fill="#fdca31"/><path d="M227.19 691.71l2.69-1.46l-2.53-1.45l-2.69 1.46z" fill="#fdca31"/><path d="M232.41 691.75l2.69-1.42l-2.53-1.49l-2.69 1.42z" fill="#fdca31"/><path d="M237.64 691.86l2.69-1.39l-2.53-1.54l-2.69 1.39z" fill="#fdca31"/><path d="M242.86 692.07l2.69-1.37l-2.53-1.6l-2.69 1.36z" fill="#fdca31"/><path d="M248.08 692.38l2.69-1.34l-2.53-1.67l-2.69 1.34z" fill="#fec932"/><path d="M253.3 692.81l2.69-1.33l-2.53-1.78l-2.69 1.32z" fill="#fec832"/><path d="M258.52 693.42l2.69-1.31l-2.53-1.93l-2.69 1.31z" fill="#fec734"/><path d="M263.74 694.28l2.69-1.3l-2.53-2.17l-2.69 1.29z" fill="#ffc536"/><path d="M268.97 695.6l2.69-1.29l-2.53-2.61l-2.69 1.28z" fill="#fec139"/><path d="M274.19 698.01l2.69-1.28l-2.53-3.69l-2.69 1.27z" fill="#fbbc41"/><path d="M187.95 698.94l2.69-3.74l-2.53-1.33l-2.69 3.74z" fill="#f9bb43"/><path d="M193.17 696.54l2.69-2.63l-2.53-1.33l-2.69 2.62z" fill="#fec03b"/><path d="M198.4 695.26l2.69-2.17l-2.53-1.35l-2.69 2.17z" fill="#ffc337"/><path d="M203.62 694.46l2.69-1.92l-2.53-1.36l-2.69 1.92z" fill="#fec635"/><path d="M208.84 693.92l2.69-1.76l-2.53-1.38l-2.69 1.76z" fill="#fec734"/><path d="M214.06 693.56l2.69-1.65l-2.53-1.4l-2.69 1.65z" fill="#fec833"/><path d="M219.28 693.34l2.69-1.57l-2.53-1.43l-2.69 1.57z" fill="#fec932"/><path d="M224.5 693.23l2.69-1.51l-2.53-1.46l-2.69 1.51z" fill="#fec932"/><path d="M229.72 693.21l2.69-1.46l-2.53-1.49l-2.69 1.46z" fill="#fec931"/><path d="M234.95 693.29l2.69-1.43l-2.53-1.54l-2.69 1.42z" fill="#fec932"/><path d="M240.17 693.46l2.69-1.39l-2.53-1.6l-2.69 1.39z" fill="#fec932"/><path d="M245.39 693.74l2.69-1.37l-2.53-1.67l-2.69 1.37z" fill="#fec832"/><path d="M250.61 694.16l2.69-1.35l-2.53-1.78l-2.69 1.34z" fill="#fec733"/><path d="M255.83 694.75l2.69-1.33l-2.53-1.93l-2.69 1.33z" fill="#fec635"/><path d="M261.05 695.6l2.69-1.31l-2.53-2.17l-2.69 1.31z" fill="#ffc437"/><path d="M266.28 696.91l2.69-1.3l-2.53-2.62l-2.69 1.3z" fill="#fec13a"/><path d="M271.5 699.31l2.69-1.3l-2.53-3.7l-2.69 1.29z" fill="#fabc42"/><path d="M190.48 700.29l2.69-3.75l-2.53-1.34l-2.69 3.74z" fill="#f9bb44"/><path d="M195.71 697.89l2.69-2.63l-2.53-1.35l-2.69 2.63z" fill="#febf3c"/><path d="M200.93 696.63l2.69-2.17l-2.53-1.37l-2.69 2.17z" fill="#ffc338"/><path d="M206.15 695.84l2.69-1.92l-2.53-1.38l-2.69 1.92z" fill="#fec536"/><path d="M211.37 695.33l2.69-1.76l-2.53-1.4l-2.69 1.76z" fill="#fec634"/><path d="M216.59 694.99l2.69-1.65l-2.53-1.43l-2.69 1.65z" fill="#fec733"/><path d="M221.81 694.8l2.69-1.57l-2.53-1.46l-2.69 1.57z" fill="#fec833"/><path d="M227.03 694.72l2.69-1.51l-2.53-1.5l-2.69 1.51z" fill="#fec833"/><path d="M232.26 694.75l2.69-1.47l-2.53-1.54l-2.69 1.46z" fill="#fec832"/><path d="M237.48 694.89l2.69-1.43l-2.53-1.6l-2.69 1.43z" fill="#fec833"/><path d="M242.7 695.14l2.69-1.4l-2.53-1.68l-2.69 1.39z" fill="#fec733"/><path d="M247.92 695.53l2.69-1.37l-2.53-1.78l-2.69 1.37z" fill="#fec634"/><path d="M253.14 696.1l2.69-1.35l-2.53-1.94l-2.69 1.35z" fill="#fec535"/><path d="M258.36 696.93l2.69-1.33l-2.53-2.18l-2.69 1.33z" fill="#ffc337"/><path d="M263.59 698.22l2.69-1.32l-2.53-2.62l-2.69 1.31z" fill="#fec03b"/><path d="M268.81 700.62l2.69-1.31l-2.53-3.7l-2.69 1.3z" fill="#fabb42"/><path d="M193.02 701.65l2.69-3.76l-2.53-1.36l-2.69 3.75z" fill="#f8ba44"/><path d="M198.24 699.27l2.69-2.64l-2.53-1.37l-2.69 2.63z" fill="#febf3d"/><path d="M203.46 698.02l2.69-2.18l-2.53-1.39l-2.69 2.17z" fill="#fec239"/><path d="M208.68 697.25l2.69-1.93l-2.53-1.41l-2.69 1.92z" fill="#ffc436"/><path d="M213.9 696.76l2.69-1.77l-2.53-1.43l-2.69 1.76z" fill="#fec535"/><path d="M219.12 696.46l2.69-1.66l-2.53-1.46l-2.69 1.65z" fill="#fec634"/><path d="M224.35 696.3l2.69-1.58l-2.53-1.5l-2.69 1.57z" fill="#fec734"/><path d="M229.57 696.27l2.69-1.52l-2.53-1.54l-2.69 1.51z" fill="#fec734"/><path d="M234.79 696.36l2.69-1.47l-2.53-1.6l-2.69 1.47z" fill="#fec734"/><path d="M240.01 696.57l2.69-1.43l-2.53-1.68l-2.69 1.43z" fill="#fec634"/><path d="M245.23 696.93l2.69-1.4l-2.53-1.79l-2.69 1.4z" fill="#fec635"/><path d="M250.45 697.47l2.69-1.38l-2.53-1.94l-2.69 1.37z" fill="#ffc436"/><path d="M255.67 698.29l2.69-1.36l-2.53-2.18l-2.69 1.35z" fill="#ffc238"/><path d="M260.9 699.56l2.69-1.34l-2.53-2.63l-2.69 1.33z" fill="#febf3c"/><path d="M266.12 701.95l2.69-1.33l-2.53-3.71l-2.69 1.32z" fill="#f9bb43"/><path d="M195.55 703.04l2.69-3.77l-2.53-1.38l-2.69 3.76z" fill="#f7ba45"/><path d="M200.77 700.66l2.69-2.64l-2.53-1.39l-2.69 2.64z" fill="#fdbe3e"/><path d="M205.99 699.44l2.69-2.18l-2.53-1.41l-2.69 2.18z" fill="#fec13a"/><path d="M211.21 698.69l2.69-1.93l-2.53-1.43l-2.69 1.93z" fill="#ffc337"/><path d="M216.43 698.23l2.69-1.77l-2.53-1.46l-2.69 1.77z" fill="#ffc436"/><path d="M221.66 697.96l2.69-1.66l-2.53-1.5l-2.69 1.66z" fill="#fec535"/><path d="M226.88 697.85l2.69-1.58l-2.53-1.55l-2.69 1.58z" fill="#fec535"/><path d="M232.1 697.88l2.69-1.52l-2.53-1.61l-2.69 1.52z" fill="#fec635"/><path d="M237.32 698.05l2.69-1.47l-2.53-1.68l-2.69 1.47z" fill="#fec535"/><path d="M242.54 698.37l2.69-1.44l-2.53-1.79l-2.69 1.43z" fill="#ffc436"/><path d="M247.76 698.88l2.69-1.4l-2.53-1.94l-2.69 1.4z" fill="#ffc337"/><path d="M252.98 699.67l2.69-1.38l-2.53-2.19l-2.69 1.38z" fill="#fec139"/><path d="M258.21 700.93l2.69-1.36l-2.53-2.63l-2.69 1.36z" fill="#febe3d"/><path d="M263.43 703.3l2.69-1.35l-2.53-3.72l-2.69 1.34z" fill="#f8ba44"/><path d="M198.08 704.45l2.69-3.78l-2.53-1.4l-2.69 3.77z" fill="#f6ba46"/><path d="M203.3 702.09l2.69-2.65l-2.53-1.42l-2.69 2.64z" fill="#fcbd3f"/><path d="M208.52 700.88l2.69-2.19l-2.53-1.44l-2.69 2.18z" fill="#fec03b"/><path d="M213.74 700.16l2.69-1.93l-2.53-1.47l-2.69 1.93z" fill="#fec239"/><path d="M218.97 699.74l2.69-1.77l-2.53-1.5l-2.69 1.77z" fill="#ffc337"/><path d="M224.19 699.52l2.69-1.66l-2.53-1.55l-2.69 1.66z" fill="#ffc437"/><path d="M229.41 699.47l2.69-1.58l-2.53-1.61l-2.69 1.58z" fill="#ffc436"/><path d="M234.63 699.57l2.69-1.52l-2.53-1.69l-2.69 1.52z" fill="#ffc436"/><path d="M239.85 699.84l2.69-1.48l-2.53-1.79l-2.69 1.47z" fill="#ffc337"/><path d="M245.07 700.32l2.69-1.44l-2.53-1.95l-2.69 1.44z" fill="#ffc238"/><path d="M250.29 701.08l2.69-1.41l-2.53-2.19l-2.69 1.4z" fill="#fec13a"/><path d="M255.52 702.31l2.69-1.39l-2.53-2.64l-2.69 1.38z" fill="#fdbe3e"/><path d="M260.74 704.67l2.69-1.37l-2.53-3.73l-2.69 1.36z" fill="#f7ba45"/><path d="M200.61 705.88l2.69-3.79l-2.53-1.42l-2.69 3.78z" fill="#f4ba47"/><path d="M205.83 703.54l2.69-2.66l-2.53-1.44l-2.69 2.65z" fill="#fbbd40"/><path d="M211.05 702.36l2.69-2.19l-2.53-1.47l-2.69 2.19z" fill="#febf3c"/><path d="M216.28 701.68l2.69-1.94l-2.53-1.51l-2.69 1.93z" fill="#fec13a"/><path d="M221.5 701.3l2.69-1.78l-2.53-1.55l-2.69 1.77z" fill="#fec239"/><path d="M226.72 701.13l2.69-1.67l-2.53-1.61l-2.69 1.66z" fill="#ffc338"/><path d="M231.94 701.16l2.69-1.59l-2.53-1.69l-2.69 1.58z" fill="#ffc338"/><path d="M237.16 701.37l2.69-1.53l-2.53-1.8l-2.69 1.52z" fill="#fec238"/><path d="M242.38 701.8l2.69-1.48l-2.53-1.95l-2.69 1.48z" fill="#fec13a"/><path d="M247.6 702.52l2.69-1.45l-2.53-2.2l-2.69 1.44z" fill="#fec03c"/><path d="M252.83 703.73l2.69-1.42l-2.53-2.65l-2.69 1.41z" fill="#fcbd3f"/><path d="M258.05 706.07l2.69-1.4l-2.53-3.74l-2.69 1.39z" fill="#f5ba46"/><path d="M203.14 707.35l2.69-3.81l-2.53-1.45l-2.69 3.79z" fill="#f3ba48"/><path d="M208.36 705.02l2.69-2.67l-2.53-1.48l-2.69 2.66z" fill="#fabc41"/><path d="M213.59 703.88l2.69-2.2l-2.53-1.51l-2.69 2.19z" fill="#fdbe3d"/><path d="M218.81 703.24l2.69-1.95l-2.53-1.56l-2.69 1.94z" fill="#fec03b"/><path d="M224.03 702.92l2.69-1.78l-2.53-1.62l-2.69 1.78z" fill="#fec13a"/><path d="M229.25 702.83l2.69-1.67l-2.53-1.69l-2.69 1.67z" fill="#fec13a"/><path d="M234.47 702.97l2.69-1.59l-2.53-1.8l-2.69 1.59z" fill="#fec13a"/><path d="M239.69 703.34l2.69-1.53l-2.53-1.96l-2.69 1.53z" fill="#fec03b"/><path d="M244.91 704.01l2.69-1.49l-2.53-2.2l-2.69 1.48z" fill="#febe3d"/><path d="M250.14 705.18l2.69-1.45l-2.53-2.65l-2.69 1.45z" fill="#fbbc41"/><path d="M255.36 707.5l2.69-1.43l-2.53-3.76l-2.69 1.42z" fill="#f4ba47"/><path d="M205.67 708.85l2.69-3.82l-2.53-1.49l-2.69 3.81z" fill="#f1b949"/><path d="M210.9 706.55l2.69-2.68l-2.53-1.52l-2.69 2.67z" fill="#f9bb43"/><path d="M216.12 705.45l2.69-2.21l-2.53-1.56l-2.69 2.2z" fill="#fcbd3f"/><path d="M221.34 704.87l2.69-1.95l-2.53-1.62l-2.69 1.95z" fill="#febe3d"/><path d="M226.56 704.63l2.69-1.79l-2.53-1.7l-2.69 1.78z" fill="#febf3c"/><path d="M231.78 704.65l2.69-1.68l-2.53-1.81l-2.69 1.67z" fill="#febf3c"/><path d="M237 704.94l2.69-1.6l-2.53-1.96l-2.69 1.59z" fill="#febf3d"/><path d="M242.22 705.55l2.69-1.54l-2.53-2.21l-2.69 1.53z" fill="#fcbd3e"/><path d="M247.45 706.68l2.69-1.5l-2.53-2.66l-2.69 1.49z" fill="#fabc42"/><path d="M252.67 708.97l2.69-1.47l-2.53-3.77l-2.69 1.45z" fill="#f2b948"/><path d="M208.21 710.39l2.69-3.84l-2.53-1.53l-2.69 3.82z" fill="#f0b94a"/><path d="M213.43 708.13l2.69-2.69l-2.53-1.57l-2.69 2.68z" fill="#f8ba44"/><path d="M218.65 707.09l2.69-2.22l-2.53-1.63l-2.69 2.21z" fill="#fbbc41"/><path d="M223.87 706.58l2.69-1.96l-2.53-1.71l-2.69 1.95z" fill="#fcbd3f"/><path d="M229.09 706.44l2.69-1.8l-2.53-1.81l-2.69 1.79z" fill="#fdbe3e"/><path d="M234.31 706.62l2.69-1.69l-2.53-1.97l-2.69 1.68z" fill="#fcbd3f"/><path d="M239.53 707.16l2.69-1.61l-2.53-2.22l-2.69 1.6z" fill="#fbbc40"/><path d="M244.76 708.23l2.69-1.55l-2.53-2.67l-2.69 1.54z" fill="#f9bb44"/><path d="M249.98 710.48l2.69-1.51l-2.53-3.78l-2.69 1.5z" fill="#f1b94a"/><path d="M210.74 711.99l2.69-3.85l-2.53-1.58l-2.69 3.84z" fill="#eeb94b"/><path d="M215.96 709.78l2.69-2.7l-2.53-1.64l-2.69 2.69z" fill="#f6ba46"/><path d="M221.18 708.81l2.69-2.22l-2.53-1.71l-2.69 2.22z" fill="#f9bb43"/><path d="M226.4 708.41l2.69-1.97l-2.53-1.82l-2.69 1.96z" fill="#fabc41"/><path d="M231.62 708.43l2.69-1.81l-2.53-1.98l-2.69 1.8z" fill="#fabc41"/><path d="M236.84 708.86l2.69-1.7l-2.53-2.22l-2.69 1.69z" fill="#f9bb43"/><path d="M242.07 709.85l2.69-1.62l-2.53-2.68l-2.69 1.61z" fill="#f7ba45"/><path d="M247.29 712.05l2.69-1.57l-2.53-3.8l-2.69 1.55z" fill="#efb94b"/><path d="M213.27 713.66l2.69-3.87l-2.53-1.65l-2.69 3.85z" fill="#ebb94d"/><path d="M218.49 711.52l2.69-2.71l-2.53-1.72l-2.69 2.7z" fill="#f4ba48"/><path d="M223.71 710.65l2.69-2.24l-2.53-1.83l-2.69 2.22z" fill="#f7ba45"/><path d="M228.93 710.41l2.69-1.98l-2.53-1.98l-2.69 1.97z" fill="#f8ba44"/><path d="M234.15 710.67l2.69-1.82l-2.53-2.23l-2.69 1.81z" fill="#f7ba45"/><path d="M239.38 711.56l2.69-1.71l-2.53-2.69l-2.69 1.7z" fill="#f4ba47"/><path d="M244.6 713.69l2.69-1.64l-2.53-3.81l-2.69 1.62z" fill="#ecb94c"/><path d="M215.8 715.41l2.69-3.9l-2.53-1.74l-2.69 3.87z" fill="#e9b94e"/><path d="M221.02 713.37l2.69-2.73l-2.53-1.84l-2.69 2.71z" fill="#f1b94a"/><path d="M226.24 712.66l2.69-2.25l-2.53-1.99l-2.69 2.24z" fill="#f4ba48"/><path d="M231.46 712.67l2.69-1.99l-2.53-2.25l-2.69 1.98z" fill="#f4ba47"/><path d="M236.69 713.4l2.69-1.83l-2.53-2.71l-2.69 1.82z" fill="#f1b949"/><path d="M241.91 715.42l2.69-1.73l-2.53-3.83l-2.69 1.71z" fill="#eab94e"/><path d="M218.33 717.3l2.69-3.92l-2.53-1.85l-2.69 3.9z" fill="#e6b950"/><path d="M223.55 715.4l2.69-2.74l-2.53-2.01l-2.69 2.73z" fill="#edb94c"/><path d="M228.77 714.93l2.69-2.27l-2.53-2.26l-2.69 2.25z" fill="#efb94b"/><path d="M234 715.41l2.69-2.01l-2.53-2.72l-2.69 1.99z" fill="#eeb94c"/><path d="M239.22 717.28l2.69-1.86l-2.53-3.86l-2.69 1.83z" fill="#e6b94f"/><path d="M220.86 719.36l2.69-3.95l-2.53-2.03l-2.69 3.92z" fill="#e2b952"/><path d="M226.09 717.7l2.69-2.77l-2.53-2.28l-2.69 2.74z" fill="#e9b94e"/><path d="M231.31 717.7l2.69-2.29l-2.53-2.74l-2.69 2.27z" fill="#e9b94e"/><path d="M236.53 719.32l2.69-2.04l-2.53-3.88l-2.69 2.01z" fill="#e3b951"/><path d="M223.4 721.7l2.69-4l-2.53-2.3l-2.69 3.95z" fill="#ddba54"/><path d="M228.62 720.5l2.69-2.8l-2.53-2.76l-2.69 2.77z" fill="#e2b952"/><path d="M233.84 721.65l2.69-2.33l-2.53-3.92l-2.69 2.29z" fill="#ddba54"/><path d="M225.93 724.56l2.69-4.06l-2.53-2.8l-2.69 4z" fill="#d6ba57"/><path d="M231.15 724.52l2.69-2.86l-2.53-3.96l-2.69 2.8z" fill="#d6ba57"/><path d="M228.46 728.67l2.69-4.16l-2.53-4.02l-2.69 4.06z" fill="#cabb5c"/></g>
<g stroke="#000" stroke-width="1" shape-rendering="crispEdges"><path d="M104.25 725.99l2.69-66.35l-2.53-1.17l-2.69 66.33z" fill="#0790c1"/><path d="M360.11 707.62l2.69-1.13l-2.53-46.32l-2.69 1.13z" fill="#28aa9a"/><path d="M106.78 727.19l2.69-66.38l-2.53-1.17l-2.69 66.35z" fill="#0790c2"/><path d="M357.42 708.75l2.69-1.13l-2.53-46.32l-2.69 1.13z" fill="#28a99a"/><path d="M109.32 728.4l2.69-66.4l-2.53-1.18l-2.69 66.38z" fill="#0790c2"/><path d="M354.73 709.89l2.69-1.13l-2.53-46.32l-2.69 1.13z" fill="#27a99b"/><path d="M111.85 729.6l2.69-66.43l-2.53-1.18l-2.69 66.4z" fill="#078fc2"/><path d="M352.04 711.03l2.69-1.14l-2.53-46.32l-2.69 1.14z" fill="#27a99b"/><path d="M114.38 730.81l2.69-66.46l-2.53-1.18l-2.69 66.43z" fill="#078fc2"/><path d="M349.35 712.16l2.69-1.14l-2.53-46.32l-2.69 1.14z" fill="#26a99b"/><path d="M116.91 732.02l2.69-66.49l-2.53-1.18l-2.69 66.46z" fill="#078fc2"/><path d="M346.66 713.3l2.69-1.14l-2.53-46.32l-2.69 1.14z" fill="#26a99b"/><path d="M119.44 733.23l2.69-66.52l-2.53-1.18l-2.69 66.49z" fill="#088fc2"/><path d="M343.97 714.45l2.69-1.14l-2.53-46.32l-2.69 1.14z" fill="#26a99c"/><path d="M121.97 734.45l2.69-66.55l-2.53-1.19l-2.69 66.52z" fill="#088ec2"/><path d="M341.28 715.59l2.69-1.15l-2.53-46.32l-2.69 1.14z" fill="#25a99c"/><path d="M124.51 735.67l2.69-66.58l-2.53-1.19l-2.69 66.55z" fill="#088ec2"/><path d="M338.59 716.74l2.69-1.15l-2.53-46.33l-2.69 1.15z" fill="#25a99c"/><path d="M127.04 736.89l2.69-66.61l-2.53-1.19l-2.69 66.58z" fill="#088ec2"/><path d="M335.9 717.89l2.69-1.15l-2.53-46.33l-2.69 1.15z" fill="#24a99c"/><path d="M129.57 738.12l2.69-66.64l-2.53-1.19l-2.69 66.61z" fill="#088ec2"/><path d="M333.21 719.04l2.69-1.15l-2.53-46.33l-2.69 1.15z" fill="#24a99d"/><path d="M132.1 739.35l2.69-66.68l-2.53-1.2l-2.69 66.64z" fill="#088dc2"/><path d="M330.52 720.2l2.69-1.16l-2.53-46.33l-2.69 1.16z" fill="#23a99d"/><path d="M134.63 740.58l2.69-66.71l-2.53-1.2l-2.69 66.68z" fill="#098dc3"/><path d="M327.83 721.36l2.69-1.16l-2.53-46.33l-2.69 1.16z" fill="#23a89d"/><path d="M137.16 741.82l2.69-66.75l-2.53-1.2l-2.69 66.71z" fill="#098dc3"/><path d="M325.14 722.52l2.69-1.16l-2.53-46.33l-2.69 1.16z" fill="#22a89e"/><path d="M139.69 743.06l2.69-66.78l-2.53-1.21l-2.69 66.75z" fill="#098cc3"/><path d="M322.45 723.69l2.69-1.17l-2.53-46.33l-2.69 1.17z" fill="#22a89e"/><path d="M142.23 744.31l2.69-66.82l-2.53-1.21l-2.69 66.78z" fill="#098cc3"/><path d="M319.76 724.86l2.69-1.17l-2.53-46.33l-2.69 1.17z" fill="#21a89e"/><path d="M144.76 745.56l2.69-66.86l-2.53-1.21l-2.69 66.82z" fill="#0a8bc3"/><path d="M317.07 726.03l2.69-1.17l-2.53-46.33l-2.69 1.17z" fill="#21a89f"/><path d="M147.29 746.82l2.69-66.9l-2.53-1.22l-2.69 66.86z" fill="#0a8bc3"/><path d="M314.38 727.21l2.69-1.18l-2.53-46.33l-2.69 1.18z" fill="#20a89f"/><path d="M149.82 748.08l2.69-66.94l-2.53-1.22l-2.69 66.9z" fill="#0a8bc3"/><path d="M311.69 728.39l2.69-1.18l-2.53-46.33l-2.69 1.18z" fill="#20a89f"/><path d="M152.35 749.35l2.69-66.98l-2.53-1.23l-2.69 66.94z" fill="#0b8ac3"/><path d="M309 729.58l2.69-1.19l-2.53-46.33l-2.69 1.19z" fill="#1fa8a0"/><path d="M154.88 750.63l2.69-67.02l-2.53-1.23l-2.69 66.98z" fill="#0b8ac3"/><path d="M306.31 730.77l2.69-1.19l-2.53-46.33l-2.69 1.19z" fill="#1fa7a0"/><path d="M157.42 751.91l2.69-67.07l-2.53-1.24l-2.69 67.02z" fill="#0b89c3"/><path d="M303.62 731.97l2.69-1.2l-2.53-46.34l-2.69 1.2z" fill="#1ea7a0"/><path d="M159.95 753.2l2.69-67.11l-2.53-1.24l-2.69 67.07z" fill="#0c89c3"/><path d="M300.93 733.17l2.69-1.2l-2.53-46.34l-2.69 1.2z" fill="#1ea7a1"/><path d="M162.48 754.49l2.69-67.16l-2.53-1.25l-2.69 67.11z" fill="#0c88c3"/><path d="M298.24 734.38l2.69-1.21l-2.53-46.34l-2.69 1.21z" fill="#1da7a1"/><path d="M165.01 755.8l2.69-67.21l-2.53-1.25l-2.69 67.16z" fill="#0c88c3"/><path d="M295.55 735.6l2.69-1.22l-2.53-46.34l-2.69 1.22z" fill="#1ca7a2"/><path d="M167.54 757.11l2.69-67.26l-2.53-1.26l-2.69 67.21z" fill="#0d87c3"/><path d="M292.86 736.82l2.69-1.22l-2.53-46.34l-2.69 1.22z" fill="#1ca7a2"/><path d="M170.07 758.44l2.69-67.32l-2.53-1.27l-2.69 67.26z" fill="#0d87c3"/><path d="M290.17 738.06l2.69-1.23l-2.53-46.34l-2.69 1.23z" fill="#1ba6a3"/><path d="M172.61 759.77l2.69-67.38l-2.53-1.28l-2.69 67.32z" fill="#0e86c3"/><path d="M287.48 739.3l2.69-1.24l-2.53-46.34l-2.69 1.24z" fill="#1aa6a3"/><path d="M175.14 761.12l2.69-67.44l-2.53-1.29l-2.69 67.38z" fill="#0e86c3"/><path d="M284.79 740.54l2.69-1.25l-2.53-46.34l-2.69 1.25z" fill="#19a6a4"/><path d="M177.67 762.48l2.69-67.5l-2.53-1.3l-2.69 67.44z" fill="#0f85c3"/><path d="M282.1 741.8l2.69-1.26l-2.53-46.34l-2.69 1.26z" fill="#19a6a4"/><path d="M180.2 763.85l2.69-67.56l-2.53-1.31l-2.69 67.5z" fill="#0f84c3"/><path d="M279.41 743.08l2.69-1.27l-2.53-46.35l-2.69 1.27z" fill="#18a5a5"/><path d="M182.73 765.24l2.69-67.63l-2.53-1.32l-2.69 67.56z" fill="#0f84c3"/><path d="M276.72 744.36l2.69-1.28l-2.53-46.35l-2.69 1.28z" fill="#17a5a5"/><path d="M185.26 766.65l2.69-67.71l-2.53-1.33l-2.69 67.63z" fill="#1083c4"/><path d="M274.03 745.66l2.69-1.3l-2.53-46.35l-2.69 1.3z" fill="#16a5a6"/><path d="M187.79 768.07l2.69-67.78l-2.53-1.35l-2.69 67.71z" fill="#1082c4"/><path d="M271.34 746.97l2.69-1.31l-2.53-46.35l-2.69 1.31z" fill="#15a5a7"/><path d="M190.33 769.52l2.69-67.87l-2.53-1.37l-2.69 67.78z" fill="#1181c4"/><path d="M268.65 748.3l2.69-1.33l-2.53-46.35l-2.69 1.33z" fill="#14a4a7"/><path d="M192.86 770.99l2.69-67.95l-2.53-1.39l-2.69 67.87z" fill="#1180c4"/><path d="M265.96 749.65l2.69-1.35l-2.53-46.35l-2.69 1.35z" fill="#13a4a8"/><path d="M195.39 772.5l2.69-68.05l-2.53-1.41l-2.69 67.95z" fill="#127fc4"/><path d="M263.27 751.03l2.69-1.37l-2.53-46.35l-2.69 1.37z" fill="#12a4a9"/><path d="M197.92 774.03l2.69-68.15l-2.53-1.43l-2.69 68.05z" fill="#127fc4"/><path d="M260.58 752.43l2.69-1.4l-2.53-46.36l-2.69 1.4z" fill="#11a3a9"/><path d="M200.45 775.61l2.69-68.26l-2.53-1.46l-2.69 68.15z" fill="#127ec4"/><path d="M257.89 753.86l2.69-1.43l-2.53-46.36l-2.69 1.43z" fill="#10a3aa"/><path d="M202.98 777.23l2.69-68.38l-2.53-1.5l-2.69 68.26z" fill="#137cc5"/><path d="M255.2 755.33l2.69-1.47l-2.53-46.36l-2.69 1.47z" fill="#0fa3ab"/><path d="M205.52 778.91l2.69-68.52l-2.53-1.54l-2.69 68.38z" fill="#137bc5"/><path d="M252.51 756.85l2.69-1.52l-2.53-46.36l-2.69 1.51z" fill="#0ea2ac"/><path d="M208.05 780.66l2.69-68.67l-2.53-1.6l-2.69 68.52z" fill="#137ac6"/><path d="M249.82 758.42l2.69-1.57l-2.53-46.37l-2.69 1.57z" fill="#0ca1ad"/><path d="M210.58 782.5l2.69-68.84l-2.53-1.67l-2.69 68.67z" fill="#1379c6"/><path d="M247.13 760.06l2.69-1.64l-2.53-46.37l-2.69 1.64z" fill="#0ba1af"/><path d="M213.11 784.45l2.69-69.04l-2.53-1.76l-2.69 68.84z" fill="#1277c7"/><path d="M244.44 761.8l2.69-1.74l-2.53-46.37l-2.69 1.73z" fill="#09a0b0"/><path d="M215.64 786.57l2.69-69.27l-2.53-1.88l-2.69 69.04z" fill="#1275c8"/><path d="M241.75 763.66l2.69-1.86l-2.53-46.38l-2.69 1.86z" fill="#089fb2"/><path d="M218.17 788.91l2.69-69.56l-2.53-2.06l-2.69 69.27z" fill="#1173c9"/><path d="M239.06 765.71l2.69-2.05l-2.53-46.38l-2.69 2.04z" fill="#079eb4"/><path d="M220.71 791.62l2.69-69.92l-2.53-2.34l-2.69 69.56z" fill="#0f70cb"/><path d="M236.37 768.05l2.69-2.34l-2.53-46.39l-2.69 2.33z" fill="#069cb6"/><path d="M223.24 795l2.69-70.44l-2.53-2.86l-2.69 69.92z" fill="#0b6ccd"/><path d="M233.68 770.92l2.69-2.87l-2.53-46.4l-2.69 2.86z" fill="#059aba"/><path d="M225.77 800l2.69-71.33l-2.53-4.12l-2.69 70.44z" fill="#0465d0"/><path d="M230.99 775.1l2.69-4.18l-2.53-46.41l-2.69 4.16z" fill="#0695be"/><path d="M228.3 825.5l2.69-50.4l-2.53-46.42l-2.69 71.33z" fill="#31277d"/></g>
<circle cx="101.4" cy="731.4" r="1.9" fill="#0a0aff"/>
<circle cx="203" cy="774" r="1.9" fill="#0a0aff"/>
<circle cx="236.6" cy="725.6" r="2.6" fill="#0a0aff" stroke="#fff" stroke-width="1.1"/>
<circle cx="244.2" cy="693.5" r="2.6" fill="#0a0aff" stroke="#fff" stroke-width="1.1"/>
<circle cx="262.5" cy="753" r="1.9" fill="#0a0aff"/>
<circle cx="295.3" cy="719.3" r="2.6" fill="#0a0aff" stroke="#fff" stroke-width="1.1"/>
<circle cx="362.5" cy="677.2" r="1.9" fill="#0a0aff"/>
<circle cx="228.3" cy="825.5" r="1.9" fill="#0a0aff"/>
<circle cx="228.3" cy="785.6" r="2.6" fill="#0a0aff" stroke="#fff" stroke-width="1.1"/>
<circle cx="237.2" cy="786.9" r="1.9" fill="#0a0aff"/>
<circle cx="245.6" cy="774.4" r="1.9" fill="#0a0aff"/>
<circle cx="223.2" cy="792.7" r="1.9" fill="#0a0aff"/>
<circle cx="227.8" cy="796.3" r="2.6" fill="#0a0aff" stroke="#fff" stroke-width="1.1"/>
<path d="M267.2 670.6a2.7 2.7 0 0 1 5.4 0z" fill="#0a0aff" stroke="#fff" stroke-width="0.9"/>
<text x="93.5" y="772.6" text-anchor="end" font-size="11.2">0</text>
<text x="93.5" y="740.3" text-anchor="end" font-size="11.2">0.2</text>
<text x="93.5" y="708.0" text-anchor="end" font-size="11.2">0.4</text>
<text x="93.5" y="675.6" text-anchor="end" font-size="11.2">0.6</text>
<text x="93.5" y="643.3" text-anchor="end" font-size="11.2">0.8</text>
<text x="87.9" y="784.6" text-anchor="middle" font-size="11.2">10</text>
<text x="154" y="811" text-anchor="middle" font-size="11.2">5</text>
<text x="218" y="838" text-anchor="middle" font-size="11.2">0</text>
<text x="239" y="838" text-anchor="middle" font-size="11.2">0</text>
<text x="295" y="818.4" text-anchor="middle" font-size="11.2">20</text>
<text x="349.7" y="797.5" text-anchor="middle" font-size="11.2">40</text>
<text x="60.6" y="832" font-size="13.8">MK-0646 (ng/ul)</text>
<text x="293" y="834.4" font-size="13.9">MK-8669 (nM)</text>
<text transform="translate(61.3 706.5) rotate(-90)" text-anchor="middle" font-size="13.6">Effect (Fa)</text>
<text x="230.7" y="581.8" text-anchor="middle" font-size="16.9">Response Surface Model</text>
<defs><linearGradient id="cb" x1="0" y1="0" x2="0" y2="1"><stop offset="0.0000" stop-color="#f9fb0e"/><stop offset="0.0159" stop-color="#f6f313"/><stop offset="0.0317" stop-color="#f5eb18"/><stop offset="0.0476" stop-color="#f5e41d"/><stop offset="0.0635" stop-color="#f5de21"/><stop offset="0.0794" stop-color="#f7d826"/><stop offset="0.0952" stop-color="#fad32a"/><stop offset="0.1111" stop-color="#fcce2e"/><stop offset="0.1270" stop-color="#fec832"/><stop offset="0.1429" stop-color="#ffc337"/><stop offset="0.1587" stop-color="#fdbe3d"/><stop offset="0.1746" stop-color="#f8bb44"/><stop offset="0.1905" stop-color="#f1b94a"/><stop offset="0.2063" stop-color="#e9b94e"/><stop offset="0.2222" stop-color="#e1b952"/><stop offset="0.2381" stop-color="#d9ba56"/><stop offset="0.2540" stop-color="#d1bb59"/><stop offset="0.2698" stop-color="#c8bc5d"/><stop offset="0.2857" stop-color="#c0bc60"/><stop offset="0.3016" stop-color="#b7bd64"/><stop offset="0.3175" stop-color="#aebe67"/><stop offset="0.3333" stop-color="#a5be6b"/><stop offset="0.3492" stop-color="#9cbf6f"/><stop offset="0.3651" stop-color="#92bf73"/><stop offset="0.3810" stop-color="#87bf77"/><stop offset="0.3968" stop-color="#7cbf7b"/><stop offset="0.4127" stop-color="#71bf80"/><stop offset="0.4286" stop-color="#65be86"/><stop offset="0.4444" stop-color="#59bd8c"/><stop offset="0.4603" stop-color="#4dbc92"/><stop offset="0.4762" stop-color="#42bb98"/><stop offset="0.4921" stop-color="#38b99e"/><stop offset="0.5079" stop-color="#2eb7a4"/><stop offset="0.5238" stop-color="#25b5a9"/><stop offset="0.5397" stop-color="#1db3af"/><stop offset="0.5556" stop-color="#15b1b4"/><stop offset="0.5714" stop-color="#0faeb9"/><stop offset="0.5873" stop-color="#0aacbe"/><stop offset="0.6032" stop-color="#07a9c2"/><stop offset="0.6190" stop-color="#06a7c6"/><stop offset="0.6349" stop-color="#06a4ca"/><stop offset="0.6508" stop-color="#06a0cd"/><stop offset="0.6667" stop-color="#079ccf"/><stop offset="0.6825" stop-color="#0998d1"/><stop offset="0.6984" stop-color="#0c93d2"/><stop offset="0.7143" stop-color="#108ed2"/><stop offset="0.7302" stop-color="#1389d3"/><stop offset="0.7460" stop-color="#1485d4"/><stop offset="0.7619" stop-color="#1481d6"/><stop offset="0.7778" stop-color="#127dd8"/><stop offset="0.7937" stop-color="#1079da"/><stop offset="0.8095" stop-color="#0d75dc"/><stop offset="0.8254" stop-color="#0871de"/><stop offset="0.8413" stop-color="#046de0"/><stop offset="0.8571" stop-color="#0268e1"/><stop offset="0.8730" stop-color="#0363e1"/><stop offset="0.8889" stop-color="#0f5cdd"/><stop offset="0.9048" stop-color="#2053d4"/><stop offset="0.9206" stop-color="#2c4ac7"/><stop offset="0.9365" stop-color="#3243ba"/><stop offset="0.9524" stop-color="#353dad"/><stop offset="0.9683" stop-color="#3637a0"/><stop offset="0.9841" stop-color="#363093"/><stop offset="1.0000" stop-color="#352a87"/></linearGradient></defs>
<rect x="388.2" y="614.2" width="9.7" height="178.2" fill="url(#cb)" stroke="#111" stroke-width="0.9"/>
<text x="401.3" y="796.2" font-size="10.4">0</text>
<text x="401.3" y="773.9" font-size="10.4">0.1</text>
<text x="401.3" y="751.6" font-size="10.4">0.2</text>
<text x="401.3" y="729.4" font-size="10.4">0.3</text>
<text x="401.3" y="707.1" font-size="10.4">0.4</text>
<text x="401.3" y="684.8" font-size="10.4">0.5</text>
<text x="401.3" y="662.5" font-size="10.4">0.6</text>
<text x="401.3" y="640.3" font-size="10.4">0.7</text>
<text x="401.3" y="618.0" font-size="10.4">0.8</text>
<path d="M397.9 770.1h-1.8M397.9 747.9h-1.8M397.9 725.6h-1.8M397.9 703.3h-1.8M397.9 681.0h-1.8M397.9 658.8h-1.8M397.9 636.5h-1.8" stroke="#222" stroke-width="0.8"/>
</g>
</svg>
</body></html>
